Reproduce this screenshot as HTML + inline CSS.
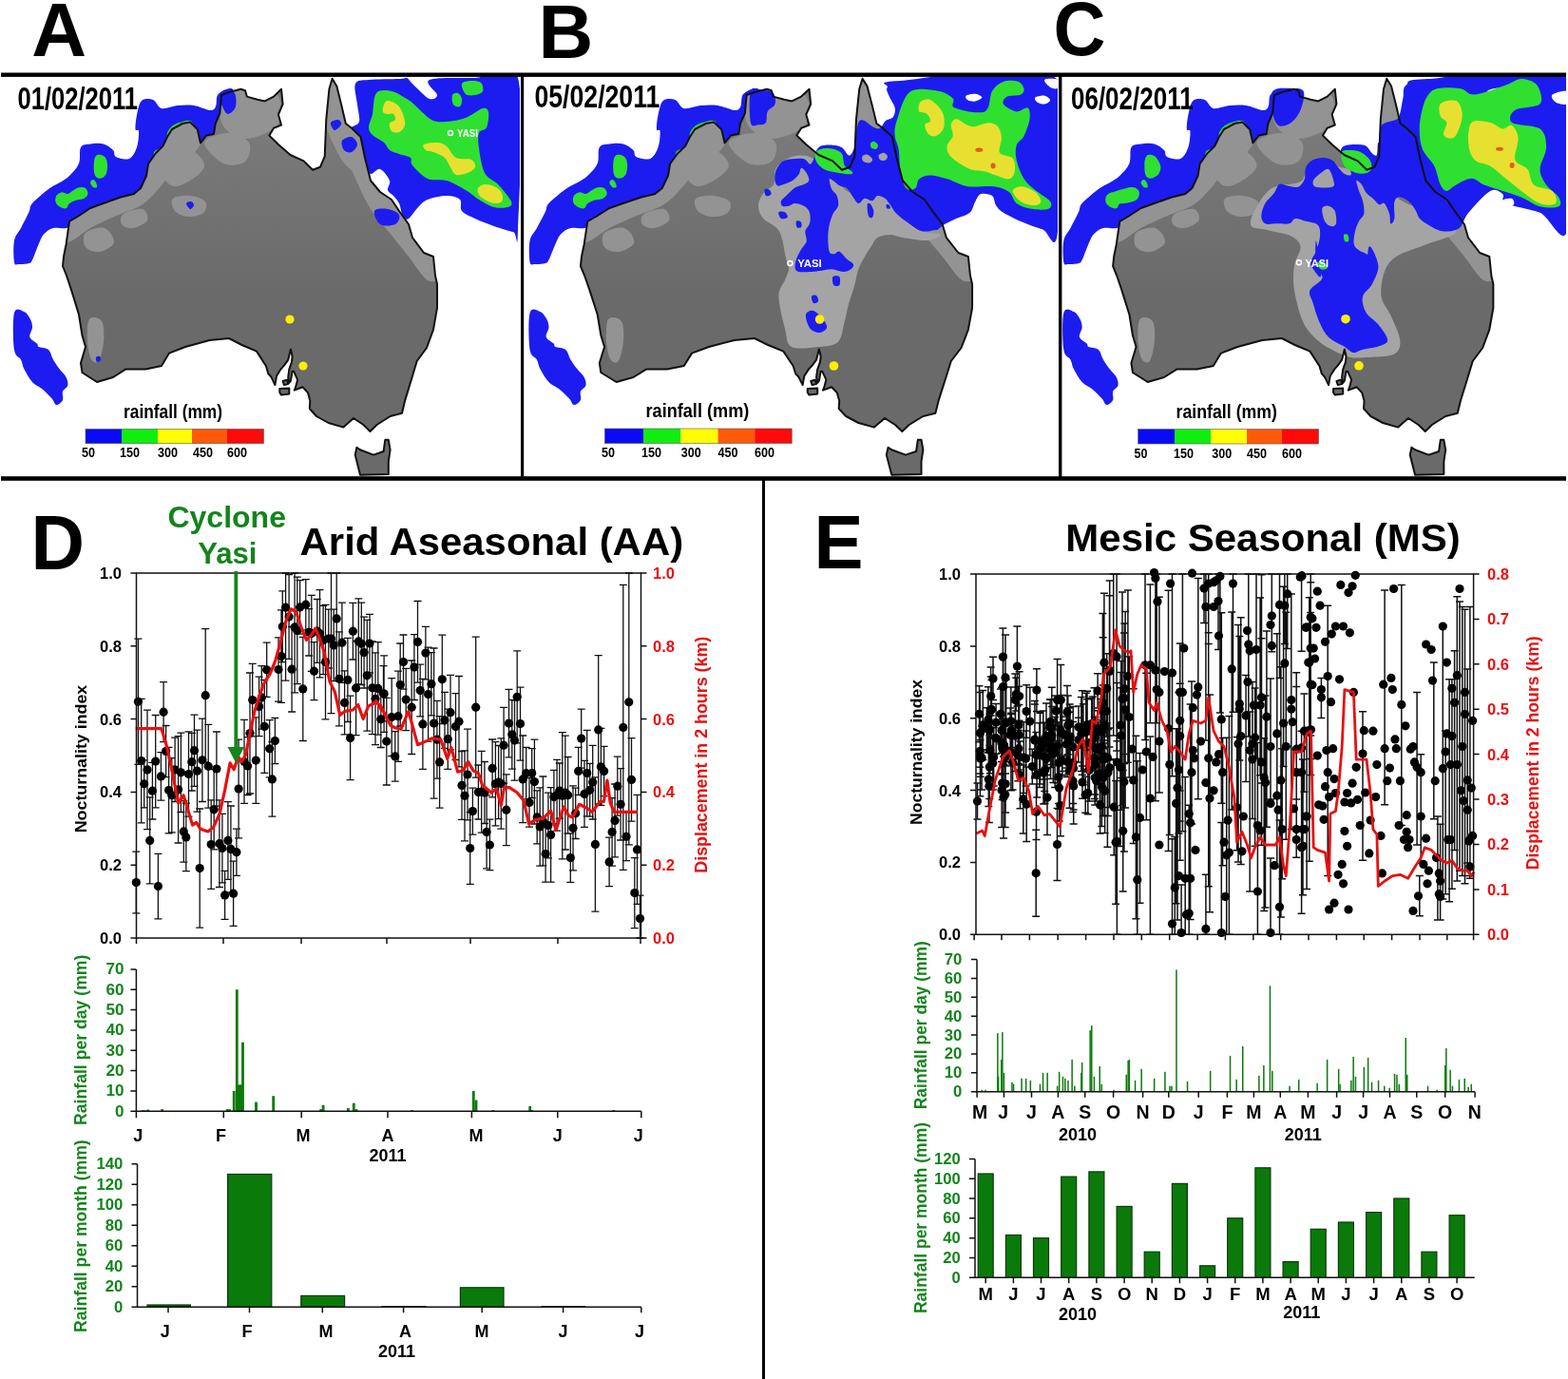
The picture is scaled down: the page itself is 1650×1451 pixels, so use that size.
<!DOCTYPE html><html><head><meta charset="utf-8"><title>figure</title><style>html,body{margin:0;padding:0;background:#fff;overflow:hidden}svg{display:block}text{font-family:"Liberation Sans",Arial,sans-serif;font-weight:bold}</style></head><body>
<svg width="1650" height="1451" viewBox="0 0 1650 1451">
<defs>
<clipPath id="cA"><rect x="0" y="80" width="547" height="421"/></clipPath>
<clipPath id="cB"><rect x="551" y="80" width="562" height="421"/></clipPath>
<clipPath id="cC"><rect x="1117" y="80" width="531" height="421"/></clipPath>
<clipPath id="landclip"><polygon points="86.5,392.0 85.0,382.0 90.0,365.0 86.5,353.0 83.0,331.0 75.0,305.0 70.0,290.0 66.0,280.0 67.0,270.0 69.6,257.0 73.0,233.0 81.5,228.0 95.0,219.0 108.6,214.0 127.0,207.5 141.0,204.0 148.0,198.0 154.0,185.0 156.0,172.5 163.6,161.5 171.5,153.6 176.0,144.0 181.0,136.0 192.0,130.0 200.0,128.4 207.8,136.3 211.0,150.5 217.0,142.6 225.0,141.0 226.7,130.0 231.4,119.0 233.0,100.0 240.8,97.0 253.5,93.8 258.0,95.3 259.8,101.6 270.8,104.8 278.7,106.4 288.0,101.6 296.0,93.8 297.6,109.5 292.9,120.5 296.0,131.6 288.0,134.7 283.4,142.6 292.9,152.0 305.5,163.0 319.6,169.4 329.0,178.8 337.0,175.7 341.7,164.7 343.3,125.3 346.4,93.8 349.6,82.7 354.3,90.6 359.0,109.5 363.8,130.0 370.0,134.7 379.5,144.0 384.0,166.0 390.0,190.0 400.0,202.0 412.0,210.0 420.0,222.0 430.0,236.0 434.0,250.0 446.0,266.0 456.0,270.0 458.0,290.0 460.0,299.0 460.0,324.0 456.0,346.8 449.0,366.0 438.7,380.0 433.4,397.7 426.4,420.6 423.0,434.7 410.6,438.0 396.5,447.0 389.5,454.0 382.5,447.0 372.0,440.0 361.4,449.6 345.6,445.0 333.0,438.0 325.8,430.0 326.3,421.7 324.1,413.4 318.6,407.3 309.8,410.6 310.9,407.9 313.1,399.6 309.2,390.8 307.6,390.8 305.9,400.7 304.3,402.9 303.2,396.9 304.3,388.6 307.0,380.9 307.6,374.8 305.9,367.6 303.2,378.7 299.3,384.2 295.4,388.6 291.0,395.8 289.4,405.1 285.5,396.9 282.2,393.0 280.0,385.3 270.0,369.6 254.5,363.0 241.0,356.0 220.6,358.0 195.0,365.0 178.0,371.6 170.0,385.0 153.0,388.6 132.0,388.6 119.0,397.0 102.0,402.0"/></clipPath>
<linearGradient id="medg" gradientUnits="userSpaceOnUse" x1="0" y1="140" x2="0" y2="310"><stop offset="0" stop-color="#7a7a7a"/><stop offset="1" stop-color="#7a7a7a" stop-opacity="0"/></linearGradient>
</defs>
<g clip-path="url(#cA)">
<g transform="matrix(1.0 0 0 1 0.0 0)">
<path d="M15.0,276.0 C14.2,271.8 13.8,259.0 15.0,253.0 C16.2,247.0 19.4,245.0 22.0,240.0 C24.6,235.0 28.5,227.3 30.5,223.0 C32.5,218.7 30.6,218.0 34.0,214.0 C37.4,210.0 46.2,202.7 51.0,199.0 C55.8,195.3 59.3,194.3 63.0,192.0 C66.7,189.7 69.7,188.3 73.0,185.0 C76.3,181.7 81.0,177.0 83.0,172.0 C85.0,167.0 83.0,158.4 85.0,155.0 C87.0,151.6 91.0,152.1 95.0,151.5 C99.0,150.9 105.0,150.4 109.0,151.5 C113.0,152.6 116.8,155.8 119.0,158.0 C121.2,160.2 119.2,163.5 122.0,165.0 C124.8,166.5 132.3,168.7 136.0,167.0 C139.7,165.3 142.3,159.8 144.0,155.0 C145.7,150.2 146.2,141.2 146.0,138.0 C145.8,134.8 142.8,138.8 142.5,136.0 C142.2,133.2 142.9,126.0 144.0,121.0 C145.1,116.0 146.2,108.7 149.0,106.0 C151.8,103.3 157.5,103.7 161.0,105.0 C164.5,106.3 165.7,113.0 170.0,114.0 C174.3,115.0 181.3,111.5 187.0,111.0 C192.7,110.5 198.3,110.2 204.0,111.0 C209.7,111.8 217.2,115.8 221.0,116.0 C224.8,116.2 225.7,114.7 227.0,112.0 C228.3,109.3 227.2,103.0 229.0,100.0 C230.8,97.0 235.2,94.8 238.0,94.0 C240.8,93.2 244.2,91.7 246.0,95.5 C247.8,99.3 249.3,111.6 249.0,117.0 C248.7,122.4 247.2,122.5 244.0,128.0 C240.8,133.5 237.3,143.0 230.0,150.0 C222.7,157.0 213.3,159.2 200.0,170.0 C186.7,180.8 168.3,204.2 150.0,215.0 C131.7,225.8 103.3,230.8 90.0,235.0 C76.7,239.2 75.7,239.2 70.0,240.0 C64.3,240.8 60.0,238.9 56.0,240.0 C52.0,241.1 48.5,243.7 46.0,246.5 C43.5,249.3 42.7,252.2 40.7,256.7 C38.7,261.2 35.7,270.2 34.0,273.6 C32.3,277.0 32.8,276.3 30.5,277.0 C28.2,277.7 22.6,278.2 20.0,278.0 C17.4,277.8 15.8,280.2 15.0,276.0Z" fill="#1c1cf0" />
<path d="M99.0,170.0 C99.3,167.2 99.8,165.2 101.0,164.0 C102.2,162.8 104.3,162.7 106.0,163.0 C107.7,163.3 109.8,164.3 111.0,166.0 C112.2,167.7 112.8,170.3 113.0,173.0 C113.2,175.7 112.8,179.7 112.0,182.0 C111.2,184.3 109.7,186.2 108.0,187.0 C106.3,187.8 103.5,188.0 102.0,187.0 C100.5,186.0 99.5,183.8 99.0,181.0 C98.5,178.2 98.7,172.8 99.0,170.0Z" fill="#30e030" />
<path d="M59.4,205.8 C60.4,204.1 62.5,202.7 64.5,202.4 C66.5,202.1 69.3,204.3 71.3,204.0 C73.3,203.7 74.4,201.8 76.4,200.7 C78.4,199.6 80.8,197.7 83.1,197.3 C85.3,196.9 88.3,197.0 89.9,198.1 C91.5,199.2 92.8,202.2 92.5,204.0 C92.2,205.8 90.3,208.0 88.2,209.1 C86.1,210.2 82.3,210.0 79.8,210.8 C77.3,211.7 74.7,212.8 73.0,214.2 C71.3,215.6 71.3,218.7 69.6,219.3 C67.9,219.9 64.6,218.7 62.8,217.6 C60.9,216.5 59.1,214.5 58.5,212.5 C57.9,210.5 58.4,207.5 59.4,205.8Z" fill="#30e030" />
<path d="M95.0,192.0 C95.0,190.7 97.0,189.0 98.0,189.0 C99.0,189.0 100.3,190.7 101.0,192.0 C101.7,193.3 102.5,196.2 102.0,197.0 C101.5,197.8 99.2,197.8 98.0,197.0 C96.8,196.2 95.0,193.3 95.0,192.0Z" fill="#30e030" />
<path d="M176.0,140.0 C176.7,137.3 179.3,134.0 182.0,132.0 C184.7,130.0 189.0,128.8 192.0,128.0 C195.0,127.2 198.2,126.5 200.0,127.0 C201.8,127.5 202.7,129.2 203.0,131.0 C203.3,132.8 203.2,136.2 202.0,138.0 C200.8,139.8 198.7,140.7 196.0,142.0 C193.3,143.3 189.0,145.0 186.0,146.0 C183.0,147.0 179.7,149.0 178.0,148.0 C176.3,147.0 175.3,142.7 176.0,140.0Z" fill="#30e030" />
<path d="M162.0,160.0 C162.7,158.5 165.7,157.0 167.0,157.0 C168.3,157.0 169.8,158.5 170.0,160.0 C170.2,161.5 169.2,165.0 168.0,166.0 C166.8,167.0 164.0,167.0 163.0,166.0 C162.0,165.0 161.3,161.5 162.0,160.0Z" fill="#30e030" />
<path d="M15.0,329.0 C16.8,322.3 22.7,326.8 25.5,328.0 C28.3,329.2 30.6,333.2 32.0,336.0 C33.4,338.8 34.1,341.4 34.0,344.5 C33.9,347.6 30.6,351.9 31.4,354.7 C32.2,357.5 37.5,359.8 39.0,361.5 C40.5,363.2 38.7,363.9 40.7,365.0 C42.7,366.1 48.5,365.8 51.0,368.0 C53.5,370.2 54.0,375.0 56.0,378.4 C58.0,381.8 60.5,385.5 62.8,388.6 C65.1,391.7 68.2,394.2 69.6,397.0 C71.0,399.8 71.9,403.1 71.3,405.6 C70.7,408.1 66.9,409.4 66.0,412.0 C65.1,414.6 67.1,418.7 66.0,421.0 C64.9,423.3 61.4,426.3 59.4,426.0 C57.4,425.7 56.9,421.8 54.3,419.0 C51.7,416.2 47.4,411.8 44.0,409.0 C40.6,406.2 37.1,405.4 34.0,402.0 C30.9,398.6 27.5,392.5 25.5,388.6 C23.5,384.7 23.8,381.8 22.0,378.4 C20.2,375.0 16.2,376.2 15.0,368.0 C13.8,359.8 13.2,335.7 15.0,329.0Z" fill="#1c1cf0" />
</g>
<path d="M376.0,110.0 C375.3,103.3 372.0,92.3 374.0,88.0 C376.0,83.7 380.3,84.8 388.0,84.0 C395.7,83.2 413.3,83.3 420.0,83.0 C426.7,82.7 426.0,81.5 428.0,82.0 C430.0,82.5 430.0,84.0 432.0,86.0 C434.0,88.0 436.7,91.0 440.0,94.0 C443.3,97.0 448.7,103.0 452.0,104.0 C455.3,105.0 460.0,103.3 460.0,100.0 C460.0,96.7 445.3,87.0 452.0,84.0 C458.7,81.0 484.5,82.3 500.0,82.0 C515.5,81.7 537.5,55.3 545.0,82.0 C552.5,108.7 545.8,215.0 545.0,242.0 C544.2,269.0 544.2,244.7 540.0,244.0 C535.8,243.3 526.7,240.3 520.0,238.0 C513.3,235.7 505.7,232.7 500.0,230.0 C494.3,227.3 488.7,225.3 486.0,222.0 C483.3,218.7 486.7,212.7 484.0,210.0 C481.3,207.3 475.7,206.0 470.0,206.0 C464.3,206.0 455.0,208.0 450.0,210.0 C445.0,212.0 443.3,214.7 440.0,218.0 C436.7,221.3 432.7,228.3 430.0,230.0 C427.3,231.7 425.7,230.7 424.0,228.0 C422.3,225.3 421.7,217.7 420.0,214.0 C418.3,210.3 416.0,208.3 414.0,206.0 C412.0,203.7 408.7,202.7 408.0,200.0 C407.3,197.3 411.3,193.7 410.0,190.0 C408.7,186.3 403.3,179.2 400.0,178.0 C396.7,176.8 392.5,184.0 390.0,183.0 C387.5,182.0 386.5,177.5 385.0,172.0 C383.5,166.5 382.8,155.7 381.0,150.0 C379.2,144.3 375.8,140.7 374.0,138.0 C372.2,135.3 369.3,135.7 370.0,134.0 C370.7,132.3 377.0,132.0 378.0,128.0 C379.0,124.0 376.7,116.7 376.0,110.0Z" fill="#1c1cf0" />
<path d="M396.0,98.0 C399.3,94.0 406.7,95.0 412.0,96.0 C417.3,97.0 424.0,101.7 428.0,104.0 C432.0,106.3 431.7,106.3 436.0,110.0 C440.3,113.7 448.3,123.0 454.0,126.0 C459.7,129.0 464.0,128.3 470.0,128.0 C476.0,127.7 483.7,126.3 490.0,124.0 C496.3,121.7 504.0,115.0 508.0,114.0 C512.0,113.0 513.3,114.7 514.0,118.0 C514.7,121.3 513.7,130.3 512.0,134.0 C510.3,137.7 505.3,136.3 504.0,140.0 C502.7,143.7 503.0,149.0 504.0,156.0 C505.0,163.0 506.7,175.7 510.0,182.0 C513.3,188.3 519.3,189.0 524.0,194.0 C528.7,199.0 536.3,208.0 538.0,212.0 C539.7,216.0 537.0,217.0 534.0,218.0 C531.0,219.0 525.0,219.3 520.0,218.0 C515.0,216.7 509.0,213.0 504.0,210.0 C499.0,207.0 495.7,203.3 490.0,200.0 C484.3,196.7 476.7,192.0 470.0,190.0 C463.3,188.0 456.0,190.7 450.0,188.0 C444.0,185.3 437.0,177.7 434.0,174.0 C431.0,170.3 434.3,168.0 432.0,166.0 C429.7,164.0 423.7,163.3 420.0,162.0 C416.3,160.7 412.7,160.0 410.0,158.0 C407.3,156.0 407.0,152.7 404.0,150.0 C401.0,147.3 394.7,144.7 392.0,142.0 C389.3,139.3 388.0,137.7 388.0,134.0 C388.0,130.3 390.7,126.0 392.0,120.0 C393.3,114.0 392.7,102.0 396.0,98.0Z" fill="#30e030" />
<path d="M486.0,88.0 C487.0,85.7 492.7,85.2 496.0,85.0 C499.3,84.8 504.0,85.2 506.0,87.0 C508.0,88.8 509.0,93.8 508.0,96.0 C507.0,98.2 503.0,99.5 500.0,100.0 C497.0,100.5 492.3,101.0 490.0,99.0 C487.7,97.0 485.0,90.3 486.0,88.0Z" fill="#30e030" />
<path d="M476.0,100.0 C476.8,98.0 480.3,97.3 482.0,98.0 C483.7,98.7 485.7,101.7 486.0,104.0 C486.3,106.3 485.5,111.0 484.0,112.0 C482.5,113.0 478.3,112.0 477.0,110.0 C475.7,108.0 475.2,102.0 476.0,100.0Z" fill="#30e030" />
<path d="M408.0,106.0 C410.3,106.0 415.3,107.7 418.0,110.0 C420.7,112.3 422.7,116.3 424.0,120.0 C425.3,123.7 426.7,128.8 426.0,132.0 C425.3,135.2 422.3,138.0 420.0,139.0 C417.7,140.0 413.7,139.5 412.0,138.0 C410.3,136.5 409.3,132.0 410.0,130.0 C410.7,128.0 415.3,127.7 416.0,126.0 C416.7,124.3 415.3,121.0 414.0,120.0 C412.7,119.0 409.8,120.3 408.0,120.0 C406.2,119.7 403.7,119.7 403.0,118.0 C402.3,116.3 403.2,112.0 404.0,110.0 C404.8,108.0 405.7,106.0 408.0,106.0Z" fill="#e8e030" />
<path d="M446.0,152.0 C448.0,150.7 456.0,149.7 460.0,150.0 C464.0,150.3 466.7,151.3 470.0,154.0 C473.3,156.7 475.7,163.7 480.0,166.0 C484.3,168.3 492.7,166.3 496.0,168.0 C499.3,169.7 500.7,173.7 500.0,176.0 C499.3,178.3 495.3,180.7 492.0,182.0 C488.7,183.3 483.0,185.0 480.0,184.0 C477.0,183.0 476.0,179.0 474.0,176.0 C472.0,173.0 471.0,168.7 468.0,166.0 C465.0,163.3 459.3,161.3 456.0,160.0 C452.7,158.7 449.7,159.3 448.0,158.0 C446.3,156.7 444.0,153.3 446.0,152.0Z" fill="#e8e030" />
<path d="M503.0,198.0 C504.0,196.2 507.2,194.3 510.0,194.0 C512.8,193.7 517.0,194.5 520.0,196.0 C523.0,197.5 526.7,200.3 528.0,203.0 C529.3,205.7 529.3,210.2 528.0,212.0 C526.7,213.8 523.0,214.3 520.0,214.0 C517.0,213.7 512.7,211.5 510.0,210.0 C507.3,208.5 505.2,207.0 504.0,205.0 C502.8,203.0 502.0,199.8 503.0,198.0Z" fill="#e8e030" />
<g transform="matrix(1.0 0 0 1 0.0 0)">
<polygon points="86.5,392.0 85.0,382.0 90.0,365.0 86.5,353.0 83.0,331.0 75.0,305.0 70.0,290.0 66.0,280.0 67.0,270.0 69.6,257.0 73.0,233.0 81.5,228.0 95.0,219.0 108.6,214.0 127.0,207.5 141.0,204.0 148.0,198.0 154.0,185.0 156.0,172.5 163.6,161.5 171.5,153.6 176.0,144.0 181.0,136.0 192.0,130.0 200.0,128.4 207.8,136.3 211.0,150.5 217.0,142.6 225.0,141.0 226.7,130.0 231.4,119.0 233.0,100.0 240.8,97.0 253.5,93.8 258.0,95.3 259.8,101.6 270.8,104.8 278.7,106.4 288.0,101.6 296.0,93.8 297.6,109.5 292.9,120.5 296.0,131.6 288.0,134.7 283.4,142.6 292.9,152.0 305.5,163.0 319.6,169.4 329.0,178.8 337.0,175.7 341.7,164.7 343.3,125.3 346.4,93.8 349.6,82.7 354.3,90.6 359.0,109.5 363.8,130.0 370.0,134.7 379.5,144.0 384.0,166.0 390.0,190.0 400.0,202.0 412.0,210.0 420.0,222.0 430.0,236.0 434.0,250.0 446.0,266.0 456.0,270.0 458.0,290.0 460.0,299.0 460.0,324.0 456.0,346.8 449.0,366.0 438.7,380.0 433.4,397.7 426.4,420.6 423.0,434.7 410.6,438.0 396.5,447.0 389.5,454.0 382.5,447.0 372.0,440.0 361.4,449.6 345.6,445.0 333.0,438.0 325.8,430.0 326.3,421.7 324.1,413.4 318.6,407.3 309.8,410.6 310.9,407.9 313.1,399.6 309.2,390.8 307.6,390.8 305.9,400.7 304.3,402.9 303.2,396.9 304.3,388.6 307.0,380.9 307.6,374.8 305.9,367.6 303.2,378.7 299.3,384.2 295.4,388.6 291.0,395.8 289.4,405.1 285.5,396.9 282.2,393.0 280.0,385.3 270.0,369.6 254.5,363.0 241.0,356.0 220.6,358.0 195.0,365.0 178.0,371.6 170.0,385.0 153.0,388.6 132.0,388.6 119.0,397.0 102.0,402.0" fill="#6a6a6a" />
<polygon points="375.4,470.7 379.0,473.3 393.0,478.6 403.6,475.0 405.3,462.8 408.8,462.8 410.6,473.3 408.8,485.6 408.8,499.0 379.0,499.8 373.7,478.6" fill="#6a6a6a" />
<polygon points="294.3,409.0 304.3,408.4 304.3,414.5 296.0,415.6 294.3,413.0" fill="#6a6a6a" />
<polygon points="297.6,401.0 302.0,399.6 303.2,404.0 299.0,405.1" fill="#6a6a6a" />
<g clip-path="url(#landclip)">
<rect x="0" y="60" width="520" height="280" fill="url(#medg)"/>
<path d="M60.0,235.0 C63.3,228.3 78.3,220.8 90.0,215.0 C101.7,209.2 120.0,205.0 130.0,200.0 C140.0,195.0 145.0,191.7 150.0,185.0 C155.0,178.3 155.8,167.5 160.0,160.0 C164.2,152.5 168.3,146.7 175.0,140.0 C181.7,133.3 193.3,120.0 200.0,120.0 C206.7,120.0 214.2,133.3 215.0,140.0 C215.8,146.7 210.0,154.2 205.0,160.0 C200.0,165.8 190.8,169.2 185.0,175.0 C179.2,180.8 175.8,188.3 170.0,195.0 C164.2,201.7 158.3,209.5 150.0,215.0 C141.7,220.5 129.2,223.8 120.0,228.0 C110.8,232.2 103.3,235.5 95.0,240.0 C86.7,244.5 75.8,255.8 70.0,255.0 C64.2,254.2 56.7,241.7 60.0,235.0Z" fill="#939393" />
<path d="M165.0,170.0 C165.8,163.3 178.3,156.7 185.0,155.0 C191.7,153.3 200.0,156.7 205.0,160.0 C210.0,163.3 215.8,170.0 215.0,175.0 C214.2,180.0 205.8,186.7 200.0,190.0 C194.2,193.3 185.8,198.3 180.0,195.0 C174.2,191.7 164.2,176.7 165.0,170.0Z" fill="#939393" />
<path d="M215.0,150.0 C215.8,144.7 232.2,140.0 240.0,140.0 C247.8,140.0 259.0,145.0 262.0,150.0 C265.0,155.0 262.5,166.3 258.0,170.0 C253.5,173.7 242.2,175.3 235.0,172.0 C227.8,168.7 214.2,155.3 215.0,150.0Z" fill="#939393" />
<path d="M235.0,100.0 C240.0,95.0 252.5,95.0 262.0,95.0 C271.5,95.0 286.7,94.5 292.0,100.0 C297.3,105.5 296.0,121.3 294.0,128.0 C292.0,134.7 286.0,137.0 280.0,140.0 C274.0,143.0 264.3,146.0 258.0,146.0 C251.7,146.0 246.3,143.5 242.0,140.0 C237.7,136.5 233.2,131.7 232.0,125.0 C230.8,118.3 230.0,105.0 235.0,100.0Z" fill="#939393" />
<path d="M340.0,85.0 C343.3,79.2 354.7,76.7 360.0,85.0 C365.3,93.3 367.8,124.2 372.0,135.0 C376.2,145.8 383.7,142.5 385.0,150.0 C386.3,157.5 383.3,175.8 380.0,180.0 C376.7,184.2 370.0,180.0 365.0,175.0 C360.0,170.0 354.2,159.2 350.0,150.0 C345.8,140.8 341.7,130.8 340.0,120.0 C338.3,109.2 336.7,90.8 340.0,85.0Z" fill="#939393" />
<path d="M375.0,140.0 C380.0,140.0 390.8,151.7 395.0,160.0 C399.2,168.3 395.8,181.7 400.0,190.0 C404.2,198.3 413.3,201.7 420.0,210.0 C426.7,218.3 434.2,230.8 440.0,240.0 C445.8,249.2 450.8,256.7 455.0,265.0 C459.2,273.3 465.8,285.0 465.0,290.0 C464.2,295.0 455.8,298.3 450.0,295.0 C444.2,291.7 436.7,278.3 430.0,270.0 C423.3,261.7 416.7,253.3 410.0,245.0 C403.3,236.7 395.8,229.2 390.0,220.0 C384.2,210.8 379.2,200.0 375.0,190.0 C370.8,180.0 365.0,168.3 365.0,160.0 C365.0,151.7 370.0,140.0 375.0,140.0Z" fill="#939393" />
<path d="M182.0,209.0 C184.7,206.3 194.3,205.5 200.0,206.0 C205.7,206.5 213.7,209.0 216.0,212.0 C218.3,215.0 217.0,221.3 214.0,224.0 C211.0,226.7 203.0,228.3 198.0,228.0 C193.0,227.7 186.7,225.2 184.0,222.0 C181.3,218.8 179.3,211.7 182.0,209.0Z" fill="#939393" />
<path d="M93.0,338.0 C94.3,333.7 97.5,333.7 100.0,334.0 C102.5,334.3 106.5,335.7 108.0,340.0 C109.5,344.3 109.7,353.3 109.0,360.0 C108.3,366.7 106.2,377.0 104.0,380.0 C101.8,383.0 98.0,381.3 96.0,378.0 C94.0,374.7 92.5,366.7 92.0,360.0 C91.5,353.3 91.7,342.3 93.0,338.0Z" fill="#939393" />
<path d="M90.0,245.0 C93.3,241.7 105.0,238.3 110.0,240.0 C115.0,241.7 120.8,250.8 120.0,255.0 C119.2,259.2 110.0,264.2 105.0,265.0 C100.0,265.8 92.5,263.3 90.0,260.0 C87.5,256.7 86.7,248.3 90.0,245.0Z" fill="#939393" />
<path d="M130.0,225.0 C133.7,222.3 145.8,218.8 150.0,220.0 C154.2,221.2 156.7,228.7 155.0,232.0 C153.3,235.3 144.5,239.3 140.0,240.0 C135.5,240.7 129.7,238.5 128.0,236.0 C126.3,233.5 126.3,227.7 130.0,225.0Z" fill="#939393" />
</g>
<path d="M196.0,214.0 C196.2,212.7 199.7,211.7 201.0,212.0 C202.3,212.3 204.2,214.7 204.0,216.0 C203.8,217.3 201.3,220.3 200.0,220.0 C198.7,219.7 195.8,215.3 196.0,214.0Z" fill="#1c1cf0" />
<path d="M101.0,376.0 C101.5,375.0 104.2,374.5 105.0,375.0 C105.8,375.5 106.5,378.0 106.0,379.0 C105.5,380.0 102.8,381.5 102.0,381.0 C101.2,380.5 100.5,377.0 101.0,376.0Z" fill="#1c1cf0" />
<path d="M348.0,129.0 C348.7,127.2 354.2,125.7 356.0,126.0 C357.8,126.3 359.7,129.2 359.0,131.0 C358.3,132.8 353.8,137.3 352.0,137.0 C350.2,136.7 347.3,130.8 348.0,129.0Z" fill="#1c1cf0" />
<path d="M360.0,148.0 C361.3,145.7 367.3,143.3 370.0,144.0 C372.7,144.7 376.0,149.3 376.0,152.0 C376.0,154.7 372.3,159.0 370.0,160.0 C367.7,161.0 363.7,160.0 362.0,158.0 C360.3,156.0 358.7,150.3 360.0,148.0Z" fill="#1c1cf0" />
<path d="M394.0,222.0 C395.3,219.3 403.7,219.3 408.0,220.0 C412.3,220.7 418.7,223.3 420.0,226.0 C421.3,228.7 419.3,234.3 416.0,236.0 C412.7,237.7 403.7,238.3 400.0,236.0 C396.3,233.7 392.7,224.7 394.0,222.0Z" fill="#1c1cf0" />
<path d="M232.0,102.0 C234.0,99.5 243.3,95.3 246.0,97.0 C248.7,98.7 249.0,108.2 248.0,112.0 C247.0,115.8 242.3,120.0 240.0,120.0 C237.7,120.0 235.3,115.0 234.0,112.0 C232.7,109.0 230.0,104.5 232.0,102.0Z" fill="#1c1cf0" />
</g>
<g transform="matrix(1.0 0 0 1 0.0 0)">
<polygon points="86.5,392.0 85.0,382.0 90.0,365.0 86.5,353.0 83.0,331.0 75.0,305.0 70.0,290.0 66.0,280.0 67.0,270.0 69.6,257.0 73.0,233.0 81.5,228.0 95.0,219.0 108.6,214.0 127.0,207.5 141.0,204.0 148.0,198.0 154.0,185.0 156.0,172.5 163.6,161.5 171.5,153.6 176.0,144.0 181.0,136.0 192.0,130.0 200.0,128.4 207.8,136.3 211.0,150.5 217.0,142.6 225.0,141.0 226.7,130.0 231.4,119.0 233.0,100.0 240.8,97.0 253.5,93.8 258.0,95.3 259.8,101.6 270.8,104.8 278.7,106.4 288.0,101.6 296.0,93.8 297.6,109.5 292.9,120.5 296.0,131.6 288.0,134.7 283.4,142.6 292.9,152.0 305.5,163.0 319.6,169.4 329.0,178.8 337.0,175.7 341.7,164.7 343.3,125.3 346.4,93.8 349.6,82.7 354.3,90.6 359.0,109.5 363.8,130.0 370.0,134.7 379.5,144.0 384.0,166.0 390.0,190.0 400.0,202.0 412.0,210.0 420.0,222.0 430.0,236.0 434.0,250.0 446.0,266.0 456.0,270.0 458.0,290.0 460.0,299.0 460.0,324.0 456.0,346.8 449.0,366.0 438.7,380.0 433.4,397.7 426.4,420.6 423.0,434.7 410.6,438.0 396.5,447.0 389.5,454.0 382.5,447.0 372.0,440.0 361.4,449.6 345.6,445.0 333.0,438.0 325.8,430.0 326.3,421.7 324.1,413.4 318.6,407.3 309.8,410.6 310.9,407.9 313.1,399.6 309.2,390.8 307.6,390.8 305.9,400.7 304.3,402.9 303.2,396.9 304.3,388.6 307.0,380.9 307.6,374.8 305.9,367.6 303.2,378.7 299.3,384.2 295.4,388.6 291.0,395.8 289.4,405.1 285.5,396.9 282.2,393.0 280.0,385.3 270.0,369.6 254.5,363.0 241.0,356.0 220.6,358.0 195.0,365.0 178.0,371.6 170.0,385.0 153.0,388.6 132.0,388.6 119.0,397.0 102.0,402.0" fill="none" stroke="#111" stroke-width="2" stroke-linejoin="round" vector-effect="non-scaling-stroke"/>
<polygon points="375.4,470.7 379.0,473.3 393.0,478.6 403.6,475.0 405.3,462.8 408.8,462.8 410.6,473.3 408.8,485.6 408.8,499.0 379.0,499.8 373.7,478.6" fill="none" stroke="#111" stroke-width="2" stroke-linejoin="round" vector-effect="non-scaling-stroke"/>
<polygon points="294.3,409.0 304.3,408.4 304.3,414.5 296.0,415.6 294.3,413.0" fill="none" stroke="#111" stroke-width="2" stroke-linejoin="round" vector-effect="non-scaling-stroke"/>
<polygon points="297.6,401.0 302.0,399.6 303.2,404.0 299.0,405.1" fill="none" stroke="#111" stroke-width="2" stroke-linejoin="round" vector-effect="non-scaling-stroke"/>
</g>
<circle cx="305" cy="336" r="4.6" fill="#ffee00"/><circle cx="319" cy="385" r="4.6" fill="#ffee00"/>
<text x="481" y="144" font-size="11" fill="#fff" text-anchor="start" textLength="22" lengthAdjust="spacingAndGlyphs" >YASI</text>
<circle cx="474" cy="140" r="2.5" fill="none" stroke="#fff" stroke-width="1.5"/>
</g>
<text x="18.5" y="114.5" font-size="34" fill="#000" text-anchor="start" textLength="126.5" lengthAdjust="spacingAndGlyphs" >01/02/2011</text>
<rect x="90" y="451.4" width="38" height="15.300000000000011" fill="#0a0af5"/>
<rect x="128" y="451.4" width="38" height="15.300000000000011" fill="#10ee10"/>
<rect x="166" y="451.4" width="36" height="15.300000000000011" fill="#ffff00"/>
<rect x="202" y="451.4" width="37" height="15.300000000000011" fill="#ff5a08"/>
<rect x="239" y="451.4" width="38.5" height="15.300000000000011" fill="#ff0a0a"/>
<rect x="90" y="451.4" width="187.5" height="15.300000000000011" fill="none" stroke="#555" stroke-width="0.6"/>
<text x="86" y="481" font-size="15" fill="#000" text-anchor="start" textLength="14" lengthAdjust="spacingAndGlyphs" >50</text>
<text x="126" y="481" font-size="15" fill="#000" text-anchor="start" textLength="21" lengthAdjust="spacingAndGlyphs" >150</text>
<text x="166" y="481" font-size="15" fill="#000" text-anchor="start" textLength="21" lengthAdjust="spacingAndGlyphs" >300</text>
<text x="203" y="481" font-size="15" fill="#000" text-anchor="start" textLength="21" lengthAdjust="spacingAndGlyphs" >450</text>
<text x="239" y="481" font-size="15" fill="#000" text-anchor="start" textLength="21" lengthAdjust="spacingAndGlyphs" >600</text>
<text x="130" y="440" font-size="19.5" fill="#000" text-anchor="start" textLength="104" lengthAdjust="spacingAndGlyphs" >rainfall (mm)</text>
<g clip-path="url(#cB)">
<g transform="matrix(1.046 0 0 1 541.9 0)">
<path d="M15.0,276.0 C14.2,271.8 13.8,259.0 15.0,253.0 C16.2,247.0 19.4,245.0 22.0,240.0 C24.6,235.0 28.5,227.3 30.5,223.0 C32.5,218.7 30.6,218.0 34.0,214.0 C37.4,210.0 46.2,202.7 51.0,199.0 C55.8,195.3 59.3,194.3 63.0,192.0 C66.7,189.7 69.7,188.3 73.0,185.0 C76.3,181.7 81.0,177.0 83.0,172.0 C85.0,167.0 83.0,158.4 85.0,155.0 C87.0,151.6 91.0,152.1 95.0,151.5 C99.0,150.9 105.0,150.4 109.0,151.5 C113.0,152.6 116.8,155.8 119.0,158.0 C121.2,160.2 119.2,163.5 122.0,165.0 C124.8,166.5 132.3,168.7 136.0,167.0 C139.7,165.3 142.3,159.8 144.0,155.0 C145.7,150.2 146.2,141.2 146.0,138.0 C145.8,134.8 142.8,138.8 142.5,136.0 C142.2,133.2 142.9,126.0 144.0,121.0 C145.1,116.0 146.2,108.7 149.0,106.0 C151.8,103.3 157.5,103.7 161.0,105.0 C164.5,106.3 165.7,113.0 170.0,114.0 C174.3,115.0 181.3,111.5 187.0,111.0 C192.7,110.5 198.3,110.2 204.0,111.0 C209.7,111.8 217.2,115.8 221.0,116.0 C224.8,116.2 225.7,114.7 227.0,112.0 C228.3,109.3 227.2,103.0 229.0,100.0 C230.8,97.0 235.2,94.8 238.0,94.0 C240.8,93.2 244.2,91.7 246.0,95.5 C247.8,99.3 249.3,111.6 249.0,117.0 C248.7,122.4 247.2,122.5 244.0,128.0 C240.8,133.5 237.3,143.0 230.0,150.0 C222.7,157.0 213.3,159.2 200.0,170.0 C186.7,180.8 168.3,204.2 150.0,215.0 C131.7,225.8 103.3,230.8 90.0,235.0 C76.7,239.2 75.7,239.2 70.0,240.0 C64.3,240.8 60.0,238.9 56.0,240.0 C52.0,241.1 48.5,243.7 46.0,246.5 C43.5,249.3 42.7,252.2 40.7,256.7 C38.7,261.2 35.7,270.2 34.0,273.6 C32.3,277.0 32.8,276.3 30.5,277.0 C28.2,277.7 22.6,278.2 20.0,278.0 C17.4,277.8 15.8,280.2 15.0,276.0Z" fill="#1c1cf0" />
<path d="M99.0,170.0 C99.3,167.2 99.8,165.2 101.0,164.0 C102.2,162.8 104.3,162.7 106.0,163.0 C107.7,163.3 109.8,164.3 111.0,166.0 C112.2,167.7 112.8,170.3 113.0,173.0 C113.2,175.7 112.8,179.7 112.0,182.0 C111.2,184.3 109.7,186.2 108.0,187.0 C106.3,187.8 103.5,188.0 102.0,187.0 C100.5,186.0 99.5,183.8 99.0,181.0 C98.5,178.2 98.7,172.8 99.0,170.0Z" fill="#30e030" />
<path d="M59.4,205.8 C60.4,204.1 62.5,202.7 64.5,202.4 C66.5,202.1 69.3,204.3 71.3,204.0 C73.3,203.7 74.4,201.8 76.4,200.7 C78.4,199.6 80.8,197.7 83.1,197.3 C85.3,196.9 88.3,197.0 89.9,198.1 C91.5,199.2 92.8,202.2 92.5,204.0 C92.2,205.8 90.3,208.0 88.2,209.1 C86.1,210.2 82.3,210.0 79.8,210.8 C77.3,211.7 74.7,212.8 73.0,214.2 C71.3,215.6 71.3,218.7 69.6,219.3 C67.9,219.9 64.6,218.7 62.8,217.6 C60.9,216.5 59.1,214.5 58.5,212.5 C57.9,210.5 58.4,207.5 59.4,205.8Z" fill="#30e030" />
<path d="M95.0,192.0 C95.0,190.7 97.0,189.0 98.0,189.0 C99.0,189.0 100.3,190.7 101.0,192.0 C101.7,193.3 102.5,196.2 102.0,197.0 C101.5,197.8 99.2,197.8 98.0,197.0 C96.8,196.2 95.0,193.3 95.0,192.0Z" fill="#30e030" />
<path d="M176.0,140.0 C176.7,137.3 179.3,134.0 182.0,132.0 C184.7,130.0 189.0,128.8 192.0,128.0 C195.0,127.2 198.2,126.5 200.0,127.0 C201.8,127.5 202.7,129.2 203.0,131.0 C203.3,132.8 203.2,136.2 202.0,138.0 C200.8,139.8 198.7,140.7 196.0,142.0 C193.3,143.3 189.0,145.0 186.0,146.0 C183.0,147.0 179.7,149.0 178.0,148.0 C176.3,147.0 175.3,142.7 176.0,140.0Z" fill="#30e030" />
<path d="M162.0,160.0 C162.7,158.5 165.7,157.0 167.0,157.0 C168.3,157.0 169.8,158.5 170.0,160.0 C170.2,161.5 169.2,165.0 168.0,166.0 C166.8,167.0 164.0,167.0 163.0,166.0 C162.0,165.0 161.3,161.5 162.0,160.0Z" fill="#30e030" />
<path d="M15.0,329.0 C16.8,322.3 22.7,326.8 25.5,328.0 C28.3,329.2 30.6,333.2 32.0,336.0 C33.4,338.8 34.1,341.4 34.0,344.5 C33.9,347.6 30.6,351.9 31.4,354.7 C32.2,357.5 37.5,359.8 39.0,361.5 C40.5,363.2 38.7,363.9 40.7,365.0 C42.7,366.1 48.5,365.8 51.0,368.0 C53.5,370.2 54.0,375.0 56.0,378.4 C58.0,381.8 60.5,385.5 62.8,388.6 C65.1,391.7 68.2,394.2 69.6,397.0 C71.0,399.8 71.9,403.1 71.3,405.6 C70.7,408.1 66.9,409.4 66.0,412.0 C65.1,414.6 67.1,418.7 66.0,421.0 C64.9,423.3 61.4,426.3 59.4,426.0 C57.4,425.7 56.9,421.8 54.3,419.0 C51.7,416.2 47.4,411.8 44.0,409.0 C40.6,406.2 37.1,405.4 34.0,402.0 C30.9,398.6 27.5,392.5 25.5,388.6 C23.5,384.7 23.8,381.8 22.0,378.4 C20.2,375.0 16.2,376.2 15.0,368.0 C13.8,359.8 13.2,335.7 15.0,329.0Z" fill="#1c1cf0" />
</g>
<g transform="matrix(1.046 0 0 1 541.9 0)">
<polygon points="86.5,392.0 85.0,382.0 90.0,365.0 86.5,353.0 83.0,331.0 75.0,305.0 70.0,290.0 66.0,280.0 67.0,270.0 69.6,257.0 73.0,233.0 81.5,228.0 95.0,219.0 108.6,214.0 127.0,207.5 141.0,204.0 148.0,198.0 154.0,185.0 156.0,172.5 163.6,161.5 171.5,153.6 176.0,144.0 181.0,136.0 192.0,130.0 200.0,128.4 207.8,136.3 211.0,150.5 217.0,142.6 225.0,141.0 226.7,130.0 231.4,119.0 233.0,100.0 240.8,97.0 253.5,93.8 258.0,95.3 259.8,101.6 270.8,104.8 278.7,106.4 288.0,101.6 296.0,93.8 297.6,109.5 292.9,120.5 296.0,131.6 288.0,134.7 283.4,142.6 292.9,152.0 305.5,163.0 319.6,169.4 329.0,178.8 337.0,175.7 341.7,164.7 343.3,125.3 346.4,93.8 349.6,82.7 354.3,90.6 359.0,109.5 363.8,130.0 370.0,134.7 379.5,144.0 384.0,166.0 390.0,190.0 400.0,202.0 412.0,210.0 420.0,222.0 430.0,236.0 434.0,250.0 446.0,266.0 456.0,270.0 458.0,290.0 460.0,299.0 460.0,324.0 456.0,346.8 449.0,366.0 438.7,380.0 433.4,397.7 426.4,420.6 423.0,434.7 410.6,438.0 396.5,447.0 389.5,454.0 382.5,447.0 372.0,440.0 361.4,449.6 345.6,445.0 333.0,438.0 325.8,430.0 326.3,421.7 324.1,413.4 318.6,407.3 309.8,410.6 310.9,407.9 313.1,399.6 309.2,390.8 307.6,390.8 305.9,400.7 304.3,402.9 303.2,396.9 304.3,388.6 307.0,380.9 307.6,374.8 305.9,367.6 303.2,378.7 299.3,384.2 295.4,388.6 291.0,395.8 289.4,405.1 285.5,396.9 282.2,393.0 280.0,385.3 270.0,369.6 254.5,363.0 241.0,356.0 220.6,358.0 195.0,365.0 178.0,371.6 170.0,385.0 153.0,388.6 132.0,388.6 119.0,397.0 102.0,402.0" fill="#6a6a6a" />
<polygon points="375.4,470.7 379.0,473.3 393.0,478.6 403.6,475.0 405.3,462.8 408.8,462.8 410.6,473.3 408.8,485.6 408.8,499.0 379.0,499.8 373.7,478.6" fill="#6a6a6a" />
<polygon points="294.3,409.0 304.3,408.4 304.3,414.5 296.0,415.6 294.3,413.0" fill="#6a6a6a" />
<polygon points="297.6,401.0 302.0,399.6 303.2,404.0 299.0,405.1" fill="#6a6a6a" />
<g clip-path="url(#landclip)">
<rect x="0" y="60" width="520" height="280" fill="url(#medg)"/>
<path d="M60.0,235.0 C63.3,228.3 78.3,220.8 90.0,215.0 C101.7,209.2 120.0,205.0 130.0,200.0 C140.0,195.0 145.0,191.7 150.0,185.0 C155.0,178.3 155.8,167.5 160.0,160.0 C164.2,152.5 168.3,146.7 175.0,140.0 C181.7,133.3 193.3,120.0 200.0,120.0 C206.7,120.0 214.2,133.3 215.0,140.0 C215.8,146.7 210.0,154.2 205.0,160.0 C200.0,165.8 190.8,169.2 185.0,175.0 C179.2,180.8 175.8,188.3 170.0,195.0 C164.2,201.7 158.3,209.5 150.0,215.0 C141.7,220.5 129.2,223.8 120.0,228.0 C110.8,232.2 103.3,235.5 95.0,240.0 C86.7,244.5 75.8,255.8 70.0,255.0 C64.2,254.2 56.7,241.7 60.0,235.0Z" fill="#939393" />
<path d="M165.0,170.0 C165.8,163.3 178.3,156.7 185.0,155.0 C191.7,153.3 200.0,156.7 205.0,160.0 C210.0,163.3 215.8,170.0 215.0,175.0 C214.2,180.0 205.8,186.7 200.0,190.0 C194.2,193.3 185.8,198.3 180.0,195.0 C174.2,191.7 164.2,176.7 165.0,170.0Z" fill="#939393" />
<path d="M215.0,150.0 C215.8,144.7 232.2,140.0 240.0,140.0 C247.8,140.0 259.0,145.0 262.0,150.0 C265.0,155.0 262.5,166.3 258.0,170.0 C253.5,173.7 242.2,175.3 235.0,172.0 C227.8,168.7 214.2,155.3 215.0,150.0Z" fill="#939393" />
<path d="M235.0,100.0 C240.0,95.0 252.5,95.0 262.0,95.0 C271.5,95.0 286.7,94.5 292.0,100.0 C297.3,105.5 296.0,121.3 294.0,128.0 C292.0,134.7 286.0,137.0 280.0,140.0 C274.0,143.0 264.3,146.0 258.0,146.0 C251.7,146.0 246.3,143.5 242.0,140.0 C237.7,136.5 233.2,131.7 232.0,125.0 C230.8,118.3 230.0,105.0 235.0,100.0Z" fill="#939393" />
<path d="M340.0,85.0 C343.3,79.2 354.7,76.7 360.0,85.0 C365.3,93.3 367.8,124.2 372.0,135.0 C376.2,145.8 383.7,142.5 385.0,150.0 C386.3,157.5 383.3,175.8 380.0,180.0 C376.7,184.2 370.0,180.0 365.0,175.0 C360.0,170.0 354.2,159.2 350.0,150.0 C345.8,140.8 341.7,130.8 340.0,120.0 C338.3,109.2 336.7,90.8 340.0,85.0Z" fill="#939393" />
<path d="M375.0,140.0 C380.0,140.0 390.8,151.7 395.0,160.0 C399.2,168.3 395.8,181.7 400.0,190.0 C404.2,198.3 413.3,201.7 420.0,210.0 C426.7,218.3 434.2,230.8 440.0,240.0 C445.8,249.2 450.8,256.7 455.0,265.0 C459.2,273.3 465.8,285.0 465.0,290.0 C464.2,295.0 455.8,298.3 450.0,295.0 C444.2,291.7 436.7,278.3 430.0,270.0 C423.3,261.7 416.7,253.3 410.0,245.0 C403.3,236.7 395.8,229.2 390.0,220.0 C384.2,210.8 379.2,200.0 375.0,190.0 C370.8,180.0 365.0,168.3 365.0,160.0 C365.0,151.7 370.0,140.0 375.0,140.0Z" fill="#939393" />
<path d="M182.0,209.0 C184.7,206.3 194.3,205.5 200.0,206.0 C205.7,206.5 213.7,209.0 216.0,212.0 C218.3,215.0 217.0,221.3 214.0,224.0 C211.0,226.7 203.0,228.3 198.0,228.0 C193.0,227.7 186.7,225.2 184.0,222.0 C181.3,218.8 179.3,211.7 182.0,209.0Z" fill="#939393" />
<path d="M93.0,338.0 C94.3,333.7 97.5,333.7 100.0,334.0 C102.5,334.3 106.5,335.7 108.0,340.0 C109.5,344.3 109.7,353.3 109.0,360.0 C108.3,366.7 106.2,377.0 104.0,380.0 C101.8,383.0 98.0,381.3 96.0,378.0 C94.0,374.7 92.5,366.7 92.0,360.0 C91.5,353.3 91.7,342.3 93.0,338.0Z" fill="#939393" />
<path d="M90.0,245.0 C93.3,241.7 105.0,238.3 110.0,240.0 C115.0,241.7 120.8,250.8 120.0,255.0 C119.2,259.2 110.0,264.2 105.0,265.0 C100.0,265.8 92.5,263.3 90.0,260.0 C87.5,256.7 86.7,248.3 90.0,245.0Z" fill="#939393" />
<path d="M130.0,225.0 C133.7,222.3 145.8,218.8 150.0,220.0 C154.2,221.2 156.7,228.7 155.0,232.0 C153.3,235.3 144.5,239.3 140.0,240.0 C135.5,240.7 129.7,238.5 128.0,236.0 C126.3,233.5 126.3,227.7 130.0,225.0Z" fill="#939393" />
</g>
</g>
<path d="M798.0,216.7 C798.0,212.2 800.6,207.1 803.3,203.3 C806.0,199.5 811.8,198.4 814.0,194.0 C816.2,189.6 813.4,181.6 816.7,176.7 C820.0,171.8 827.8,166.5 834.0,164.7 C840.2,162.9 848.0,162.7 854.0,166.0 C860.0,169.3 865.1,180.0 870.0,184.7 C874.9,189.4 878.8,190.9 883.3,194.0 C887.8,197.1 890.0,201.8 896.7,203.3 C903.4,204.9 916.6,201.7 923.3,203.3 C930.0,204.9 931.1,207.6 936.7,212.7 C942.3,217.8 951.2,228.9 956.7,234.0 C962.2,239.1 964.5,241.1 970.0,243.3 C975.5,245.5 989.0,245.4 990.0,247.0 C991.0,248.6 982.7,252.5 976.0,253.0 C969.3,253.5 956.5,251.0 950.0,250.0 C943.5,249.0 941.2,247.0 936.7,247.0 C932.2,247.0 926.6,247.9 923.3,250.0 C920.0,252.1 918.9,256.0 916.7,259.3 C914.5,262.6 912.2,266.0 910.0,270.0 C907.8,274.0 905.1,278.3 903.3,283.3 C901.5,288.3 901.0,293.9 899.3,300.0 C897.6,306.1 894.8,313.4 893.0,320.0 C891.2,326.6 890.4,332.7 888.5,339.4 C886.6,346.1 886.2,355.7 881.6,360.0 C877.0,364.3 869.0,364.2 860.9,365.0 C852.8,365.8 838.8,368.2 833.0,365.0 C827.2,361.8 828.3,354.9 826.0,346.0 C823.7,337.1 819.4,320.4 819.4,311.8 C819.4,303.2 824.2,299.3 826.0,294.5 C827.8,289.7 829.9,287.1 830.0,283.0 C830.1,278.9 828.4,276.6 826.7,270.0 C825.0,263.4 823.9,250.0 820.0,243.3 C816.1,236.6 807.0,234.4 803.3,230.0 C799.6,225.6 798.0,221.1 798.0,216.7Z" fill="#a4a4a4" />
<path d="M816.7,179.3 C818.0,176.2 820.4,172.0 823.3,170.0 C826.2,168.0 830.2,167.8 834.0,167.3 C837.8,166.9 842.9,166.4 846.0,167.3 C849.1,168.2 850.9,172.9 852.7,172.7 C854.4,172.4 855.6,168.4 856.7,166.0 C857.8,163.6 858.0,160.1 859.3,158.0 C860.7,155.9 861.8,154.2 864.7,153.3 C867.6,152.4 873.1,152.3 876.7,152.7 C880.2,153.0 883.3,153.6 886.0,155.3 C888.7,157.1 890.9,162.4 892.7,163.3 C894.4,164.2 895.3,162.9 896.7,160.7 C898.0,158.4 899.9,153.9 900.7,150.0 C901.4,146.1 900.7,140.9 901.3,137.1 C901.9,133.3 902.8,128.9 904.2,127.2 C905.7,125.6 907.9,126.3 910.1,127.2 C912.4,128.2 915.4,131.8 918.0,133.2 C920.7,134.5 923.6,136.1 925.9,135.1 C928.2,134.1 929.5,129.2 931.8,127.2 C934.1,125.3 938.1,125.6 939.7,123.3 C941.3,121.0 942.3,117.1 941.7,113.5 C941.0,109.8 937.1,105.2 935.8,101.6 C934.4,98.0 931.8,94.6 933.8,91.8 C935.8,89.0 917.7,86.2 947.6,84.9 C977.4,83.6 1085.5,57.5 1113.0,83.9 C1140.6,110.3 1115.7,217.2 1113.0,243.5 C1110.4,269.7 1103.5,243.1 1097.3,241.5 C1091.0,239.8 1082.5,236.6 1075.6,233.6 C1068.7,230.6 1060.5,226.7 1055.9,223.8 C1051.3,220.8 1050.0,218.8 1048.0,215.9 C1046.1,212.9 1046.7,208.0 1044.1,206.0 C1041.5,204.1 1035.2,203.1 1032.3,204.1 C1029.3,205.0 1028.3,208.7 1026.4,211.9 C1024.4,215.2 1023.7,220.8 1020.5,223.8 C1017.2,226.7 1010.9,227.7 1006.7,229.7 C1002.4,231.6 998.1,233.6 994.8,235.6 C991.6,237.5 988.7,240.4 987.0,241.5 C985.3,242.6 987.5,241.7 984.7,242.0 C981.8,242.3 974.7,244.4 970.0,243.3 C965.3,242.2 961.1,238.4 956.7,235.3 C952.2,232.2 946.7,228.0 943.3,224.7 C940.0,221.3 938.7,218.0 936.7,215.3 C934.7,212.7 933.6,210.2 931.3,208.7 C929.1,207.1 925.6,205.6 923.3,206.0 C921.1,206.4 920.2,210.9 918.0,211.3 C915.8,211.8 912.4,208.2 910.0,208.7 C907.6,209.1 905.6,214.4 903.3,214.0 C901.1,213.6 898.7,208.7 896.7,206.0 C894.7,203.3 893.6,199.8 891.3,198.0 C889.1,196.2 885.8,196.7 883.3,195.3 C880.9,194.0 878.4,191.1 876.7,190.0 C874.9,188.9 872.9,187.1 872.7,188.7 C872.4,190.2 874.0,196.4 875.3,199.3 C876.7,202.2 879.6,203.1 880.7,206.0 C881.8,208.9 882.7,213.6 882.0,216.7 C881.3,219.8 878.2,221.3 876.7,224.7 C875.1,228.0 873.6,232.4 872.7,236.7 C871.8,240.9 871.3,245.3 871.3,250.0 C871.3,254.7 871.6,261.8 872.7,264.7 C873.8,267.6 876.2,267.3 878.0,267.3 C879.8,267.3 881.1,263.8 883.3,264.7 C885.6,265.6 888.9,270.4 891.3,272.7 C893.8,274.9 897.3,276.2 898.0,278.0 C898.7,279.8 897.1,282.0 895.3,283.3 C893.6,284.7 890.7,286.0 887.3,286.0 C884.0,286.0 879.1,283.6 875.3,283.3 C871.6,283.1 868.2,284.2 864.7,284.7 C861.1,285.1 858.0,285.8 854.0,286.0 C850.0,286.2 843.6,286.7 840.7,286.0 C837.8,285.3 837.1,284.2 836.7,282.0 C836.2,279.8 836.9,276.0 838.0,272.7 C839.1,269.3 841.6,265.1 843.3,262.0 C845.1,258.9 848.0,257.1 848.7,254.0 C849.3,250.9 846.9,246.2 847.3,243.3 C847.8,240.4 850.4,238.9 851.3,236.7 C852.2,234.4 852.7,232.4 852.7,230.0 C852.7,227.6 852.4,224.2 851.3,222.0 C850.2,219.8 848.4,218.0 846.0,216.7 C843.6,215.3 839.3,214.0 836.7,214.0 C834.0,214.0 832.2,216.2 830.0,216.7 C827.8,217.1 824.7,217.6 823.3,216.7 C822.0,215.8 821.3,213.1 822.0,211.3 C822.7,209.6 825.6,207.8 827.3,206.0 C829.1,204.2 830.9,202.2 832.7,200.7 C834.4,199.1 835.8,197.8 838.0,196.7 C840.2,195.6 843.8,195.1 846.0,194.0 C848.2,192.9 850.9,192.0 851.3,190.0 C851.8,188.0 850.0,184.2 848.7,182.0 C847.3,179.8 844.7,176.4 843.3,176.7 C842.0,176.9 842.2,181.1 840.7,183.3 C839.1,185.6 836.7,188.2 834.0,190.0 C831.3,191.8 827.3,193.1 824.7,194.0 C822.0,194.9 819.6,196.2 818.0,195.3 C816.4,194.4 815.6,191.3 815.3,188.7 C815.1,186.0 815.3,182.4 816.7,179.3Z" fill="#1c1cf0" />
<path d="M790.0,95.7 C792.0,90.0 797.9,94.4 801.8,94.7 C805.8,95.1 811.3,95.2 813.6,97.7 C815.9,100.2 816.6,106.2 815.6,109.5 C814.6,112.8 809.4,114.1 807.7,117.4 C806.1,120.7 807.4,126.9 805.8,129.2 C804.1,131.5 800.5,131.2 797.9,131.2 C795.3,131.2 791.3,135.1 790.0,129.2 C788.7,123.3 788.0,101.5 790.0,95.7Z" fill="#1c1cf0" />
<path d="M907.3,164.7 C908.0,163.4 910.9,162.2 912.7,162.7 C914.4,163.1 917.6,165.9 918.0,167.3 C918.4,168.8 916.9,170.9 915.3,171.3 C913.8,171.8 910.0,171.1 908.7,170.0 C907.3,168.9 906.7,165.9 907.3,164.7Z" fill="#a4a4a4" />
<path d="M924.7,163.3 C925.3,162.1 928.4,160.4 930.0,160.7 C931.6,160.9 933.8,163.3 934.0,164.7 C934.2,166.0 932.7,168.1 931.3,168.7 C930.0,169.2 927.1,168.9 926.0,168.0 C924.9,167.1 924.0,164.6 924.7,163.3Z" fill="#a4a4a4" />
<path d="M1016.5,100.7 C1017.8,99.5 1023.6,98.4 1026.4,98.7 C1029.2,99.0 1033.3,101.3 1033.3,102.6 C1033.3,103.9 1028.8,106.1 1026.4,106.6 C1023.9,107.1 1020.1,106.6 1018.5,105.6 C1016.8,104.6 1015.2,101.8 1016.5,100.7Z" fill="#fff" />
<path d="M1089.4,102.6 C1090.7,101.5 1096.6,100.2 1099.2,100.7 C1101.9,101.1 1105.1,104.1 1105.1,105.6 C1105.1,107.1 1101.5,109.2 1099.2,109.5 C1096.9,109.8 1093.0,108.7 1091.4,107.5 C1089.7,106.4 1088.1,103.8 1089.4,102.6Z" fill="#fff" />
<path d="M1099.2,83.9 C1100.6,82.6 1110.7,82.4 1113.0,83.9 C1115.3,85.4 1114.3,91.5 1113.0,92.8 C1111.7,94.1 1107.4,93.3 1105.1,91.8 C1102.8,90.3 1097.9,85.2 1099.2,83.9Z" fill="#fff" />
<path d="M1033.3,213.9 C1033.7,213.1 1037.0,211.6 1038.2,211.9 C1039.3,212.3 1040.6,215.1 1040.1,215.9 C1039.7,216.7 1036.4,217.2 1035.2,216.9 C1034.1,216.5 1032.8,214.7 1033.3,213.9Z" fill="#fff" />
<path d="M848.0,331.0 C848.7,328.0 853.0,326.2 856.0,327.0 C859.0,327.8 863.7,333.0 866.0,336.0 C868.3,339.0 870.7,342.7 870.0,345.0 C869.3,347.3 865.0,350.0 862.0,350.0 C859.0,350.0 854.3,348.2 852.0,345.0 C849.7,341.8 847.3,334.0 848.0,331.0Z" fill="#1c1cf0" />
<path d="M854.0,312.0 C854.5,310.7 857.8,310.2 859.0,311.0 C860.2,311.8 861.5,315.7 861.0,317.0 C860.5,318.3 857.2,319.8 856.0,319.0 C854.8,318.2 853.5,313.3 854.0,312.0Z" fill="#1c1cf0" />
<path d="M876.0,292.0 C876.5,290.5 879.8,290.0 881.0,291.0 C882.2,292.0 883.5,296.5 883.0,298.0 C882.5,299.5 879.2,301.0 878.0,300.0 C876.8,299.0 875.5,293.5 876.0,292.0Z" fill="#1c1cf0" />
<path d="M912.7,215.3 C913.0,213.2 914.9,213.6 916.0,214.7 C917.1,215.8 919.0,219.7 919.3,222.0 C919.7,224.3 918.9,227.8 918.0,228.7 C917.1,229.6 914.9,229.6 914.0,227.3 C913.1,225.1 912.3,217.4 912.7,215.3Z" fill="#1c1cf0" />
<path d="M932.7,215.3 C933.1,214.8 935.3,215.3 936.0,216.0 C936.7,216.7 937.1,218.8 936.7,219.3 C936.2,219.9 934.0,220.0 933.3,219.3 C932.7,218.7 932.2,215.9 932.7,215.3Z" fill="#1c1cf0" />
<path d="M804.7,199.3 C805.3,198.3 808.9,199.1 810.0,200.0 C811.1,200.9 812.0,203.7 811.3,204.7 C810.7,205.7 807.1,206.9 806.0,206.0 C804.9,205.1 804.0,200.3 804.7,199.3Z" fill="#1c1cf0" />
<path d="M819.3,223.3 C820.0,222.2 824.4,222.4 826.0,223.3 C827.6,224.2 829.3,227.6 828.7,228.7 C828.0,229.8 823.6,230.9 822.0,230.0 C820.4,229.1 818.7,224.4 819.3,223.3Z" fill="#1c1cf0" />
<path d="M838.0,232.7 C838.7,231.7 841.8,232.3 842.7,233.3 C843.6,234.3 844.0,237.7 843.3,238.7 C842.7,239.7 839.6,240.3 838.7,239.3 C837.8,238.3 837.3,233.7 838.0,232.7Z" fill="#1c1cf0" />
<path d="M876.7,291.3 C877.7,289.9 882.2,289.9 883.3,291.3 C884.4,292.8 884.3,298.6 883.3,300.0 C882.3,301.4 878.4,301.4 877.3,300.0 C876.2,298.6 875.7,292.8 876.7,291.3Z" fill="#1c1cf0" />
<path d="M943.6,127.2 C946.3,119.5 950.2,102.0 957.4,96.7 C964.6,91.5 979.4,94.6 987.0,95.7 C994.5,96.9 999.8,100.7 1002.7,103.6 C1005.7,106.6 999.1,111.2 1004.7,113.5 C1010.3,115.8 1029.6,120.3 1036.2,117.4 C1042.8,114.4 1040.8,101.0 1044.1,95.7 C1047.4,90.5 1051.3,87.5 1055.9,85.9 C1060.5,84.2 1068.1,84.6 1071.7,85.9 C1075.3,87.2 1077.2,91.5 1077.6,93.8 C1077.9,96.1 1076.6,98.4 1073.6,99.7 C1070.7,101.0 1062.8,100.0 1059.8,101.6 C1056.9,103.3 1054.3,106.9 1055.9,109.5 C1057.5,112.1 1065.4,116.7 1069.7,117.4 C1074.0,118.0 1079.2,112.1 1081.5,113.5 C1083.8,114.8 1084.1,120.3 1083.5,125.3 C1082.8,130.2 1079.9,138.4 1077.6,143.0 C1075.3,147.6 1071.0,148.6 1069.7,152.8 C1068.4,157.1 1068.4,162.7 1069.7,168.6 C1071.0,174.5 1074.3,183.0 1077.6,188.3 C1080.9,193.6 1084.8,196.2 1089.4,200.1 C1094.0,204.1 1102.8,208.7 1105.1,211.9 C1107.4,215.2 1106.5,218.5 1103.2,219.8 C1099.9,221.1 1091.0,220.8 1085.5,219.8 C1079.9,218.8 1073.6,216.9 1069.7,213.9 C1065.8,211.0 1065.8,205.0 1061.8,202.1 C1057.9,199.1 1053.3,197.2 1046.1,196.2 C1038.8,195.2 1026.7,197.5 1018.5,196.2 C1010.3,194.9 1003.4,190.3 996.8,188.3 C990.2,186.3 984.0,184.4 979.1,184.4 C974.2,184.4 969.9,186.0 967.3,188.3 C964.6,190.6 965.6,196.5 963.3,198.1 C961.0,199.8 956.1,201.1 953.5,198.1 C950.9,195.2 948.9,187.3 947.6,180.4 C946.3,173.5 946.6,163.0 945.6,156.8 C944.6,150.5 942.0,147.9 941.7,143.0 C941.3,138.1 941.0,135.0 943.6,127.2Z" fill="#30e030" />
<path d="M858.0,160.7 C859.1,158.9 861.6,157.3 864.7,156.7 C867.8,156.0 873.1,155.8 876.7,156.7 C880.2,157.6 884.0,159.1 886.0,162.0 C888.0,164.9 886.9,170.9 888.7,174.0 C890.4,177.1 895.6,179.1 896.7,180.7 C897.8,182.2 897.6,183.1 895.3,183.3 C893.1,183.6 887.6,182.7 883.3,182.0 C879.1,181.3 873.6,180.7 870.0,179.3 C866.4,178.0 864.0,176.0 862.0,174.0 C860.0,172.0 858.7,169.6 858.0,167.3 C857.3,165.1 856.9,162.4 858.0,160.7Z" fill="#30e030" />
<path d="M916.1,150.9 C916.6,149.7 918.7,148.6 920.0,148.9 C921.3,149.2 923.6,151.5 923.9,152.8 C924.3,154.2 923.1,156.3 922.0,156.8 C920.8,157.3 918.0,156.8 917.0,155.8 C916.1,154.8 915.6,152.0 916.1,150.9Z" fill="#30e030" />
<path d="M968.3,107.5 C969.9,105.4 974.0,103.9 977.1,104.6 C980.2,105.2 984.3,108.7 987.0,111.5 C989.6,114.3 991.9,117.4 992.9,121.3 C993.9,125.3 994.2,131.5 992.9,135.1 C991.6,138.7 987.6,142.0 985.0,143.0 C982.4,144.0 979.1,143.0 977.1,141.0 C975.1,139.1 972.9,133.5 973.2,131.2 C973.5,128.9 978.8,129.2 979.1,127.2 C979.4,125.3 977.1,121.0 975.1,119.4 C973.2,117.7 968.4,119.4 967.3,117.4 C966.1,115.4 966.6,109.7 968.3,107.5Z" fill="#e8e030" />
<path d="M1000.8,131.2 C1001.4,128.2 1003.1,124.9 1006.7,125.3 C1010.3,125.6 1016.8,132.5 1022.4,133.2 C1028.0,133.8 1035.6,129.2 1040.1,129.2 C1044.7,129.2 1047.7,130.5 1050.0,133.2 C1052.3,135.8 1053.6,140.4 1053.9,145.0 C1054.3,149.6 1050.0,157.1 1052.0,160.7 C1053.9,164.3 1063.1,163.4 1065.8,166.6 C1068.4,169.9 1068.4,176.8 1067.7,180.4 C1067.1,184.0 1065.1,187.6 1061.8,188.3 C1058.5,189.0 1052.3,185.7 1048.0,184.4 C1043.8,183.0 1040.5,181.4 1036.2,180.4 C1031.9,179.4 1026.7,179.8 1022.4,178.5 C1018.2,177.1 1014.5,175.2 1010.6,172.5 C1006.7,169.9 1001.1,166.0 998.8,162.7 C996.5,159.4 996.2,156.1 996.8,152.8 C997.5,149.6 1002.1,146.6 1002.7,143.0 C1003.4,139.4 1000.1,134.1 1000.8,131.2Z" fill="#e8e030" />
<path d="M1065.8,200.1 C1066.7,198.1 1071.7,195.9 1075.6,196.2 C1079.5,196.5 1086.1,199.5 1089.4,202.1 C1092.7,204.7 1095.3,209.6 1095.3,211.9 C1095.3,214.2 1092.3,215.5 1089.4,215.9 C1086.4,216.2 1080.9,215.2 1077.6,213.9 C1074.3,212.6 1071.7,210.3 1069.7,208.0 C1067.7,205.7 1064.8,202.1 1065.8,200.1Z" fill="#e8e030" />
<ellipse cx="1030.3" cy="157.8" rx="4" ry="2.2" fill="#e06018"/>
<ellipse cx="1045.1" cy="174.5" rx="2.6" ry="3" fill="#e06018"/>
<g transform="matrix(1.046 0 0 1 541.9 0)">
<polygon points="86.5,392.0 85.0,382.0 90.0,365.0 86.5,353.0 83.0,331.0 75.0,305.0 70.0,290.0 66.0,280.0 67.0,270.0 69.6,257.0 73.0,233.0 81.5,228.0 95.0,219.0 108.6,214.0 127.0,207.5 141.0,204.0 148.0,198.0 154.0,185.0 156.0,172.5 163.6,161.5 171.5,153.6 176.0,144.0 181.0,136.0 192.0,130.0 200.0,128.4 207.8,136.3 211.0,150.5 217.0,142.6 225.0,141.0 226.7,130.0 231.4,119.0 233.0,100.0 240.8,97.0 253.5,93.8 258.0,95.3 259.8,101.6 270.8,104.8 278.7,106.4 288.0,101.6 296.0,93.8 297.6,109.5 292.9,120.5 296.0,131.6 288.0,134.7 283.4,142.6 292.9,152.0 305.5,163.0 319.6,169.4 329.0,178.8 337.0,175.7 341.7,164.7 343.3,125.3 346.4,93.8 349.6,82.7 354.3,90.6 359.0,109.5 363.8,130.0 370.0,134.7 379.5,144.0 384.0,166.0 390.0,190.0 400.0,202.0 412.0,210.0 420.0,222.0 430.0,236.0 434.0,250.0 446.0,266.0 456.0,270.0 458.0,290.0 460.0,299.0 460.0,324.0 456.0,346.8 449.0,366.0 438.7,380.0 433.4,397.7 426.4,420.6 423.0,434.7 410.6,438.0 396.5,447.0 389.5,454.0 382.5,447.0 372.0,440.0 361.4,449.6 345.6,445.0 333.0,438.0 325.8,430.0 326.3,421.7 324.1,413.4 318.6,407.3 309.8,410.6 310.9,407.9 313.1,399.6 309.2,390.8 307.6,390.8 305.9,400.7 304.3,402.9 303.2,396.9 304.3,388.6 307.0,380.9 307.6,374.8 305.9,367.6 303.2,378.7 299.3,384.2 295.4,388.6 291.0,395.8 289.4,405.1 285.5,396.9 282.2,393.0 280.0,385.3 270.0,369.6 254.5,363.0 241.0,356.0 220.6,358.0 195.0,365.0 178.0,371.6 170.0,385.0 153.0,388.6 132.0,388.6 119.0,397.0 102.0,402.0" fill="none" stroke="#111" stroke-width="2" stroke-linejoin="round" vector-effect="non-scaling-stroke"/>
<polygon points="375.4,470.7 379.0,473.3 393.0,478.6 403.6,475.0 405.3,462.8 408.8,462.8 410.6,473.3 408.8,485.6 408.8,499.0 379.0,499.8 373.7,478.6" fill="none" stroke="#111" stroke-width="2" stroke-linejoin="round" vector-effect="non-scaling-stroke"/>
<polygon points="294.3,409.0 304.3,408.4 304.3,414.5 296.0,415.6 294.3,413.0" fill="none" stroke="#111" stroke-width="2" stroke-linejoin="round" vector-effect="non-scaling-stroke"/>
<polygon points="297.6,401.0 302.0,399.6 303.2,404.0 299.0,405.1" fill="none" stroke="#111" stroke-width="2" stroke-linejoin="round" vector-effect="non-scaling-stroke"/>
</g>
<circle cx="862.6" cy="336" r="4.8" fill="#ffee00"/><circle cx="877.5" cy="385" r="4.8" fill="#ffee00"/>
<text x="839.2" y="281" font-size="11.5" fill="#fff" text-anchor="start" textLength="25.6" lengthAdjust="spacingAndGlyphs" >YASI</text>
<circle cx="831.4" cy="277" r="2.5" fill="none" stroke="#fff" stroke-width="1.5"/>
</g>
<text x="562.4" y="112.5" font-size="34" fill="#000" text-anchor="start" textLength="132" lengthAdjust="spacingAndGlyphs" >05/02/2011</text>
<rect x="636.4" y="451" width="40.60000000000002" height="15.5" fill="#0a0af5"/>
<rect x="677" y="451" width="39.5" height="15.5" fill="#10ee10"/>
<rect x="716.5" y="451" width="39.0" height="15.5" fill="#ffff00"/>
<rect x="755.5" y="451" width="38.700000000000045" height="15.5" fill="#ff5a08"/>
<rect x="794.2" y="451" width="39.0" height="15.5" fill="#ff0a0a"/>
<rect x="636.4" y="451" width="196.80000000000007" height="15.5" fill="none" stroke="#555" stroke-width="0.6"/>
<text x="633" y="481" font-size="15" fill="#000" text-anchor="start" textLength="14" lengthAdjust="spacingAndGlyphs" >50</text>
<text x="675" y="481" font-size="15" fill="#000" text-anchor="start" textLength="21" lengthAdjust="spacingAndGlyphs" >150</text>
<text x="716.8" y="481" font-size="15" fill="#000" text-anchor="start" textLength="21" lengthAdjust="spacingAndGlyphs" >300</text>
<text x="755.5" y="481" font-size="15" fill="#000" text-anchor="start" textLength="21" lengthAdjust="spacingAndGlyphs" >450</text>
<text x="793.9" y="481" font-size="15" fill="#000" text-anchor="start" textLength="21" lengthAdjust="spacingAndGlyphs" >600</text>
<text x="679.5" y="439" font-size="19.5" fill="#000" text-anchor="start" textLength="108.8" lengthAdjust="spacingAndGlyphs" >rainfall (mm)</text>
<g clip-path="url(#cC)">
<g transform="matrix(1.0158 0 0 1 1104.1 0)">
<path d="M15.0,276.0 C14.2,271.8 13.8,259.0 15.0,253.0 C16.2,247.0 19.4,245.0 22.0,240.0 C24.6,235.0 28.5,227.3 30.5,223.0 C32.5,218.7 30.6,218.0 34.0,214.0 C37.4,210.0 46.2,202.7 51.0,199.0 C55.8,195.3 59.3,194.3 63.0,192.0 C66.7,189.7 69.7,188.3 73.0,185.0 C76.3,181.7 81.0,177.0 83.0,172.0 C85.0,167.0 83.0,158.4 85.0,155.0 C87.0,151.6 91.0,152.1 95.0,151.5 C99.0,150.9 105.0,150.4 109.0,151.5 C113.0,152.6 116.8,155.8 119.0,158.0 C121.2,160.2 119.2,163.5 122.0,165.0 C124.8,166.5 132.3,168.7 136.0,167.0 C139.7,165.3 142.3,159.8 144.0,155.0 C145.7,150.2 146.2,141.2 146.0,138.0 C145.8,134.8 142.8,138.8 142.5,136.0 C142.2,133.2 142.9,126.0 144.0,121.0 C145.1,116.0 146.2,108.7 149.0,106.0 C151.8,103.3 157.5,103.7 161.0,105.0 C164.5,106.3 165.7,113.0 170.0,114.0 C174.3,115.0 181.3,111.5 187.0,111.0 C192.7,110.5 198.3,110.2 204.0,111.0 C209.7,111.8 217.2,115.8 221.0,116.0 C224.8,116.2 225.7,114.7 227.0,112.0 C228.3,109.3 227.2,103.0 229.0,100.0 C230.8,97.0 235.2,94.8 238.0,94.0 C240.8,93.2 244.2,91.7 246.0,95.5 C247.8,99.3 249.3,111.6 249.0,117.0 C248.7,122.4 247.2,122.5 244.0,128.0 C240.8,133.5 237.3,143.0 230.0,150.0 C222.7,157.0 213.3,159.2 200.0,170.0 C186.7,180.8 168.3,204.2 150.0,215.0 C131.7,225.8 103.3,230.8 90.0,235.0 C76.7,239.2 75.7,239.2 70.0,240.0 C64.3,240.8 60.0,238.9 56.0,240.0 C52.0,241.1 48.5,243.7 46.0,246.5 C43.5,249.3 42.7,252.2 40.7,256.7 C38.7,261.2 35.7,270.2 34.0,273.6 C32.3,277.0 32.8,276.3 30.5,277.0 C28.2,277.7 22.6,278.2 20.0,278.0 C17.4,277.8 15.8,280.2 15.0,276.0Z" fill="#1c1cf0" />
<path d="M99.0,170.0 C99.3,167.2 99.8,165.2 101.0,164.0 C102.2,162.8 104.3,162.7 106.0,163.0 C107.7,163.3 109.8,164.3 111.0,166.0 C112.2,167.7 112.8,170.3 113.0,173.0 C113.2,175.7 112.8,179.7 112.0,182.0 C111.2,184.3 109.7,186.2 108.0,187.0 C106.3,187.8 103.5,188.0 102.0,187.0 C100.5,186.0 99.5,183.8 99.0,181.0 C98.5,178.2 98.7,172.8 99.0,170.0Z" fill="#30e030" />
<path d="M59.4,205.8 C60.4,204.1 62.5,202.7 64.5,202.4 C66.5,202.1 69.3,204.3 71.3,204.0 C73.3,203.7 74.4,201.8 76.4,200.7 C78.4,199.6 80.8,197.7 83.1,197.3 C85.3,196.9 88.3,197.0 89.9,198.1 C91.5,199.2 92.8,202.2 92.5,204.0 C92.2,205.8 90.3,208.0 88.2,209.1 C86.1,210.2 82.3,210.0 79.8,210.8 C77.3,211.7 74.7,212.8 73.0,214.2 C71.3,215.6 71.3,218.7 69.6,219.3 C67.9,219.9 64.6,218.7 62.8,217.6 C60.9,216.5 59.1,214.5 58.5,212.5 C57.9,210.5 58.4,207.5 59.4,205.8Z" fill="#30e030" />
<path d="M95.0,192.0 C95.0,190.7 97.0,189.0 98.0,189.0 C99.0,189.0 100.3,190.7 101.0,192.0 C101.7,193.3 102.5,196.2 102.0,197.0 C101.5,197.8 99.2,197.8 98.0,197.0 C96.8,196.2 95.0,193.3 95.0,192.0Z" fill="#30e030" />
<path d="M176.0,140.0 C176.7,137.3 179.3,134.0 182.0,132.0 C184.7,130.0 189.0,128.8 192.0,128.0 C195.0,127.2 198.2,126.5 200.0,127.0 C201.8,127.5 202.7,129.2 203.0,131.0 C203.3,132.8 203.2,136.2 202.0,138.0 C200.8,139.8 198.7,140.7 196.0,142.0 C193.3,143.3 189.0,145.0 186.0,146.0 C183.0,147.0 179.7,149.0 178.0,148.0 C176.3,147.0 175.3,142.7 176.0,140.0Z" fill="#30e030" />
<path d="M162.0,160.0 C162.7,158.5 165.7,157.0 167.0,157.0 C168.3,157.0 169.8,158.5 170.0,160.0 C170.2,161.5 169.2,165.0 168.0,166.0 C166.8,167.0 164.0,167.0 163.0,166.0 C162.0,165.0 161.3,161.5 162.0,160.0Z" fill="#30e030" />
<path d="M15.0,329.0 C16.8,322.3 22.7,326.8 25.5,328.0 C28.3,329.2 30.6,333.2 32.0,336.0 C33.4,338.8 34.1,341.4 34.0,344.5 C33.9,347.6 30.6,351.9 31.4,354.7 C32.2,357.5 37.5,359.8 39.0,361.5 C40.5,363.2 38.7,363.9 40.7,365.0 C42.7,366.1 48.5,365.8 51.0,368.0 C53.5,370.2 54.0,375.0 56.0,378.4 C58.0,381.8 60.5,385.5 62.8,388.6 C65.1,391.7 68.2,394.2 69.6,397.0 C71.0,399.8 71.9,403.1 71.3,405.6 C70.7,408.1 66.9,409.4 66.0,412.0 C65.1,414.6 67.1,418.7 66.0,421.0 C64.9,423.3 61.4,426.3 59.4,426.0 C57.4,425.7 56.9,421.8 54.3,419.0 C51.7,416.2 47.4,411.8 44.0,409.0 C40.6,406.2 37.1,405.4 34.0,402.0 C30.9,398.6 27.5,392.5 25.5,388.6 C23.5,384.7 23.8,381.8 22.0,378.4 C20.2,375.0 16.2,376.2 15.0,368.0 C13.8,359.8 13.2,335.7 15.0,329.0Z" fill="#1c1cf0" />
</g>
<g transform="matrix(1.0158 0 0 1 1104.1 0)">
<polygon points="86.5,392.0 85.0,382.0 90.0,365.0 86.5,353.0 83.0,331.0 75.0,305.0 70.0,290.0 66.0,280.0 67.0,270.0 69.6,257.0 73.0,233.0 81.5,228.0 95.0,219.0 108.6,214.0 127.0,207.5 141.0,204.0 148.0,198.0 154.0,185.0 156.0,172.5 163.6,161.5 171.5,153.6 176.0,144.0 181.0,136.0 192.0,130.0 200.0,128.4 207.8,136.3 211.0,150.5 217.0,142.6 225.0,141.0 226.7,130.0 231.4,119.0 233.0,100.0 240.8,97.0 253.5,93.8 258.0,95.3 259.8,101.6 270.8,104.8 278.7,106.4 288.0,101.6 296.0,93.8 297.6,109.5 292.9,120.5 296.0,131.6 288.0,134.7 283.4,142.6 292.9,152.0 305.5,163.0 319.6,169.4 329.0,178.8 337.0,175.7 341.7,164.7 343.3,125.3 346.4,93.8 349.6,82.7 354.3,90.6 359.0,109.5 363.8,130.0 370.0,134.7 379.5,144.0 384.0,166.0 390.0,190.0 400.0,202.0 412.0,210.0 420.0,222.0 430.0,236.0 434.0,250.0 446.0,266.0 456.0,270.0 458.0,290.0 460.0,299.0 460.0,324.0 456.0,346.8 449.0,366.0 438.7,380.0 433.4,397.7 426.4,420.6 423.0,434.7 410.6,438.0 396.5,447.0 389.5,454.0 382.5,447.0 372.0,440.0 361.4,449.6 345.6,445.0 333.0,438.0 325.8,430.0 326.3,421.7 324.1,413.4 318.6,407.3 309.8,410.6 310.9,407.9 313.1,399.6 309.2,390.8 307.6,390.8 305.9,400.7 304.3,402.9 303.2,396.9 304.3,388.6 307.0,380.9 307.6,374.8 305.9,367.6 303.2,378.7 299.3,384.2 295.4,388.6 291.0,395.8 289.4,405.1 285.5,396.9 282.2,393.0 280.0,385.3 270.0,369.6 254.5,363.0 241.0,356.0 220.6,358.0 195.0,365.0 178.0,371.6 170.0,385.0 153.0,388.6 132.0,388.6 119.0,397.0 102.0,402.0" fill="#6a6a6a" />
<polygon points="375.4,470.7 379.0,473.3 393.0,478.6 403.6,475.0 405.3,462.8 408.8,462.8 410.6,473.3 408.8,485.6 408.8,499.0 379.0,499.8 373.7,478.6" fill="#6a6a6a" />
<polygon points="294.3,409.0 304.3,408.4 304.3,414.5 296.0,415.6 294.3,413.0" fill="#6a6a6a" />
<polygon points="297.6,401.0 302.0,399.6 303.2,404.0 299.0,405.1" fill="#6a6a6a" />
<g clip-path="url(#landclip)">
<rect x="0" y="60" width="520" height="280" fill="url(#medg)"/>
<path d="M60.0,235.0 C63.3,228.3 78.3,220.8 90.0,215.0 C101.7,209.2 120.0,205.0 130.0,200.0 C140.0,195.0 145.0,191.7 150.0,185.0 C155.0,178.3 155.8,167.5 160.0,160.0 C164.2,152.5 168.3,146.7 175.0,140.0 C181.7,133.3 193.3,120.0 200.0,120.0 C206.7,120.0 214.2,133.3 215.0,140.0 C215.8,146.7 210.0,154.2 205.0,160.0 C200.0,165.8 190.8,169.2 185.0,175.0 C179.2,180.8 175.8,188.3 170.0,195.0 C164.2,201.7 158.3,209.5 150.0,215.0 C141.7,220.5 129.2,223.8 120.0,228.0 C110.8,232.2 103.3,235.5 95.0,240.0 C86.7,244.5 75.8,255.8 70.0,255.0 C64.2,254.2 56.7,241.7 60.0,235.0Z" fill="#939393" />
<path d="M165.0,170.0 C165.8,163.3 178.3,156.7 185.0,155.0 C191.7,153.3 200.0,156.7 205.0,160.0 C210.0,163.3 215.8,170.0 215.0,175.0 C214.2,180.0 205.8,186.7 200.0,190.0 C194.2,193.3 185.8,198.3 180.0,195.0 C174.2,191.7 164.2,176.7 165.0,170.0Z" fill="#939393" />
<path d="M215.0,150.0 C215.8,144.7 232.2,140.0 240.0,140.0 C247.8,140.0 259.0,145.0 262.0,150.0 C265.0,155.0 262.5,166.3 258.0,170.0 C253.5,173.7 242.2,175.3 235.0,172.0 C227.8,168.7 214.2,155.3 215.0,150.0Z" fill="#939393" />
<path d="M235.0,100.0 C240.0,95.0 252.5,95.0 262.0,95.0 C271.5,95.0 286.7,94.5 292.0,100.0 C297.3,105.5 296.0,121.3 294.0,128.0 C292.0,134.7 286.0,137.0 280.0,140.0 C274.0,143.0 264.3,146.0 258.0,146.0 C251.7,146.0 246.3,143.5 242.0,140.0 C237.7,136.5 233.2,131.7 232.0,125.0 C230.8,118.3 230.0,105.0 235.0,100.0Z" fill="#939393" />
<path d="M340.0,85.0 C343.3,79.2 354.7,76.7 360.0,85.0 C365.3,93.3 367.8,124.2 372.0,135.0 C376.2,145.8 383.7,142.5 385.0,150.0 C386.3,157.5 383.3,175.8 380.0,180.0 C376.7,184.2 370.0,180.0 365.0,175.0 C360.0,170.0 354.2,159.2 350.0,150.0 C345.8,140.8 341.7,130.8 340.0,120.0 C338.3,109.2 336.7,90.8 340.0,85.0Z" fill="#939393" />
<path d="M375.0,140.0 C380.0,140.0 390.8,151.7 395.0,160.0 C399.2,168.3 395.8,181.7 400.0,190.0 C404.2,198.3 413.3,201.7 420.0,210.0 C426.7,218.3 434.2,230.8 440.0,240.0 C445.8,249.2 450.8,256.7 455.0,265.0 C459.2,273.3 465.8,285.0 465.0,290.0 C464.2,295.0 455.8,298.3 450.0,295.0 C444.2,291.7 436.7,278.3 430.0,270.0 C423.3,261.7 416.7,253.3 410.0,245.0 C403.3,236.7 395.8,229.2 390.0,220.0 C384.2,210.8 379.2,200.0 375.0,190.0 C370.8,180.0 365.0,168.3 365.0,160.0 C365.0,151.7 370.0,140.0 375.0,140.0Z" fill="#939393" />
<path d="M182.0,209.0 C184.7,206.3 194.3,205.5 200.0,206.0 C205.7,206.5 213.7,209.0 216.0,212.0 C218.3,215.0 217.0,221.3 214.0,224.0 C211.0,226.7 203.0,228.3 198.0,228.0 C193.0,227.7 186.7,225.2 184.0,222.0 C181.3,218.8 179.3,211.7 182.0,209.0Z" fill="#939393" />
<path d="M93.0,338.0 C94.3,333.7 97.5,333.7 100.0,334.0 C102.5,334.3 106.5,335.7 108.0,340.0 C109.5,344.3 109.7,353.3 109.0,360.0 C108.3,366.7 106.2,377.0 104.0,380.0 C101.8,383.0 98.0,381.3 96.0,378.0 C94.0,374.7 92.5,366.7 92.0,360.0 C91.5,353.3 91.7,342.3 93.0,338.0Z" fill="#939393" />
<path d="M90.0,245.0 C93.3,241.7 105.0,238.3 110.0,240.0 C115.0,241.7 120.8,250.8 120.0,255.0 C119.2,259.2 110.0,264.2 105.0,265.0 C100.0,265.8 92.5,263.3 90.0,260.0 C87.5,256.7 86.7,248.3 90.0,245.0Z" fill="#939393" />
<path d="M130.0,225.0 C133.7,222.3 145.8,218.8 150.0,220.0 C154.2,221.2 156.7,228.7 155.0,232.0 C153.3,235.3 144.5,239.3 140.0,240.0 C135.5,240.7 129.7,238.5 128.0,236.0 C126.3,233.5 126.3,227.7 130.0,225.0Z" fill="#939393" />
</g>
</g>
<path d="M1316.2,236.9 C1314.5,232.8 1318.9,223.8 1322.7,217.3 C1326.5,210.7 1331.5,202.0 1339.1,197.6 C1346.7,193.3 1361.5,195.5 1368.5,191.1 C1375.6,186.7 1372.9,173.6 1381.6,171.5 C1390.4,169.3 1409.5,176.9 1420.9,178.0 C1432.4,179.1 1442.2,173.1 1450.4,178.0 C1458.5,182.9 1461.3,199.8 1470.0,207.5 C1478.7,215.1 1492.4,217.8 1502.7,223.8 C1513.1,229.8 1532.2,238.0 1532.2,243.5 C1532.2,248.9 1513.1,252.2 1502.7,256.5 C1492.4,260.9 1477.6,264.7 1470.0,269.6 C1462.4,274.5 1459.6,278.9 1456.9,286.0 C1454.2,293.1 1452.5,304.5 1453.6,312.2 C1454.7,319.8 1460.2,324.2 1463.4,331.8 C1466.7,339.5 1472.7,351.2 1473.3,358.0 C1473.8,364.8 1472.7,369.7 1466.7,372.7 C1460.7,375.7 1444.9,375.5 1437.3,376.0 C1429.6,376.5 1426.4,377.1 1420.9,376.0 C1415.5,374.9 1410.0,372.2 1404.5,369.5 C1399.1,366.7 1393.6,364.5 1388.2,359.6 C1382.7,354.7 1376.2,349.0 1371.8,340.0 C1367.5,331.0 1363.6,315.7 1362.0,305.6 C1360.4,295.5 1360.9,287.1 1362.0,279.5 C1363.1,271.8 1369.1,265.0 1368.5,259.8 C1368.0,254.6 1364.7,251.4 1358.7,248.4 C1352.7,245.4 1339.6,243.7 1332.5,241.8 C1325.5,239.9 1317.8,241.0 1316.2,236.9Z" fill="#a4a4a4" />
<path d="M1327.3,227.3 C1327.3,223.8 1329.1,218.0 1331.3,214.0 C1333.6,210.0 1338.2,206.7 1340.7,203.3 C1343.1,200.0 1343.8,195.3 1346.0,194.0 C1348.2,192.7 1350.7,194.9 1354.0,195.3 C1357.3,195.8 1362.9,197.8 1366.0,196.7 C1369.1,195.6 1371.3,192.0 1372.7,188.7 C1374.0,185.3 1372.7,180.0 1374.0,176.7 C1375.3,173.3 1377.6,170.4 1380.7,168.7 C1383.8,166.9 1389.1,166.0 1392.7,166.0 C1396.2,166.0 1399.3,166.9 1402.0,168.7 C1404.7,170.4 1406.4,174.2 1408.7,176.7 C1410.9,179.1 1413.1,182.2 1415.3,183.3 C1417.6,184.4 1421.8,185.6 1422.0,183.3 C1422.2,181.1 1418.4,173.3 1416.7,170.0 C1414.9,166.7 1412.2,165.6 1411.3,163.3 C1410.4,161.1 1410.4,158.4 1411.3,156.7 C1412.2,154.9 1413.6,153.4 1416.7,152.7 C1419.8,151.9 1426.4,151.8 1430.0,152.0 C1433.6,152.2 1435.8,152.6 1438.0,154.0 C1440.2,155.4 1441.6,159.1 1443.3,160.7 C1445.1,162.2 1447.6,165.1 1448.7,163.3 C1449.8,161.6 1449.4,151.9 1450.0,150.0 C1450.6,148.1 1451.4,154.8 1452.0,151.8 C1452.6,148.8 1450.6,136.5 1453.6,132.2 C1456.6,127.8 1466.7,127.8 1470.0,125.6 C1473.3,123.5 1472.2,122.9 1473.3,119.1 C1474.4,115.3 1475.4,107.6 1476.5,102.7 C1477.6,97.8 1475.4,92.9 1479.8,89.6 C1484.2,86.4 1474.4,84.2 1502.7,83.1 C1531.1,82.0 1625.4,56.9 1650.0,83.1 C1674.5,109.3 1654.9,216.7 1650.0,240.2 C1645.1,263.6 1631.4,228.2 1620.5,223.8 C1609.6,219.5 1591.1,217.3 1584.5,214.0 C1578.0,210.7 1584.0,206.4 1581.3,204.2 C1578.5,202.0 1574.2,197.6 1568.2,200.9 C1562.2,204.2 1550.7,217.3 1545.3,223.8 C1539.8,230.4 1540.0,236.9 1535.4,240.2 C1530.9,243.4 1523.4,243.9 1518.0,243.3 C1512.6,242.7 1507.3,238.9 1503.3,236.7 C1499.3,234.4 1496.2,232.4 1494.0,230.0 C1491.8,227.6 1491.8,224.9 1490.0,222.0 C1488.2,219.1 1486.2,215.1 1483.3,212.7 C1480.4,210.2 1475.3,207.3 1472.7,207.3 C1470.0,207.3 1468.2,208.9 1467.3,212.7 C1466.4,216.4 1468.0,226.2 1467.3,230.0 C1466.7,233.8 1464.2,236.2 1463.3,235.3 C1462.4,234.4 1463.1,228.2 1462.0,224.7 C1460.9,221.1 1458.4,215.6 1456.7,214.0 C1454.9,212.4 1453.3,216.2 1451.3,215.3 C1449.3,214.4 1446.9,210.7 1444.7,208.7 C1442.4,206.7 1440.0,205.8 1438.0,203.3 C1436.0,200.9 1434.4,196.2 1432.7,194.0 C1430.9,191.8 1427.8,188.9 1427.3,190.0 C1426.9,191.1 1428.9,197.1 1430.0,200.7 C1431.1,204.2 1433.1,207.3 1434.0,211.3 C1434.9,215.3 1436.0,221.1 1435.3,224.7 C1434.7,228.2 1431.6,229.6 1430.0,232.7 C1428.4,235.8 1426.9,239.3 1426.0,243.3 C1425.1,247.3 1424.0,253.3 1424.7,256.7 C1425.3,260.0 1427.8,261.6 1430.0,263.3 C1432.2,265.1 1435.6,265.8 1438.0,267.3 C1440.4,268.9 1442.9,270.9 1444.7,272.7 C1446.4,274.4 1448.2,275.8 1448.7,278.0 C1449.1,280.2 1448.7,283.8 1447.3,286.0 C1446.0,288.2 1442.2,289.0 1440.7,291.3 C1439.1,293.7 1438.0,305.3 1438.0,300.0 C1438.0,294.7 1438.5,263.2 1440.5,259.8 C1442.6,256.4 1449.8,272.9 1450.4,279.5 C1450.9,286.0 1446.5,293.6 1443.8,299.1 C1441.1,304.5 1435.1,307.3 1434.0,312.2 C1432.9,317.1 1434.5,323.6 1437.3,328.5 C1440.0,333.5 1446.5,336.7 1450.4,341.6 C1454.2,346.5 1460.2,354.2 1460.2,358.0 C1460.2,361.8 1454.7,362.9 1450.4,364.5 C1446.0,366.2 1438.4,366.7 1434.0,367.8 C1429.6,368.9 1427.4,371.6 1424.2,371.1 C1420.9,370.5 1418.7,367.3 1414.4,364.5 C1410.0,361.8 1402.4,359.1 1398.0,354.7 C1393.6,350.4 1390.9,344.4 1388.2,338.4 C1385.5,332.4 1383.3,324.2 1381.6,318.7 C1380.0,313.3 1376.7,310.0 1378.4,305.6 C1380.0,301.3 1390.4,296.9 1391.5,292.5 C1392.5,288.2 1386.0,286.0 1384.9,279.5 C1383.8,272.9 1384.1,251.5 1384.9,253.3 C1385.8,255.0 1390.5,285.0 1390.0,290.0 C1389.5,295.0 1383.8,285.8 1382.0,283.3 C1380.2,280.9 1378.9,278.4 1379.3,275.3 C1379.8,272.2 1383.1,268.7 1384.7,264.7 C1386.2,260.7 1388.0,255.3 1388.7,251.3 C1389.3,247.3 1389.3,243.3 1388.7,240.7 C1388.0,238.0 1387.1,236.7 1384.7,235.3 C1382.2,234.0 1377.6,233.6 1374.0,232.7 C1370.4,231.8 1366.2,229.6 1363.3,230.0 C1360.4,230.4 1360.0,234.4 1356.7,235.3 C1353.3,236.2 1347.6,235.3 1343.3,235.3 C1339.1,235.3 1334.0,236.7 1331.3,235.3 C1328.7,234.0 1327.3,230.9 1327.3,227.3Z" fill="#1c1cf0" />
<path d="M1339.1,96.2 C1342.4,91.8 1353.3,92.9 1358.7,92.9 C1364.2,92.9 1370.2,92.4 1371.8,96.2 C1373.5,100.0 1370.7,110.4 1368.5,115.8 C1366.4,121.3 1362.5,126.2 1358.7,128.9 C1354.9,131.6 1348.9,133.8 1345.6,132.2 C1342.4,130.5 1340.2,125.1 1339.1,119.1 C1338.0,113.1 1335.8,100.5 1339.1,96.2Z" fill="#1c1cf0" />
<path d="M1391.3,219.3 C1392.0,216.7 1395.8,216.2 1398.0,216.7 C1400.2,217.1 1403.3,218.9 1404.7,222.0 C1406.0,225.1 1406.7,232.7 1406.0,235.3 C1405.3,238.0 1402.7,238.4 1400.7,238.0 C1398.7,237.6 1395.6,235.8 1394.0,232.7 C1392.4,229.6 1390.7,222.0 1391.3,219.3Z" fill="#a4a4a4" />
<path d="M1382.0,190.0 C1382.9,187.6 1387.3,184.0 1390.0,182.0 C1392.7,180.0 1395.8,176.7 1398.0,178.0 C1400.2,179.3 1402.7,186.9 1403.3,190.0 C1404.0,193.1 1405.1,195.6 1402.0,196.7 C1398.9,197.8 1388.0,197.8 1384.7,196.7 C1381.3,195.6 1381.1,192.4 1382.0,190.0Z" fill="#a4a4a4" />
<path d="M1564.9,96.2 C1566.0,94.0 1577.4,91.8 1581.3,92.9 C1585.1,94.0 1588.9,100.5 1587.8,102.7 C1586.7,104.9 1578.5,107.1 1574.7,106.0 C1570.9,104.9 1563.8,98.4 1564.9,96.2Z" fill="#fff" />
<path d="M1633.6,99.5 C1635.8,97.5 1647.3,94.5 1650.0,96.2 C1652.7,97.8 1652.2,107.4 1650.0,109.3 C1647.8,111.2 1639.6,109.3 1636.9,107.6 C1634.2,106.0 1631.4,101.4 1633.6,99.5Z" fill="#fff" />
<path d="M1581.3,210.7 C1582.6,209.4 1589.2,208.3 1591.1,209.1 C1593.0,209.9 1594.1,214.3 1592.7,215.6 C1591.4,217.0 1584.8,218.1 1582.9,217.3 C1581.0,216.5 1579.9,212.1 1581.3,210.7Z" fill="#fff" />
<path d="M1494.5,125.6 C1496.2,115.8 1499.2,101.6 1506.0,96.2 C1512.8,90.7 1527.8,92.4 1535.4,92.9 C1543.1,93.5 1543.6,100.0 1551.8,99.5 C1560.0,98.9 1576.4,92.4 1584.5,89.6 C1592.7,86.9 1595.4,83.1 1600.9,83.1 C1606.4,83.1 1614.0,85.3 1617.3,89.6 C1620.5,94.0 1624.4,104.9 1620.5,109.3 C1616.7,113.6 1599.3,112.5 1594.4,115.8 C1589.4,119.1 1586.7,125.6 1591.1,128.9 C1595.4,132.2 1614.5,131.1 1620.5,135.5 C1626.5,139.8 1627.1,148.0 1627.1,155.1 C1627.1,162.2 1620.5,171.5 1620.5,178.0 C1620.5,184.5 1623.8,189.5 1627.1,194.4 C1630.4,199.3 1638.0,203.6 1640.2,207.5 C1642.4,211.3 1643.4,215.6 1640.2,217.3 C1636.9,218.9 1627.1,218.9 1620.5,217.3 C1614.0,215.6 1607.4,210.2 1600.9,207.5 C1594.4,204.7 1587.8,203.1 1581.3,200.9 C1574.7,198.7 1567.1,196.5 1561.6,194.4 C1556.2,192.2 1553.4,187.8 1548.5,187.8 C1543.6,187.8 1536.5,192.2 1532.2,194.4 C1527.8,196.5 1525.1,200.9 1522.4,200.9 C1519.6,200.9 1518.0,198.7 1515.8,194.4 C1513.6,190.0 1512.5,181.3 1509.3,174.7 C1506.0,168.2 1498.6,163.3 1496.2,155.1 C1493.7,146.9 1492.9,135.5 1494.5,125.6Z" fill="#30e030" />
<path d="M1411.3,160.7 C1412.0,158.7 1413.6,158.2 1416.7,158.0 C1419.8,157.8 1426.0,157.8 1430.0,159.3 C1434.0,160.9 1438.4,164.4 1440.7,167.3 C1442.9,170.2 1443.8,174.2 1443.3,176.7 C1442.9,179.1 1440.7,181.1 1438.0,182.0 C1435.3,182.9 1430.9,182.9 1427.3,182.0 C1423.8,181.1 1419.1,178.7 1416.7,176.7 C1414.2,174.7 1413.6,172.7 1412.7,170.0 C1411.8,167.3 1410.7,162.7 1411.3,160.7Z" fill="#30e030" />
<path d="M1414.0,247.3 C1414.4,246.1 1417.1,245.7 1418.0,246.7 C1418.9,247.7 1419.8,252.1 1419.3,253.3 C1418.9,254.6 1416.2,255.0 1415.3,254.0 C1414.4,253.0 1413.6,248.6 1414.0,247.3Z" fill="#30e030" />
<path d="M1386.0,276.7 C1386.4,275.3 1390.9,274.4 1392.7,275.3 C1394.4,276.2 1397.1,280.7 1396.7,282.0 C1396.2,283.3 1391.8,284.2 1390.0,283.3 C1388.2,282.4 1385.6,278.0 1386.0,276.7Z" fill="#30e030" />
<path d="M1204.9,168.2 C1206.0,164.9 1212.0,163.8 1214.7,164.9 C1217.5,166.0 1220.7,171.5 1221.3,174.7 C1221.8,178.0 1220.2,182.9 1218.0,184.5 C1215.8,186.2 1210.4,187.3 1208.2,184.5 C1206.0,181.8 1203.8,171.5 1204.9,168.2Z" fill="#30e030" />
<path d="M1168.9,204.2 C1171.1,201.5 1183.6,198.2 1188.5,197.6 C1193.5,197.1 1197.3,198.7 1198.4,200.9 C1199.5,203.1 1198.9,208.5 1195.1,210.7 C1191.3,212.9 1179.8,215.1 1175.5,214.0 C1171.1,212.9 1166.7,206.9 1168.9,204.2Z" fill="#30e030" />
<path d="M1515.8,109.3 C1518.5,106.5 1528.4,104.4 1532.2,106.0 C1536.0,107.6 1538.2,114.2 1538.7,119.1 C1539.3,124.0 1537.1,131.1 1535.4,135.5 C1533.8,139.8 1531.6,144.2 1528.9,145.3 C1526.2,146.4 1520.2,144.7 1519.1,142.0 C1518.0,139.3 1522.9,132.2 1522.4,128.9 C1521.8,125.6 1516.9,125.6 1515.8,122.4 C1514.7,119.1 1513.1,112.0 1515.8,109.3Z" fill="#e8e030" />
<path d="M1548.5,128.9 C1552.4,125.1 1562.7,127.8 1568.2,128.9 C1573.6,130.0 1577.4,134.9 1581.3,135.5 C1585.1,136.0 1588.4,130.5 1591.1,132.2 C1593.8,133.8 1597.1,139.3 1597.6,145.3 C1598.2,151.3 1592.7,162.7 1594.4,168.2 C1596.0,173.6 1604.2,173.6 1607.4,178.0 C1610.7,182.4 1609.6,190.5 1614.0,194.4 C1618.4,198.2 1629.8,197.6 1633.6,200.9 C1637.4,204.2 1639.1,211.8 1636.9,214.0 C1634.7,216.2 1626.5,216.2 1620.5,214.0 C1614.5,211.8 1606.9,205.3 1600.9,200.9 C1594.9,196.5 1590.0,192.2 1584.5,187.8 C1579.1,183.5 1573.6,178.0 1568.2,174.7 C1562.7,171.5 1555.6,172.0 1551.8,168.2 C1548.0,164.4 1545.8,158.4 1545.3,151.8 C1544.7,145.3 1544.7,132.7 1548.5,128.9Z" fill="#e8e030" />
<ellipse cx="1578.0" cy="156.7" rx="4" ry="2" fill="#e06018"/>
<ellipse cx="1591.1" cy="174.1" rx="2.5" ry="3" fill="#e06018"/>
<g transform="matrix(1.0158 0 0 1 1104.1 0)">
<polygon points="86.5,392.0 85.0,382.0 90.0,365.0 86.5,353.0 83.0,331.0 75.0,305.0 70.0,290.0 66.0,280.0 67.0,270.0 69.6,257.0 73.0,233.0 81.5,228.0 95.0,219.0 108.6,214.0 127.0,207.5 141.0,204.0 148.0,198.0 154.0,185.0 156.0,172.5 163.6,161.5 171.5,153.6 176.0,144.0 181.0,136.0 192.0,130.0 200.0,128.4 207.8,136.3 211.0,150.5 217.0,142.6 225.0,141.0 226.7,130.0 231.4,119.0 233.0,100.0 240.8,97.0 253.5,93.8 258.0,95.3 259.8,101.6 270.8,104.8 278.7,106.4 288.0,101.6 296.0,93.8 297.6,109.5 292.9,120.5 296.0,131.6 288.0,134.7 283.4,142.6 292.9,152.0 305.5,163.0 319.6,169.4 329.0,178.8 337.0,175.7 341.7,164.7 343.3,125.3 346.4,93.8 349.6,82.7 354.3,90.6 359.0,109.5 363.8,130.0 370.0,134.7 379.5,144.0 384.0,166.0 390.0,190.0 400.0,202.0 412.0,210.0 420.0,222.0 430.0,236.0 434.0,250.0 446.0,266.0 456.0,270.0 458.0,290.0 460.0,299.0 460.0,324.0 456.0,346.8 449.0,366.0 438.7,380.0 433.4,397.7 426.4,420.6 423.0,434.7 410.6,438.0 396.5,447.0 389.5,454.0 382.5,447.0 372.0,440.0 361.4,449.6 345.6,445.0 333.0,438.0 325.8,430.0 326.3,421.7 324.1,413.4 318.6,407.3 309.8,410.6 310.9,407.9 313.1,399.6 309.2,390.8 307.6,390.8 305.9,400.7 304.3,402.9 303.2,396.9 304.3,388.6 307.0,380.9 307.6,374.8 305.9,367.6 303.2,378.7 299.3,384.2 295.4,388.6 291.0,395.8 289.4,405.1 285.5,396.9 282.2,393.0 280.0,385.3 270.0,369.6 254.5,363.0 241.0,356.0 220.6,358.0 195.0,365.0 178.0,371.6 170.0,385.0 153.0,388.6 132.0,388.6 119.0,397.0 102.0,402.0" fill="none" stroke="#111" stroke-width="2" stroke-linejoin="round" vector-effect="non-scaling-stroke"/>
<polygon points="375.4,470.7 379.0,473.3 393.0,478.6 403.6,475.0 405.3,462.8 408.8,462.8 410.6,473.3 408.8,485.6 408.8,499.0 379.0,499.8 373.7,478.6" fill="none" stroke="#111" stroke-width="2" stroke-linejoin="round" vector-effect="non-scaling-stroke"/>
<polygon points="294.3,409.0 304.3,408.4 304.3,414.5 296.0,415.6 294.3,413.0" fill="none" stroke="#111" stroke-width="2" stroke-linejoin="round" vector-effect="non-scaling-stroke"/>
<polygon points="297.6,401.0 302.0,399.6 303.2,404.0 299.0,405.1" fill="none" stroke="#111" stroke-width="2" stroke-linejoin="round" vector-effect="non-scaling-stroke"/>
</g>
<circle cx="1416" cy="335.7" r="4.8" fill="#ffee00"/><circle cx="1430" cy="384.8" r="4.8" fill="#ffee00"/>
<text x="1373.5" y="281" font-size="11.5" fill="#fff" text-anchor="start" textLength="24.5" lengthAdjust="spacingAndGlyphs" >YASI</text>
<circle cx="1366.9" cy="276.2" r="2.5" fill="none" stroke="#fff" stroke-width="1.5"/>
</g>
<text x="1127" y="114.8" font-size="34" fill="#000" text-anchor="start" textLength="128.6" lengthAdjust="spacingAndGlyphs" >06/02/2011</text>
<rect x="1197.7" y="451.6" width="38.299999999999955" height="15.399999999999977" fill="#0a0af5"/>
<rect x="1236" y="451.6" width="38.299999999999955" height="15.399999999999977" fill="#10ee10"/>
<rect x="1274.3" y="451.6" width="37.700000000000045" height="15.399999999999977" fill="#ffff00"/>
<rect x="1312" y="451.6" width="37" height="15.399999999999977" fill="#ff5a08"/>
<rect x="1349" y="451.6" width="38.5" height="15.399999999999977" fill="#ff0a0a"/>
<rect x="1197.7" y="451.6" width="189.79999999999995" height="15.399999999999977" fill="none" stroke="#555" stroke-width="0.6"/>
<text x="1193.5" y="481.5" font-size="15" fill="#000" text-anchor="start" textLength="14" lengthAdjust="spacingAndGlyphs" >50</text>
<text x="1235" y="481.5" font-size="15" fill="#000" text-anchor="start" textLength="21" lengthAdjust="spacingAndGlyphs" >150</text>
<text x="1275.3" y="481.5" font-size="15" fill="#000" text-anchor="start" textLength="21" lengthAdjust="spacingAndGlyphs" >300</text>
<text x="1312" y="481.5" font-size="15" fill="#000" text-anchor="start" textLength="21" lengthAdjust="spacingAndGlyphs" >450</text>
<text x="1349" y="481.5" font-size="15" fill="#000" text-anchor="start" textLength="21" lengthAdjust="spacingAndGlyphs" >600</text>
<text x="1237.6" y="439.5" font-size="19.5" fill="#000" text-anchor="start" textLength="106.4" lengthAdjust="spacingAndGlyphs" >rainfall (mm)</text>
<text x="33.2" y="58.9" font-size="80" fill="#000" text-anchor="start" >A</text>
<text x="566.6" y="60.8" font-size="80" fill="#000" text-anchor="start" >B</text>
<text x="1108.5" y="58.4" font-size="80" fill="#000" text-anchor="start" textLength="55" lengthAdjust="spacingAndGlyphs" >C</text>
<rect x="1" y="76.5" width="1647" height="4.4" fill="#000"/>
<rect x="548" y="78" width="3.2" height="425" fill="#000"/>
<rect x="1114" y="78" width="3.4" height="425" fill="#000"/>
<rect x="1" y="501.2" width="1647" height="4.6" fill="#000"/>
<rect x="802" y="505" width="3" height="946" fill="#000"/>
<path d="M143.3,896.1V960.9M139.3,896.1h8M139.3,960.9h8M145.4,672.2V804.3M141.4,672.2h8M141.4,804.3h8M148.7,735.4V865.8M144.7,735.4h8M144.7,865.8h8M151.7,799.8V849.8M147.7,799.8h8M147.7,849.8h8M155.0,747.1V872.6M151.0,747.1h8M151.0,872.6h8M157.7,838.9V929.9M153.7,838.9h8M153.7,929.9h8M160.4,802.4V862.0M156.4,802.4h8M156.4,862.0h8M163.7,752.5V849.8M159.7,752.5h8M159.7,849.8h8M166.4,898.3V966.9M162.4,898.3h8M162.4,966.9h8M169.4,791.7V842.1M165.4,791.7h8M165.4,842.1h8M172.1,717.6V780.7M168.1,717.6h8M168.1,780.7h8M174.6,763.5V817.6M170.6,763.5h8M170.6,817.6h8M177.6,786.4V876.8M173.6,786.4h8M173.6,876.8h8M180.8,797.7V875.9M176.8,797.7h8M176.8,875.9h8M184.1,776.2V843.5M180.1,776.2h8M180.1,843.5h8M187.6,774.6V887.0M183.6,774.6h8M183.6,887.0h8M190.4,771.2V854.5M186.4,771.2h8M186.4,854.5h8M193.3,842.7V907.1M189.3,842.7h8M189.3,907.1h8M195.8,845.1V916.7M191.8,845.1h8M191.8,916.7h8M198.5,769.8V859.1M194.5,769.8h8M194.5,859.1h8M201.8,771.3V832.0M197.8,771.3h8M197.8,832.0h8M204.5,752.1V827.4M200.5,752.1h8M200.5,827.4h8M207.5,768.2V854.2M203.5,768.2h8M203.5,854.2h8M210.2,851.0V976.1M206.2,851.0h8M206.2,976.1h8M212.9,756.1V843.5M208.9,756.1h8M208.9,843.5h8M216.2,661.7V801.8M212.2,661.7h8M212.2,801.8h8M219.2,762.4V850.2M215.2,762.4h8M215.2,850.2h8M222.2,841.8V935.3M218.2,841.8h8M218.2,935.3h8M225.2,809.7V893.8M221.2,809.7h8M221.2,893.8h8M227.9,770.0V848.1M223.9,770.0h8M223.9,848.1h8M230.9,841.9V933.5M226.9,841.9h8M226.9,933.5h8M233.9,856.3V928.9M229.9,856.3h8M229.9,928.9h8M236.6,916.3V967.4M232.6,916.3h8M232.6,967.4h8M239.9,843.6V925.3M235.9,843.6h8M235.9,925.3h8M242.9,848.0V938.8M238.9,848.0h8M238.9,938.8h8M245.6,906.2V974.3M241.6,906.2h8M241.6,974.3h8M248.9,872.1V921.3M244.9,872.1h8M244.9,921.3h8M251.1,778.2V881.8M247.1,778.2h8M247.1,881.8h8M257.0,757.4V845.4M253.0,757.4h8M253.0,845.4h8M260.6,775.6V836.5M256.6,775.6h8M256.6,836.5h8M263.0,708.0V835.0M259.0,708.0h8M259.0,835.0h8M265.7,698.4V774.9M261.7,698.4h8M261.7,774.9h8M269.3,754.8V845.4M265.3,754.8h8M265.3,845.4h8M272.6,712.2V774.7M268.6,712.2h8M268.6,774.7h8M275.3,700.6V767.2M271.3,700.6h8M271.3,767.2h8M278.3,715.5V813.3M274.3,715.5h8M274.3,813.3h8M280.7,676.2V733.4M276.7,676.2h8M276.7,733.4h8M283.7,757.7V817.9M279.7,757.7h8M279.7,817.9h8M286.4,780.6V859.2M282.4,780.6h8M282.4,859.2h8M289.4,755.5V803.7M285.4,755.5h8M285.4,803.7h8M293.0,670.9V738.1M289.0,670.9h8M289.0,738.1h8M296.0,641.9V739.4M292.0,641.9h8M292.0,739.4h8M297.3,621.9V696.7M293.3,621.9h8M293.3,696.7h8M300.6,603.0V716.2M296.6,603.0h8M296.6,716.2h8M304.1,604.7V693.3M300.1,604.7h8M300.1,693.3h8M307.1,659.5V749.0M303.1,659.5h8M303.1,749.0h8M310.1,603.0V728.9M306.1,603.0h8M306.1,728.9h8M312.8,607.2V719.7M308.8,607.2h8M308.8,719.7h8M315.6,610.7V667.1M311.6,610.7h8M311.6,667.1h8M318.8,670.4V779.5M314.8,670.4h8M314.8,779.5h8M321.8,609.6V662.8M317.8,609.6h8M317.8,662.8h8M325.1,640.7V690.0M321.1,640.7h8M321.1,690.0h8M327.8,626.4V706.4M323.8,626.4h8M323.8,706.4h8M330.5,675.6V736.7M326.5,675.6h8M326.5,736.7h8M333.8,630.5V697.4M329.8,630.5h8M329.8,697.4h8M336.5,620.6V712.8M332.5,620.6h8M332.5,712.8h8M340.1,637.4V709.6M336.1,637.4h8M336.1,709.6h8M342.5,636.3V756.9M338.5,636.3h8M338.5,756.9h8M345.8,641.2V703.0M341.8,641.2h8M341.8,703.0h8M348.5,603.0V750.7M344.5,603.0h8M344.5,750.7h8M351.2,641.2V716.7M347.2,641.2h8M347.2,716.7h8M354.2,603.0V716.7M350.2,603.0h8M350.2,716.7h8M356.9,664.9V763.8M352.9,664.9h8M352.9,763.8h8M359.9,634.1V718.3M355.9,634.1h8M355.9,718.3h8M362.6,705.8V772.9M358.6,705.8h8M358.6,772.9h8M365.9,671.3V759.5M361.9,671.3h8M361.9,759.5h8M368.6,732.1V820.6M364.6,732.1h8M364.6,820.6h8M371.4,634.4V694.0M367.4,634.4h8M367.4,694.0h8M374.6,674.5V773.7M370.6,674.5h8M370.6,773.7h8M377.3,629.9V719.8M373.3,629.9h8M373.3,719.8h8M380.3,634.1V720.5M376.3,634.1h8M376.3,720.5h8M383.1,649.1V724.0M379.1,649.1h8M379.1,724.0h8M386.3,652.4V769.2M382.3,652.4h8M382.3,769.2h8M389.0,646.3V707.8M385.0,646.3h8M385.0,707.8h8M391.8,675.0V772.7M387.8,675.0h8M387.8,772.7h8M395.0,686.9V783.6M391.0,686.9h8M391.0,783.6h8M397.8,675.6V773.2M393.8,675.6h8M393.8,773.2h8M400.8,727.0V786.5M396.8,727.0h8M396.8,786.5h8M403.5,700.7V758.9M399.5,700.7h8M399.5,758.9h8M404.1,689.8V770.3M400.1,689.8h8M400.1,770.3h8M406.8,734.3V826.0M402.8,734.3h8M402.8,826.0h8M412.2,713.6V795.5M408.2,713.6h8M408.2,795.5h8M415.8,769.7V822.1M411.8,769.7h8M411.8,822.1h8M419.0,706.1V801.4M415.0,706.1h8M415.0,801.4h8M421.2,677.0V764.0M417.2,677.0h8M417.2,764.0h8M424.5,668.0V725.2M420.5,668.0h8M420.5,725.2h8M427.2,703.4V768.7M423.2,703.4h8M423.2,768.7h8M433.2,695.0V793.5M429.2,695.0h8M429.2,793.5h8M435.9,667.6V736.5M431.9,667.6h8M431.9,736.5h8M439.5,632.5V718.2M435.5,632.5h8M435.5,718.2h8M442.2,699.2V753.8M438.2,699.2h8M438.2,753.8h8M444.9,714.4V809.4M440.9,714.4h8M440.9,809.4h8M447.9,659.3V714.9M443.9,659.3h8M443.9,714.9h8M450.6,681.1V780.1M446.6,681.1h8M446.6,780.1h8M453.9,686.6V752.8M449.9,686.6h8M449.9,752.8h8M456.6,682.0V840.2M452.6,682.0h8M452.6,840.2h8M459.9,737.3V819.1M455.9,737.3h8M455.9,819.1h8M462.6,753.6V850.2M458.6,753.6h8M458.6,850.2h8M465.3,668.2V761.5M461.3,668.2h8M461.3,761.5h8M468.0,728.3V787.3M464.0,728.3h8M464.0,787.3h8M471.3,746.1V809.3M467.3,746.1h8M467.3,809.3h8M474.0,710.4V788.9M470.0,710.4h8M470.0,788.9h8M479.5,729.7V799.5M475.5,729.7h8M475.5,799.5h8M483.0,711.5V806.8M479.0,711.5h8M479.0,806.8h8M486.0,790.5V862.3M482.0,790.5h8M482.0,862.3h8M489.0,789.8V884.8M485.0,789.8h8M485.0,884.8h8M492.0,767.1V862.8M488.0,767.1h8M488.0,862.8h8M494.7,854.7V930.3M490.7,854.7h8M490.7,930.3h8M497.4,829.1V878.1M493.4,829.1h8M493.4,878.1h8M500.7,670.2V818.2M496.7,670.2h8M496.7,818.2h8M503.4,805.0V862.0M499.4,805.0h8M499.4,862.0h8M506.7,790.3V876.1M502.7,790.3h8M502.7,876.1h8M509.9,801.5V866.5M505.9,801.5h8M505.9,866.5h8M512.1,836.9V913.8M508.1,836.9h8M508.1,913.8h8M515.4,862.2V915.7M511.4,862.2h8M511.4,915.7h8M518.1,778.0V838.9M514.1,778.0h8M514.1,838.9h8M521.4,780.7V868.8M517.4,780.7h8M517.4,868.8h8M524.6,784.5V861.7M520.6,784.5h8M520.6,861.7h8M527.3,776.8V872.2M523.3,776.8h8M523.3,872.2h8M530.1,744.3V824.1M526.1,744.3h8M526.1,824.1h8M532.8,814.9V889.6M528.8,814.9h8M528.8,889.6h8M535.5,725.3V796.8M531.5,725.3h8M531.5,796.8h8M538.8,736.4V809.2M534.8,736.4h8M534.8,809.2h8M541.5,736.9V821.2M537.5,736.9h8M537.5,821.2h8M544.2,684.8V781.8M540.2,684.8h8M540.2,781.8h8M547.5,723.1V800.2M543.5,723.1h8M543.5,800.2h8M550.2,774.0V865.7M546.2,774.0h8M546.2,865.7h8M553.7,786.4V840.8M549.7,786.4h8M549.7,840.8h8M557.0,818.5V870.2M553.0,818.5h8M553.0,870.2h8M559.7,787.7V839.5M555.7,787.7h8M555.7,839.5h8M562.4,778.2V867.0M558.4,778.2h8M558.4,867.0h8M565.2,831.8V887.9M561.2,831.8h8M561.2,887.9h8M568.2,828.8V911.1M564.2,828.8h8M564.2,911.1h8M571.4,817.0V910.9M567.4,817.0h8M567.4,910.9h8M574.1,868.8V928.2M570.1,868.8h8M570.1,928.2h8M576.9,834.2V902.9M572.9,834.2h8M572.9,902.9h8M579.6,828.6V928.1M575.6,828.6h8M575.6,928.1h8M582.9,810.4V866.8M578.9,810.4h8M578.9,866.8h8M586.1,799.3V874.1M582.1,799.3h8M582.1,874.1h8M588.8,803.0V861.2M584.8,803.0h8M584.8,861.2h8M591.8,770.7V903.9M587.8,770.7h8M587.8,903.9h8M594.8,774.1V894.0M590.8,774.1h8M590.8,894.0h8M597.6,796.5V877.0M593.6,796.5h8M593.6,877.0h8M600.3,876.9V928.3M596.3,876.9h8M596.3,928.3h8M603.0,826.8V915.8M599.0,826.8h8M599.0,915.8h8M605.7,829.1V882.5M601.7,829.1h8M601.7,882.5h8M608.7,786.4V836.5M604.7,786.4h8M604.7,836.5h8M611.7,746.1V808.2M607.7,746.1h8M607.7,808.2h8M615.0,800.4V870.4M611.0,800.4h8M611.0,870.4h8M617.7,768.3V858.9M613.7,768.3h8M613.7,858.9h8M620.7,803.4V859.2M616.7,803.4h8M616.7,859.2h8M623.7,784.3V862.0M619.7,784.3h8M619.7,862.0h8M626.4,817.8V959.1M622.4,817.8h8M622.4,959.1h8M629.7,689.7V846.0M625.7,689.7h8M625.7,846.0h8M632.4,766.3V847.3M628.4,766.3h8M628.4,847.3h8M635.6,785.3V837.6M631.6,785.3h8M631.6,837.6h8M641.1,881.2V932.7M637.1,881.2h8M637.1,932.7h8M644.1,839.6V911.2M640.1,839.6h8M640.1,911.2h8M647.1,825.0V901.8M643.1,825.0h8M643.1,901.8h8M649.8,796.2V858.2M645.8,796.2h8M645.8,858.2h8M653.1,808.6V884.0M649.1,808.6h8M649.1,884.0h8M655.8,615.4V915.4M651.8,615.4h8M651.8,915.4h8M659.0,855.0V905.6M655.0,855.0h8M655.0,905.6h8M661.8,603.0V888.8M657.8,603.0h8M657.8,888.8h8M664.5,776.7V864.2M660.5,776.7h8M660.5,864.2h8M667.8,902.6V976.6M663.8,902.6h8M663.8,976.6h8M670.5,836.4V951.4M666.5,836.4h8M666.5,951.4h8M673.5,942.1V987.0M669.5,942.1h8M669.5,987.0h8" stroke="#111" stroke-width="1.3" fill="none"/>
<g fill="#000"><circle cx="143.3" cy="928.5" r="4.6"/><circle cx="145.4" cy="738.3" r="4.6"/><circle cx="148.7" cy="800.6" r="4.6"/><circle cx="151.7" cy="824.8" r="4.6"/><circle cx="155.0" cy="809.9" r="4.6"/><circle cx="157.7" cy="884.4" r="4.6"/><circle cx="160.4" cy="832.2" r="4.6"/><circle cx="163.7" cy="801.1" r="4.6"/><circle cx="166.4" cy="932.6" r="4.6"/><circle cx="169.4" cy="816.9" r="4.6"/><circle cx="172.1" cy="749.2" r="4.6"/><circle cx="174.6" cy="790.5" r="4.6"/><circle cx="177.6" cy="831.6" r="4.6"/><circle cx="180.8" cy="836.8" r="4.6"/><circle cx="184.1" cy="809.9" r="4.6"/><circle cx="187.6" cy="830.8" r="4.6"/><circle cx="190.4" cy="812.8" r="4.6"/><circle cx="193.3" cy="874.9" r="4.6"/><circle cx="195.8" cy="880.9" r="4.6"/><circle cx="198.5" cy="814.5" r="4.6"/><circle cx="201.8" cy="801.7" r="4.6"/><circle cx="204.5" cy="789.7" r="4.6"/><circle cx="207.5" cy="811.2" r="4.6"/><circle cx="210.2" cy="913.6" r="4.6"/><circle cx="212.9" cy="799.8" r="4.6"/><circle cx="216.2" cy="731.7" r="4.6"/><circle cx="219.2" cy="806.3" r="4.6"/><circle cx="222.2" cy="888.5" r="4.6"/><circle cx="225.2" cy="851.8" r="4.6"/><circle cx="227.9" cy="809.0" r="4.6"/><circle cx="230.9" cy="887.7" r="4.6"/><circle cx="233.9" cy="892.6" r="4.6"/><circle cx="236.6" cy="941.9" r="4.6"/><circle cx="239.9" cy="884.4" r="4.6"/><circle cx="242.9" cy="893.4" r="4.6"/><circle cx="245.6" cy="940.2" r="4.6"/><circle cx="248.9" cy="896.7" r="4.6"/><circle cx="251.1" cy="830.0" r="4.6"/><circle cx="257.0" cy="801.4" r="4.6"/><circle cx="260.6" cy="806.0" r="4.6"/><circle cx="263.0" cy="771.5" r="4.6"/><circle cx="265.7" cy="736.6" r="4.6"/><circle cx="269.3" cy="800.1" r="4.6"/><circle cx="272.6" cy="743.4" r="4.6"/><circle cx="275.3" cy="733.9" r="4.6"/><circle cx="278.3" cy="764.4" r="4.6"/><circle cx="280.7" cy="704.8" r="4.6"/><circle cx="283.7" cy="787.8" r="4.6"/><circle cx="286.4" cy="819.9" r="4.6"/><circle cx="289.4" cy="779.6" r="4.6"/><circle cx="293.0" cy="704.5" r="4.6"/><circle cx="296.0" cy="690.6" r="4.6"/><circle cx="297.3" cy="659.3" r="4.6"/><circle cx="300.6" cy="639.2" r="4.6"/><circle cx="304.1" cy="649.0" r="4.6"/><circle cx="307.1" cy="704.2" r="4.6"/><circle cx="310.1" cy="659.9" r="4.6"/><circle cx="312.8" cy="663.4" r="4.6"/><circle cx="315.6" cy="638.9" r="4.6"/><circle cx="318.8" cy="724.9" r="4.6"/><circle cx="321.8" cy="636.2" r="4.6"/><circle cx="325.1" cy="665.3" r="4.6"/><circle cx="327.8" cy="666.4" r="4.6"/><circle cx="330.5" cy="706.2" r="4.6"/><circle cx="333.8" cy="664.0" r="4.6"/><circle cx="336.5" cy="666.7" r="4.6"/><circle cx="340.1" cy="673.5" r="4.6"/><circle cx="342.5" cy="696.6" r="4.6"/><circle cx="345.8" cy="672.1" r="4.6"/><circle cx="348.5" cy="672.1" r="4.6"/><circle cx="351.2" cy="678.9" r="4.6"/><circle cx="354.2" cy="650.9" r="4.6"/><circle cx="356.9" cy="714.3" r="4.6"/><circle cx="359.9" cy="676.2" r="4.6"/><circle cx="362.6" cy="739.4" r="4.6"/><circle cx="365.9" cy="715.4" r="4.6"/><circle cx="368.6" cy="776.4" r="4.6"/><circle cx="371.4" cy="664.2" r="4.6"/><circle cx="374.6" cy="724.1" r="4.6"/><circle cx="377.3" cy="674.9" r="4.6"/><circle cx="380.3" cy="677.3" r="4.6"/><circle cx="383.1" cy="686.6" r="4.6"/><circle cx="386.3" cy="710.8" r="4.6"/><circle cx="389.0" cy="677.0" r="4.6"/><circle cx="391.8" cy="723.8" r="4.6"/><circle cx="395.0" cy="735.3" r="4.6"/><circle cx="397.8" cy="724.4" r="4.6"/><circle cx="400.8" cy="756.8" r="4.6"/><circle cx="403.5" cy="729.8" r="4.6"/><circle cx="404.1" cy="730.1" r="4.6"/><circle cx="406.8" cy="780.1" r="4.6"/><circle cx="412.2" cy="754.6" r="4.6"/><circle cx="415.8" cy="795.9" r="4.6"/><circle cx="419.0" cy="753.7" r="4.6"/><circle cx="421.2" cy="720.5" r="4.6"/><circle cx="424.5" cy="696.6" r="4.6"/><circle cx="427.2" cy="736.1" r="4.6"/><circle cx="433.2" cy="744.2" r="4.6"/><circle cx="435.9" cy="702.0" r="4.6"/><circle cx="439.5" cy="675.4" r="4.6"/><circle cx="442.2" cy="726.5" r="4.6"/><circle cx="444.9" cy="761.9" r="4.6"/><circle cx="447.9" cy="687.1" r="4.6"/><circle cx="450.6" cy="730.6" r="4.6"/><circle cx="453.9" cy="719.7" r="4.6"/><circle cx="456.6" cy="761.1" r="4.6"/><circle cx="459.9" cy="778.2" r="4.6"/><circle cx="462.6" cy="801.9" r="4.6"/><circle cx="465.3" cy="714.8" r="4.6"/><circle cx="468.0" cy="757.8" r="4.6"/><circle cx="471.3" cy="777.7" r="4.6"/><circle cx="474.0" cy="749.7" r="4.6"/><circle cx="479.5" cy="764.6" r="4.6"/><circle cx="483.0" cy="759.2" r="4.6"/><circle cx="486.0" cy="826.4" r="4.6"/><circle cx="489.0" cy="837.3" r="4.6"/><circle cx="492.0" cy="815.0" r="4.6"/><circle cx="494.7" cy="892.5" r="4.6"/><circle cx="497.4" cy="853.6" r="4.6"/><circle cx="500.7" cy="744.2" r="4.6"/><circle cx="503.4" cy="833.5" r="4.6"/><circle cx="506.7" cy="833.2" r="4.6"/><circle cx="509.9" cy="834.0" r="4.6"/><circle cx="512.1" cy="875.4" r="4.6"/><circle cx="515.4" cy="889.0" r="4.6"/><circle cx="518.1" cy="808.4" r="4.6"/><circle cx="521.4" cy="824.8" r="4.6"/><circle cx="524.6" cy="823.1" r="4.6"/><circle cx="527.3" cy="824.5" r="4.6"/><circle cx="530.1" cy="784.2" r="4.6"/><circle cx="532.8" cy="852.2" r="4.6"/><circle cx="535.5" cy="761.1" r="4.6"/><circle cx="538.8" cy="772.8" r="4.6"/><circle cx="541.5" cy="779.0" r="4.6"/><circle cx="544.2" cy="733.3" r="4.6"/><circle cx="547.5" cy="761.6" r="4.6"/><circle cx="550.2" cy="819.9" r="4.6"/><circle cx="553.7" cy="813.6" r="4.6"/><circle cx="557.0" cy="844.4" r="4.6"/><circle cx="559.7" cy="813.6" r="4.6"/><circle cx="562.4" cy="822.6" r="4.6"/><circle cx="565.2" cy="859.9" r="4.6"/><circle cx="568.2" cy="869.9" r="4.6"/><circle cx="571.4" cy="863.9" r="4.6"/><circle cx="574.1" cy="898.5" r="4.6"/><circle cx="576.9" cy="868.6" r="4.6"/><circle cx="579.6" cy="878.4" r="4.6"/><circle cx="582.9" cy="838.6" r="4.6"/><circle cx="586.1" cy="836.7" r="4.6"/><circle cx="588.8" cy="832.1" r="4.6"/><circle cx="591.8" cy="837.3" r="4.6"/><circle cx="594.8" cy="834.0" r="4.6"/><circle cx="597.6" cy="836.7" r="4.6"/><circle cx="600.3" cy="902.6" r="4.6"/><circle cx="603.0" cy="871.3" r="4.6"/><circle cx="605.7" cy="855.8" r="4.6"/><circle cx="608.7" cy="811.4" r="4.6"/><circle cx="611.7" cy="777.1" r="4.6"/><circle cx="615.0" cy="835.4" r="4.6"/><circle cx="617.7" cy="813.6" r="4.6"/><circle cx="620.7" cy="831.3" r="4.6"/><circle cx="623.7" cy="823.1" r="4.6"/><circle cx="626.4" cy="888.4" r="4.6"/><circle cx="629.7" cy="767.9" r="4.6"/><circle cx="632.4" cy="806.8" r="4.6"/><circle cx="635.6" cy="811.4" r="4.6"/><circle cx="641.1" cy="906.9" r="4.6"/><circle cx="644.1" cy="875.4" r="4.6"/><circle cx="647.1" cy="863.4" r="4.6"/><circle cx="649.8" cy="827.2" r="4.6"/><circle cx="653.1" cy="846.3" r="4.6"/><circle cx="655.8" cy="765.4" r="4.6"/><circle cx="659.0" cy="880.3" r="4.6"/><circle cx="661.8" cy="738.8" r="4.6"/><circle cx="664.5" cy="820.4" r="4.6"/><circle cx="667.8" cy="939.6" r="4.6"/><circle cx="670.5" cy="893.9" r="4.6"/><circle cx="673.5" cy="966.5" r="4.6"/></g>
<polyline points="142.7,766.6 169.9,766.6 175.4,785.1 180.8,809.6 187.6,845.0 193.1,836.8 197.2,850.4 202.6,868.1 206.7,865.4 210.8,872.2 218.9,874.9 224.4,870.8 231.2,855.9 236.6,831.4 242.1,802.8 246.2,809.6 248.9,801.4 251.6,797.3 254.3,801.4 258.4,794.6 262.5,774.2 267.9,748.3 273.4,730.6 278.8,717.0 284.3,708.9 289.7,695.3 295.1,676.2 300.6,654.4 306.0,640.8 311.5,643.5 316.9,659.9 322.4,673.5 327.8,668.0 331.9,661.2 336.0,670.8 341.4,687.1 346.9,717.0 352.3,727.9 357.7,752.4 363.2,748.3 371.4,747.0 376.8,741.5 382.2,756.5 387.7,742.9 393.1,740.2 395.9,737.5 401.3,747.0 400.0,741.5 410.9,763.3 416.3,766.0 421.8,767.3 429.9,748.3 434.0,763.3 439.5,783.7 449.0,779.6 454.4,776.9 463.9,778.2 470.7,798.6 474.8,786.4 481.6,812.2 487.1,810.9 492.5,801.4 498.0,810.9 503.4,813.6 507.5,825.9 517.0,834.0 522.4,829.9 527.3,847.6 530.6,828.6 536.1,828.6 544.2,834.0 551.0,842.2 556.5,866.7 563.3,862.6 571.4,861.2 579.6,853.1 585.0,873.5 593.2,849.0 598.6,858.5 602.7,859.9 609.5,846.3 617.7,850.3 623.1,854.4 631.3,843.5 635.4,843.5 638.9,821.0 642.2,844.9 646.3,854.4 670.7,854.4" fill="none" stroke="#e81010" stroke-width="3.2" stroke-linejoin="round"/>
<rect x="143.5" y="603" width="531.0" height="384" fill="none" stroke="#111" stroke-width="1.5"/>
<text x="128" y="993.0" font-size="16.5" fill="#000" text-anchor="end" >0.0</text>
<text x="687" y="993.0" font-size="16.5" fill="#e81010" text-anchor="start" >0.0</text>
<text x="128" y="916.2" font-size="16.5" fill="#000" text-anchor="end" >0.2</text>
<text x="687" y="916.2" font-size="16.5" fill="#e81010" text-anchor="start" >0.2</text>
<text x="128" y="839.4" font-size="16.5" fill="#000" text-anchor="end" >0.4</text>
<text x="687" y="839.4" font-size="16.5" fill="#e81010" text-anchor="start" >0.4</text>
<text x="128" y="762.6" font-size="16.5" fill="#000" text-anchor="end" >0.6</text>
<text x="687" y="762.6" font-size="16.5" fill="#e81010" text-anchor="start" >0.6</text>
<text x="128" y="685.8" font-size="16.5" fill="#000" text-anchor="end" >0.8</text>
<text x="687" y="685.8" font-size="16.5" fill="#e81010" text-anchor="start" >0.8</text>
<text x="128" y="609.0" font-size="16.5" fill="#000" text-anchor="end" >1.0</text>
<text x="687" y="609.0" font-size="16.5" fill="#e81010" text-anchor="start" >1.0</text>
<path d="M137.5,987.0h6M674.5,987.0h6M137.5,910.2h6M674.5,910.2h6M137.5,833.4h6M674.5,833.4h6M137.5,756.6h6M674.5,756.6h6M137.5,679.8h6M674.5,679.8h6M137.5,603.0h6M674.5,603.0h6M143.5,987v6M235,987v6M317,987v6M407,987v6M495,987v6M587,987v6M674,987v6" stroke="#111" stroke-width="1.5"/>
<text x="0" y="0" font-size="17" fill="#000" text-anchor="middle" textLength="155.6" lengthAdjust="spacingAndGlyphs" transform="translate(90.5,798.5) rotate(-90)">Nocturnality index</text>
<text x="0" y="0" font-size="17.5" fill="#e81010" text-anchor="middle" textLength="249" lengthAdjust="spacingAndGlyphs" transform="translate(743.5,794.2) rotate(-90)">Displacement in 2 hours (km)</text>
<text x="32.5" y="598.5" font-size="81" fill="#000" text-anchor="start" textLength="56.5" lengthAdjust="spacingAndGlyphs" >D</text>
<text x="315.6" y="583.5" font-size="40" fill="#000" text-anchor="start" textLength="403.5" lengthAdjust="spacingAndGlyphs" >Arid Aseasonal (AA)</text>
<text x="176.4" y="554.5" font-size="32" fill="#14841c" text-anchor="start" textLength="124.6" lengthAdjust="spacingAndGlyphs" >Cyclone</text>
<text x="208.2" y="592.7" font-size="32" fill="#14841c" text-anchor="start" textLength="62.3" lengthAdjust="spacingAndGlyphs" >Yasi</text>
<rect x="246.4" y="601" width="3.8" height="190" fill="#14841c"/>
<polygon points="239.5,786 257,786 248.3,803" fill="#14841c"/>
<g fill="#0a7a0a"><rect x="148.6" y="1168.1" width="2.8" height="1.1"/><rect x="150.9" y="1168.3" width="2.8" height="0.9"/><rect x="154.4" y="1167.5" width="2.8" height="1.7"/><rect x="169.2" y="1167.1" width="2.8" height="2.1"/><rect x="237.8" y="1167.1" width="2.8" height="2.1"/><rect x="240.1" y="1167.1" width="2.8" height="2.1"/><rect x="244.8" y="1147.9" width="2.8" height="21.3"/><rect x="247.9" y="1041.2" width="2.8" height="128.0"/><rect x="249.8" y="1141.5" width="2.8" height="27.7"/><rect x="251.4" y="1141.5" width="2.8" height="27.7"/><rect x="252.5" y="1141.5" width="2.8" height="27.7"/><rect x="254.1" y="1096.7" width="2.8" height="72.5"/><rect x="268.1" y="1159.6" width="2.8" height="9.6"/><rect x="286.3" y="1153.2" width="2.8" height="16.0"/><rect x="336.3" y="1167.1" width="2.8" height="2.1"/><rect x="338.7" y="1162.8" width="2.8" height="6.4"/><rect x="365.0" y="1166.0" width="2.8" height="3.2"/><rect x="370.9" y="1160.7" width="2.8" height="8.5"/><rect x="373.6" y="1167.1" width="2.8" height="2.1"/><rect x="432.1" y="1168.1" width="2.8" height="1.1"/><rect x="496.9" y="1147.9" width="2.8" height="21.3"/><rect x="499.6" y="1157.5" width="2.8" height="11.7"/><rect x="517.5" y="1168.1" width="2.8" height="1.1"/><rect x="556.3" y="1163.9" width="2.8" height="5.3"/><rect x="558.2" y="1168.1" width="2.8" height="1.1"/><rect x="644.3" y="1168.1" width="2.8" height="1.1"/></g>
<path d="M143.4,1019.9V1169.2H674.8" stroke="#111" stroke-width="1.5" fill="none"/>
<text x="130.6" y="1174.7" font-size="16.5" fill="#14841c" text-anchor="end" textLength="9.5" lengthAdjust="spacingAndGlyphs" >0</text>
<text x="130.6" y="1153.3714285714286" font-size="16.5" fill="#14841c" text-anchor="end" textLength="19.0" lengthAdjust="spacingAndGlyphs" >10</text>
<text x="130.6" y="1132.0428571428572" font-size="16.5" fill="#14841c" text-anchor="end" textLength="19.0" lengthAdjust="spacingAndGlyphs" >20</text>
<text x="130.6" y="1110.7142857142858" font-size="16.5" fill="#14841c" text-anchor="end" textLength="19.0" lengthAdjust="spacingAndGlyphs" >30</text>
<text x="130.6" y="1089.3857142857144" font-size="16.5" fill="#14841c" text-anchor="end" textLength="19.0" lengthAdjust="spacingAndGlyphs" >40</text>
<text x="130.6" y="1068.057142857143" font-size="16.5" fill="#14841c" text-anchor="end" textLength="19.0" lengthAdjust="spacingAndGlyphs" >50</text>
<text x="130.6" y="1046.7285714285715" font-size="16.5" fill="#14841c" text-anchor="end" textLength="19.0" lengthAdjust="spacingAndGlyphs" >60</text>
<text x="130.6" y="1025.4" font-size="16.5" fill="#14841c" text-anchor="end" textLength="19.0" lengthAdjust="spacingAndGlyphs" >70</text>
<path d="M137.4,1169.2h6M137.4,1147.9h6M137.4,1126.5h6M137.4,1105.2h6M137.4,1083.9h6M137.4,1062.6h6M137.4,1041.2h6M137.4,1019.9h6M143.4,1169.2v7M235.3,1169.2v7M317.2,1169.2v7M408,1169.2v7M496.4,1169.2v7M586.8,1169.2v7M674.8,1169.2v7" stroke="#111" stroke-width="1.5"/>
<text x="145.3" y="1200.8" font-size="18" fill="#000" text-anchor="middle" >J</text>
<text x="232.6" y="1200.8" font-size="18" fill="#000" text-anchor="middle" >F</text>
<text x="319" y="1200.8" font-size="18" fill="#000" text-anchor="middle" >M</text>
<text x="408" y="1200.8" font-size="18" fill="#000" text-anchor="middle" >A</text>
<text x="501" y="1200.8" font-size="18" fill="#000" text-anchor="middle" >M</text>
<text x="586.8" y="1200.8" font-size="18" fill="#000" text-anchor="middle" >J</text>
<text x="671.7" y="1200.8" font-size="18" fill="#000" text-anchor="middle" >J</text>
<text x="408" y="1221.6" font-size="18" fill="#000" text-anchor="middle" >2011</text>
<text x="0" y="0" font-size="18" fill="#14841c" text-anchor="middle" textLength="179.3" lengthAdjust="spacingAndGlyphs" transform="translate(90.5,1094.3) rotate(-90)">Rainfall per day (mm)</text>
<rect x="155" y="1373.0" width="45.400000000000006" height="2.1" fill="#0a7a0a" stroke="#0a3a0a" stroke-width="1.2"/>
<rect x="239.6" y="1235.5" width="46.20000000000002" height="139.8" fill="#0a7a0a" stroke="#0a3a0a" stroke-width="1.2"/>
<rect x="316.8" y="1363.4" width="45.80000000000001" height="11.8" fill="#0a7a0a" stroke="#0a3a0a" stroke-width="1.2"/>
<rect x="402" y="1374.7" width="46" height="0.5" fill="#0a7a0a" stroke="#0a3a0a" stroke-width="1.2"/>
<rect x="484.4" y="1354.8" width="45.60000000000002" height="20.4" fill="#0a7a0a" stroke="#0a3a0a" stroke-width="1.2"/>
<rect x="570" y="1374.7" width="45.5" height="0.5" fill="#0a7a0a" stroke="#0a3a0a" stroke-width="1.2"/>
<path d="M144.5,1224.7V1375.2H674.8" stroke="#111" stroke-width="1.5" fill="none"/>
<text x="129.4" y="1380.7" font-size="16.5" fill="#14841c" text-anchor="end" textLength="9.3" lengthAdjust="spacingAndGlyphs" >0</text>
<text x="129.4" y="1359.2" font-size="16.5" fill="#14841c" text-anchor="end" textLength="18.6" lengthAdjust="spacingAndGlyphs" >20</text>
<text x="129.4" y="1337.7" font-size="16.5" fill="#14841c" text-anchor="end" textLength="18.6" lengthAdjust="spacingAndGlyphs" >40</text>
<text x="129.4" y="1316.2" font-size="16.5" fill="#14841c" text-anchor="end" textLength="18.6" lengthAdjust="spacingAndGlyphs" >60</text>
<text x="129.4" y="1294.7" font-size="16.5" fill="#14841c" text-anchor="end" textLength="18.6" lengthAdjust="spacingAndGlyphs" >80</text>
<text x="129.4" y="1273.2" font-size="16.5" fill="#14841c" text-anchor="end" textLength="27.900000000000002" lengthAdjust="spacingAndGlyphs" >100</text>
<text x="129.4" y="1251.7" font-size="16.5" fill="#14841c" text-anchor="end" textLength="27.900000000000002" lengthAdjust="spacingAndGlyphs" >120</text>
<text x="129.4" y="1230.2" font-size="16.5" fill="#14841c" text-anchor="end" textLength="27.900000000000002" lengthAdjust="spacingAndGlyphs" >140</text>
<path d="M138.5,1375.2h6M138.5,1353.7h6M138.5,1332.2h6M138.5,1310.7h6M138.5,1289.2h6M138.5,1267.7h6M138.5,1246.2h6M138.5,1224.7h6M177,1375.2v6M262.5,1375.2v6M339.3,1375.2v6M424.6,1375.2v6M507.2,1375.2v6M592.6,1375.2v6M674.8,1375.2v6" stroke="#111" stroke-width="1.5"/>
<text x="173.7" y="1407" font-size="18" fill="#000" text-anchor="middle" >J</text>
<text x="260" y="1407" font-size="18" fill="#000" text-anchor="middle" >F</text>
<text x="343" y="1407" font-size="18" fill="#000" text-anchor="middle" >M</text>
<text x="426.6" y="1407" font-size="18" fill="#000" text-anchor="middle" >A</text>
<text x="507" y="1407" font-size="18" fill="#000" text-anchor="middle" >M</text>
<text x="592.6" y="1407" font-size="18" fill="#000" text-anchor="middle" >J</text>
<text x="673" y="1407" font-size="18" fill="#000" text-anchor="middle" >J</text>
<text x="417.6" y="1428.4" font-size="18" fill="#000" text-anchor="middle" >2011</text>
<text x="0" y="0" font-size="18" fill="#14841c" text-anchor="middle" textLength="202.6" lengthAdjust="spacingAndGlyphs" transform="translate(90.5,1300.6) rotate(-90)">Rainfall per month (mm)</text>
<path d="M1090.5,824.9V883.5M1086.5,824.9h8M1086.5,883.5h8M1098.1,779.9V845.9M1094.1,779.9h8M1094.1,845.9h8M1054.1,792.2V870.6M1050.1,792.2h8M1050.1,870.6h8M1041.8,765.1V813.8M1037.8,765.1h8M1037.8,813.8h8M1041.3,751.5V784.4M1037.3,751.5h8M1037.3,784.4h8M1162.6,787.8V876.6M1158.6,787.8h8M1158.6,876.6h8M1117.9,784.6V815.8M1113.9,784.6h8M1113.9,815.8h8M1100.9,781.6V815.6M1096.9,781.6h8M1096.9,815.6h8M1054.9,756.4V814.9M1050.9,756.4h8M1050.9,814.9h8M1088.9,737.4V818.8M1084.9,737.4h8M1084.9,818.8h8M1099.6,774.9V845.5M1095.6,774.9h8M1095.6,845.5h8M1091.2,791.7V839.0M1087.2,791.7h8M1087.2,839.0h8M1164.7,687.7V761.0M1160.7,687.7h8M1160.7,761.0h8M1071.9,765.6V809.9M1067.9,765.6h8M1067.9,809.9h8M1068.3,709.0V763.7M1064.3,709.0h8M1064.3,763.7h8M1144.1,735.7V789.5M1140.1,735.7h8M1140.1,789.5h8M1159.3,763.9V807.0M1155.3,763.9h8M1155.3,807.0h8M1152.8,757.5V816.4M1148.8,757.5h8M1148.8,816.4h8M1162.3,761.8V830.4M1158.3,761.8h8M1158.3,830.4h8M1134.9,755.2V801.9M1130.9,755.2h8M1130.9,801.9h8M1040.9,789.1V865.5M1036.9,789.1h8M1036.9,865.5h8M1045.0,691.2V736.5M1041.0,691.2h8M1041.0,736.5h8M1042.7,712.0V753.1M1038.7,712.0h8M1038.7,753.1h8M1105.1,736.2V793.7M1101.1,736.2h8M1101.1,793.7h8M1054.9,753.3V822.7M1050.9,753.3h8M1050.9,822.7h8M1044.8,775.1V831.0M1040.8,775.1h8M1040.8,831.0h8M1057.9,757.2V836.3M1053.9,757.2h8M1053.9,836.3h8M1070.4,658.9V743.0M1066.4,658.9h8M1066.4,743.0h8M1057.7,801.2V870.5M1053.7,801.2h8M1053.7,870.5h8M1042.6,701.9V792.2M1038.6,701.9h8M1038.6,792.2h8M1058.0,763.8V814.1M1054.0,763.8h8M1054.0,814.1h8M1069.3,713.2V748.0M1065.3,713.2h8M1065.3,748.0h8M1041.3,773.5V840.4M1037.3,773.5h8M1037.3,840.4h8M1079.6,769.1V826.9M1075.6,769.1h8M1075.6,826.9h8M1159.4,786.5V869.5M1155.4,786.5h8M1155.4,869.5h8M1053.9,761.9V801.6M1049.9,761.9h8M1049.9,801.6h8M1152.5,755.0V796.9M1148.5,755.0h8M1148.5,796.9h8M1129.6,764.6V852.0M1125.6,764.6h8M1125.6,852.0h8M1055.7,689.1V756.1M1051.7,689.1h8M1051.7,756.1h8M1086.3,788.3V824.9M1082.3,788.3h8M1082.3,824.9h8M1034.3,726.4V799.5M1030.3,726.4h8M1030.3,799.5h8M1063.9,751.4V831.8M1059.9,751.4h8M1059.9,831.8h8M1110.1,754.4V828.5M1106.1,754.4h8M1106.1,828.5h8M1038.4,744.7V788.9M1034.4,744.7h8M1034.4,788.9h8M1105.1,735.7V783.0M1101.1,735.7h8M1101.1,783.0h8M1153.8,800.3V843.0M1149.8,800.3h8M1149.8,843.0h8M1031.3,773.3V807.3M1027.3,773.3h8M1027.3,807.3h8M1053.0,724.9V777.7M1049.0,724.9h8M1049.0,777.7h8M1106.8,723.2V807.6M1102.8,723.2h8M1102.8,807.6h8M1162.3,728.5V798.7M1158.3,728.5h8M1158.3,798.7h8M1123.0,785.1V817.6M1119.0,785.1h8M1119.0,817.6h8M1031.4,752.2V837.8M1027.4,752.2h8M1027.4,837.8h8M1124.3,745.1V814.0M1120.3,745.1h8M1120.3,814.0h8M1094.6,750.3V825.0M1090.6,750.3h8M1090.6,825.0h8M1072.4,741.6V805.1M1068.4,741.6h8M1068.4,805.1h8M1129.2,743.6V828.6M1125.2,743.6h8M1125.2,828.6h8M1129.2,759.5V845.4M1125.2,759.5h8M1125.2,845.4h8M1076.8,804.9V876.9M1072.8,804.9h8M1072.8,876.9h8M1151.5,723.8V802.1M1147.5,723.8h8M1147.5,802.1h8M1146.4,777.8V842.9M1142.4,777.8h8M1142.4,842.9h8M1114.0,783.9V851.2M1110.0,783.9h8M1110.0,851.2h8M1039.9,722.8V791.9M1035.9,722.8h8M1035.9,791.9h8M1164.1,721.2V775.1M1160.1,721.2h8M1160.1,775.1h8M1129.0,788.9V854.5M1125.0,788.9h8M1125.0,854.5h8M1088.9,741.0V816.9M1084.9,741.0h8M1084.9,816.9h8M1033.1,764.1V830.9M1029.1,764.1h8M1029.1,830.9h8M1094.4,749.6V810.1M1090.4,749.6h8M1090.4,810.1h8M1112.6,693.4V779.6M1108.6,693.4h8M1108.6,779.6h8M1063.8,723.1V794.6M1059.8,723.1h8M1059.8,794.6h8M1056.6,763.8V804.4M1052.6,763.8h8M1052.6,804.4h8M1152.2,762.5V847.0M1148.2,762.5h8M1148.2,847.0h8M1073.5,780.1V850.8M1069.5,780.1h8M1069.5,850.8h8M1056.0,796.1V881.9M1052.0,796.1h8M1052.0,881.9h8M1148.7,734.7V788.3M1144.7,734.7h8M1144.7,788.3h8M1108.3,762.9V823.4M1104.3,762.9h8M1104.3,823.4h8M1142.8,729.2V811.0M1138.8,729.2h8M1138.8,811.0h8M1125.7,741.1V781.7M1121.7,741.1h8M1121.7,781.7h8M1090.3,770.6V817.6M1086.3,770.6h8M1086.3,817.6h8M1058.1,794.7V855.0M1054.1,794.7h8M1054.1,855.0h8M1071.9,722.2V803.4M1067.9,722.2h8M1067.9,803.4h8M1162.6,782.1V814.3M1158.6,782.1h8M1158.6,814.3h8M1147.7,765.9V798.8M1143.7,765.9h8M1143.7,798.8h8M1125.4,771.9V850.3M1121.4,771.9h8M1121.4,850.3h8M1031.6,778.7V817.3M1027.6,778.7h8M1027.6,817.3h8M1090.9,703.8V748.5M1086.9,703.8h8M1086.9,748.5h8M1048.2,760.1V793.3M1044.2,760.1h8M1044.2,793.3h8M1114.6,793.9V864.0M1110.6,793.9h8M1110.6,864.0h8M1138.8,726.8V815.3M1134.8,726.8h8M1134.8,815.3h8M1122.1,754.0V795.2M1118.1,754.0h8M1118.1,795.2h8M1030.5,721.8V780.8M1026.5,721.8h8M1026.5,780.8h8M1126.1,749.3V800.6M1122.1,749.3h8M1122.1,800.6h8M1123.8,731.9V793.8M1119.8,731.9h8M1119.8,793.8h8M1112.6,745.6V824.0M1108.6,745.6h8M1108.6,824.0h8M1152.2,800.5V836.1M1148.2,800.5h8M1148.2,836.1h8M1155.8,760.1V817.9M1151.8,760.1h8M1151.8,817.9h8M1114.1,760.0V845.6M1110.1,760.0h8M1110.1,845.6h8M1080.2,806.9V885.6M1076.2,806.9h8M1076.2,885.6h8M1157.4,784.6V843.1M1153.4,784.6h8M1153.4,843.1h8M1117.6,731.6V811.6M1113.6,731.6h8M1113.6,811.6h8M1116.3,699.6V773.5M1112.3,699.6h8M1112.3,773.5h8M1058.0,668.0V757.7M1054.0,668.0h8M1054.0,757.7h8M1102.0,800.1V878.4M1098.0,800.1h8M1098.0,878.4h8M1072.6,706.7V758.2M1068.6,706.7h8M1068.6,758.2h8M1040.3,791.5V848.6M1036.3,791.5h8M1036.3,848.6h8M1103.8,765.8V797.8M1099.8,765.8h8M1099.8,797.8h8M1139.0,806.0V840.2M1135.0,806.0h8M1135.0,840.2h8M1137.8,733.4V811.6M1133.8,733.4h8M1133.8,811.6h8M1048.1,740.6V780.0M1044.1,740.6h8M1044.1,780.0h8M1099.2,760.2V832.4M1095.2,760.2h8M1095.2,832.4h8M1157.6,816.8V877.1M1153.6,816.8h8M1153.6,877.1h8M1158.1,735.4V797.7M1154.1,735.4h8M1154.1,797.7h8M1068.5,737.0V811.6M1064.5,737.0h8M1064.5,811.6h8M1115.9,815.4V879.7M1111.9,815.4h8M1111.9,879.7h8M1071.4,768.2V821.7M1067.4,768.2h8M1067.4,821.7h8M1144.0,727.2V809.2M1140.0,727.2h8M1140.0,809.2h8M1160.7,767.9V830.0M1156.7,767.9h8M1156.7,830.0h8M1106.9,743.5V804.4M1102.9,743.5h8M1102.9,804.4h8M1111.3,732.0V764.0M1107.3,732.0h8M1107.3,764.0h8M1160.8,779.0V858.0M1156.8,779.0h8M1156.8,858.0h8M1105.5,759.3V819.4M1101.5,759.3h8M1101.5,819.4h8M1123.0,721.6V777.1M1119.0,721.6h8M1119.0,777.1h8M1159.1,726.7V813.1M1155.1,726.7h8M1155.1,813.1h8M1065.6,774.3V831.0M1061.6,774.3h8M1061.6,831.0h8M1139.9,740.7V825.7M1135.9,740.7h8M1135.9,825.7h8M1093.8,760.8V828.6M1089.8,760.8h8M1089.8,828.6h8M1154.8,747.8V786.0M1150.8,747.8h8M1150.8,786.0h8M1135.0,743.0V787.2M1131.0,743.0h8M1131.0,787.2h8M1122.4,758.1V808.0M1118.4,758.1h8M1118.4,808.0h8M1077.3,759.8V834.5M1073.3,759.8h8M1073.3,834.5h8M1045.7,765.8V827.1M1041.7,765.8h8M1041.7,827.1h8M1063.1,744.9V801.7M1059.1,744.9h8M1059.1,801.7h8M1080.1,720.8V776.3M1076.1,720.8h8M1076.1,776.3h8M1101.0,740.0V808.7M1097.0,740.0h8M1097.0,808.7h8M1115.8,736.4V798.9M1111.8,736.4h8M1111.8,798.9h8M1144.8,812.4V856.8M1140.8,812.4h8M1140.8,856.8h8M1129.7,787.3V866.9M1125.7,787.3h8M1125.7,866.9h8M1151.8,754.2V840.5M1147.8,754.2h8M1147.8,840.5h8M1058.7,714.9V805.9M1054.7,714.9h8M1054.7,805.9h8M1149.7,733.0V807.4M1145.7,733.0h8M1145.7,807.4h8M1064.3,750.2V786.4M1060.3,750.2h8M1060.3,786.4h8M1142.2,817.3V855.2M1138.2,817.3h8M1138.2,855.2h8M1083.8,723.2V795.1M1079.8,723.2h8M1079.8,795.1h8M1031.4,728.4V814.1M1027.4,728.4h8M1027.4,814.1h8M1160.7,720.9V758.2M1156.7,720.9h8M1156.7,758.2h8M1097.8,748.1V820.1M1093.8,748.1h8M1093.8,820.1h8M1054.7,806.8V841.4M1050.7,806.8h8M1050.7,841.4h8M1043.4,715.6V777.1M1039.4,715.6h8M1039.4,777.1h8M1106.3,756.9V796.2M1102.3,756.9h8M1102.3,796.2h8M1054.1,723.2V813.7M1050.1,723.2h8M1050.1,813.7h8M1155.1,708.8V745.0M1151.1,708.8h8M1151.1,745.0h8M1161.9,624.2V770.2M1157.9,624.2h8M1157.9,770.2h8M1182.9,749.4V896.1M1178.9,749.4h8M1178.9,896.1h8M1175.5,718.5V885.5M1171.5,718.5h8M1171.5,885.5h8M1160.4,645.6V849.5M1156.4,645.6h8M1156.4,849.5h8M1165.4,703.2V891.2M1161.4,703.2h8M1161.4,891.2h8M1172.2,798.8V899.7M1168.2,798.8h8M1168.2,899.7h8M1175.4,779.7V983.3M1171.4,779.7h8M1171.4,983.3h8M1184.1,643.6V850.0M1180.1,643.6h8M1180.1,850.0h8M1178.9,723.7V890.6M1174.9,723.7h8M1174.9,890.6h8M1175.1,604.0V789.9M1171.1,604.0h8M1171.1,789.9h8M1167.7,610.9V799.7M1163.7,610.9h8M1163.7,799.7h8M1183.3,656.0V793.4M1179.3,656.0h8M1179.3,793.4h8M1186.9,621.0V802.2M1182.9,621.0h8M1182.9,802.2h8M1183.0,665.9V803.4M1179.0,665.9h8M1179.0,803.4h8M1181.7,810.4V938.1M1177.7,810.4h8M1177.7,938.1h8M1174.1,821.4V951.3M1170.1,821.4h8M1170.1,951.3h8M1179.2,707.5V818.6M1175.2,707.5h8M1175.2,818.6h8M1188.3,691.0V818.1M1184.3,691.0h8M1184.3,818.1h8M1179.8,695.6V852.3M1175.8,695.6h8M1175.8,852.3h8M1171.7,604.0V774.1M1167.7,604.0h8M1167.7,774.1h8M1181.0,623.1V847.6M1177.0,623.1h8M1177.0,847.6h8M1160.7,670.8V858.7M1156.7,670.8h8M1156.7,858.7h8M1167.7,766.0V849.5M1163.7,766.0h8M1163.7,849.5h8M1165.9,767.6V858.4M1161.9,767.6h8M1161.9,858.4h8M1167.5,626.8V786.1M1163.5,626.8h8M1163.5,786.1h8M1055.4,660.9V721.6M1051.4,660.9h8M1051.4,721.6h8M1090.2,873.3V964.3M1086.2,873.3h8M1086.2,964.3h8M1112.5,850.5V926.4M1108.5,850.5h8M1108.5,926.4h8M1028.5,824.0V861.9M1024.5,824.0h8M1024.5,861.9h8M1283.9,604.0V749.9M1279.9,604.0h8M1279.9,749.9h8M1271.7,604.0V677.4M1267.7,604.0h8M1267.7,677.4h8M1267.0,604.0V655.5M1263.0,604.0h8M1263.0,655.5h8M1268.9,604.0V778.9M1264.9,604.0h8M1264.9,778.9h8M1282.0,604.0V683.5M1278.0,604.0h8M1278.0,683.5h8M1297.5,604.0V749.3M1293.5,604.0h8M1293.5,749.3h8M1296.2,644.1V851.9M1292.2,644.1h8M1292.2,851.9h8M1313.8,604.0V775.0M1309.8,604.0h8M1309.8,775.0h8M1322.0,604.0V797.9M1318.0,604.0h8M1318.0,797.9h8M1304.3,669.5V800.1M1300.3,669.5h8M1300.3,800.1h8M1311.1,710.4V822.5M1307.1,710.4h8M1307.1,822.5h8M1326.1,629.0V815.8M1322.1,629.0h8M1322.1,815.8h8M1327.5,604.7V824.1M1323.5,604.7h8M1323.5,824.1h8M1332.9,663.9V870.3M1328.9,663.9h8M1328.9,870.3h8M1338.3,604.0V685.7M1334.3,604.0h8M1334.3,685.7h8M1346.5,604.0V713.5M1342.5,604.0h8M1342.5,713.5h8M1351.9,604.0V677.6M1347.9,604.0h8M1347.9,677.6h8M1354.7,604.0V682.5M1350.7,604.0h8M1350.7,682.5h8M1379.2,644.4V815.5M1375.2,644.4h8M1375.2,815.5h8M1358.8,625.0V872.7M1354.8,625.0h8M1354.8,872.7h8M1350.6,617.3V806.5M1346.6,617.3h8M1346.6,806.5h8M1343.8,666.7V912.5M1339.8,666.7h8M1339.8,912.5h8M1353.3,644.2V883.2M1349.3,644.2h8M1349.3,883.2h8M1337.0,714.1V840.9M1333.0,714.1h8M1333.0,840.9h8M1320.6,723.9V890.3M1316.6,723.9h8M1316.6,890.3h8M1315.2,749.0V938.1M1311.2,749.0h8M1311.2,938.1h8M1317.9,717.5V861.4M1313.9,717.5h8M1313.9,861.4h8M1327.5,671.8V889.3M1323.5,671.8h8M1323.5,889.3h8M1330.2,776.8V958.5M1326.2,776.8h8M1326.2,958.5h8M1331.5,731.9V955.1M1327.5,731.9h8M1327.5,955.1h8M1347.9,701.8V965.1M1343.9,701.8h8M1343.9,965.1h8M1349.2,787.7V924.8M1345.2,787.7h8M1345.2,924.8h8M1323.4,781.4V983.3M1319.4,781.4h8M1319.4,983.3h8M1346.5,863.1V983.3M1342.5,863.1h8M1342.5,983.3h8M1323.4,869.5V983.3M1319.4,869.5h8M1319.4,983.3h8M1337.0,903.1V983.3M1333.0,903.1h8M1333.0,983.3h8M1301.6,775.6V894.7M1297.6,775.6h8M1297.6,894.7h8M1305.7,649.7V909.4M1301.7,649.7h8M1301.7,909.4h8M1303.0,657.4V906.9M1299.0,657.4h8M1299.0,906.9h8M1285.3,865.5V983.3M1281.3,865.5h8M1281.3,983.3h8M1290.7,776.3V983.3M1286.7,776.3h8M1286.7,983.3h8M1293.4,753.4V983.3M1289.4,753.4h8M1289.4,983.3h8M1286.6,776.4V910.7M1282.6,776.4h8M1282.6,910.7h8M1285.3,644.7V845.2M1281.3,644.7h8M1281.3,845.2h8M1273.0,730.9V959.8M1269.0,730.9h8M1269.0,959.8h8M1271.7,665.8V932.8M1267.7,665.8h8M1267.7,932.8h8M1254.0,716.9V866.9M1250.0,716.9h8M1250.0,866.9h8M1260.8,608.4V840.7M1256.8,608.4h8M1256.8,840.7h8M1252.6,741.1V967.6M1248.6,741.1h8M1248.6,967.6h8M1247.2,817.6V983.3M1243.2,817.6h8M1243.2,983.3h8M1236.3,880.5V983.3M1232.3,880.5h8M1232.3,983.3h8M1251.2,847.2V983.3M1247.2,847.2h8M1247.2,983.3h8M1233.5,882.7V983.3M1229.5,882.7h8M1229.5,983.3h8M1243.1,931.1V983.3M1239.1,931.1h8M1239.1,983.3h8M1268.9,920.2V983.3M1264.9,920.2h8M1264.9,983.3h8M1237.6,766.7V950.8M1233.6,766.7h8M1233.6,950.8h8M1239.0,766.7V967.9M1235.0,766.7h8M1235.0,967.9h8M1240.4,728.4V877.1M1236.4,728.4h8M1236.4,877.1h8M1241.7,726.4V905.2M1237.7,726.4h8M1237.7,905.2h8M1241.7,719.2V863.9M1237.7,719.2h8M1237.7,863.9h8M1230.8,706.9V878.6M1226.8,706.9h8M1226.8,878.6h8M1229.5,621.3V895.6M1225.5,621.3h8M1225.5,895.6h8M1233.5,604.0V816.8M1229.5,604.0h8M1229.5,816.8h8M1241.7,677.0V831.9M1237.7,677.0h8M1237.7,831.9h8M1244.4,604.0V874.7M1240.4,604.0h8M1240.4,874.7h8M1217.2,604.0V760.8M1213.2,604.0h8M1213.2,760.8h8M1219.9,628.3V834.1M1215.9,628.3h8M1215.9,834.1h8M1215.9,604.0V842.7M1211.9,604.0h8M1211.9,842.7h8M1210.4,615.1V760.8M1206.4,615.1h8M1206.4,760.8h8M1205.0,604.0V778.5M1201.0,604.0h8M1201.0,778.5h8M1210.4,775.1V983.3M1206.4,775.1h8M1206.4,983.3h8M1206.3,708.2V862.7M1202.3,708.2h8M1202.3,862.7h8M1199.5,792.4V950.2M1195.5,792.4h8M1195.5,950.2h8M1195.4,774.3V966.8M1191.4,774.3h8M1191.4,966.8h8M1196.8,800.8V983.3M1192.8,800.8h8M1192.8,983.3h8M1192.7,724.7V887.4M1188.7,724.7h8M1188.7,887.4h8M1364.2,722.5V841.0M1360.2,722.5h8M1360.2,841.0h8M1364.2,707.8V902.3M1360.2,707.8h8M1360.2,902.3h8M1369.6,769.2V961.3M1365.6,769.2h8M1365.6,961.3h8M1371.0,799.0V941.8M1367.0,799.0h8M1367.0,941.8h8M1375.1,770.6V935.5M1371.1,770.6h8M1371.1,935.5h8M1372.4,730.0V833.2M1368.4,730.0h8M1368.4,833.2h8M1377.8,628.8V906.3M1373.8,628.8h8M1373.8,906.3h8M1379.2,612.8V774.0M1375.2,612.8h8M1375.2,774.0h8M1379.2,604.0V798.5M1375.2,604.0h8M1375.2,798.5h8M1369.6,604.0V685.2M1365.6,604.0h8M1365.6,685.2h8M1397.2,637.2V921.6M1393.2,637.2h8M1393.2,921.6h8M1390.4,713.4V755.6M1386.4,713.4h8M1386.4,755.6h8M1457.1,620.9V846.8M1453.1,620.9h8M1453.1,846.8h8M1474.8,615.4V868.5M1470.8,615.4h8M1470.8,868.5h8M1491.1,728.4V889.0M1487.1,728.4h8M1487.1,889.0h8M1495.2,793.7V908.0M1491.2,793.7h8M1491.2,908.0h8M1508.8,697.1V861.7M1504.8,697.1h8M1504.8,861.7h8M1518.3,657.6V946.1M1514.3,657.6h8M1514.3,946.1h8M1525.1,714.8V948.8M1521.1,714.8h8M1521.1,948.8h8M1533.3,627.7V927.1M1529.3,627.7h8M1529.3,927.1h8M1536.0,633.1V916.2M1532.0,633.1h8M1532.0,916.2h8M1538.8,638.5V921.6M1534.8,638.5h8M1534.8,921.6h8M1541.5,641.3V929.8M1537.5,641.3h8M1537.5,929.8h8M1544.2,703.9V908.0M1540.2,703.9h8M1540.2,908.0h8M1530.6,684.8V894.4M1526.6,684.8h8M1526.6,894.4h8M1527.9,714.8V935.2M1523.9,714.8h8M1523.9,935.2h8M1434.0,748.8V905.3M1430.0,748.8h8M1430.0,905.3h8M1521.1,769.2V940.7M1517.1,769.2h8M1517.1,940.7h8M1512.9,859.0V967.9M1508.9,859.0h8M1508.9,967.9h8M1515.6,867.2V967.9M1511.6,867.2h8M1511.6,967.9h8M1493.8,921.6V963.8M1489.8,921.6h8M1489.8,963.8h8M1546.9,880.8V921.6M1542.9,880.8h8M1542.9,921.6h8M1546.9,638.5V924.3M1542.9,638.5h8M1542.9,924.3h8" stroke="#111" stroke-width="1.5" fill="none"/>
<g fill="#000"><circle cx="1090.5" cy="854.2" r="4.6"/><circle cx="1098.1" cy="812.9" r="4.6"/><circle cx="1054.1" cy="831.4" r="4.6"/><circle cx="1041.8" cy="789.5" r="4.6"/><circle cx="1041.3" cy="767.9" r="4.6"/><circle cx="1162.6" cy="832.2" r="4.6"/><circle cx="1117.9" cy="800.2" r="4.6"/><circle cx="1100.9" cy="798.6" r="4.6"/><circle cx="1054.9" cy="785.7" r="4.6"/><circle cx="1088.9" cy="778.1" r="4.6"/><circle cx="1099.6" cy="810.2" r="4.6"/><circle cx="1091.2" cy="815.3" r="4.6"/><circle cx="1164.7" cy="724.3" r="4.6"/><circle cx="1071.9" cy="787.7" r="4.6"/><circle cx="1068.3" cy="736.4" r="4.6"/><circle cx="1144.1" cy="762.6" r="4.6"/><circle cx="1159.3" cy="785.5" r="4.6"/><circle cx="1152.8" cy="786.9" r="4.6"/><circle cx="1162.3" cy="796.1" r="4.6"/><circle cx="1134.9" cy="778.5" r="4.6"/><circle cx="1040.9" cy="827.3" r="4.6"/><circle cx="1045.0" cy="713.9" r="4.6"/><circle cx="1042.7" cy="732.5" r="4.6"/><circle cx="1105.1" cy="764.9" r="4.6"/><circle cx="1054.9" cy="788.0" r="4.6"/><circle cx="1044.8" cy="803.0" r="4.6"/><circle cx="1057.9" cy="796.7" r="4.6"/><circle cx="1070.4" cy="701.0" r="4.6"/><circle cx="1057.7" cy="835.9" r="4.6"/><circle cx="1042.6" cy="747.0" r="4.6"/><circle cx="1058.0" cy="788.9" r="4.6"/><circle cx="1069.3" cy="730.6" r="4.6"/><circle cx="1041.3" cy="806.9" r="4.6"/><circle cx="1079.6" cy="798.0" r="4.6"/><circle cx="1159.4" cy="828.0" r="4.6"/><circle cx="1053.9" cy="781.8" r="4.6"/><circle cx="1152.5" cy="776.0" r="4.6"/><circle cx="1129.6" cy="808.3" r="4.6"/><circle cx="1055.7" cy="722.6" r="4.6"/><circle cx="1086.3" cy="806.6" r="4.6"/><circle cx="1034.3" cy="762.9" r="4.6"/><circle cx="1063.9" cy="791.6" r="4.6"/><circle cx="1110.1" cy="791.5" r="4.6"/><circle cx="1038.4" cy="766.8" r="4.6"/><circle cx="1105.1" cy="759.4" r="4.6"/><circle cx="1153.8" cy="821.7" r="4.6"/><circle cx="1031.3" cy="790.3" r="4.6"/><circle cx="1053.0" cy="751.3" r="4.6"/><circle cx="1106.8" cy="765.4" r="4.6"/><circle cx="1162.3" cy="763.6" r="4.6"/><circle cx="1123.0" cy="801.4" r="4.6"/><circle cx="1031.4" cy="795.0" r="4.6"/><circle cx="1124.3" cy="779.6" r="4.6"/><circle cx="1094.6" cy="787.6" r="4.6"/><circle cx="1072.4" cy="773.3" r="4.6"/><circle cx="1129.2" cy="786.1" r="4.6"/><circle cx="1129.2" cy="802.5" r="4.6"/><circle cx="1076.8" cy="840.9" r="4.6"/><circle cx="1151.5" cy="763.0" r="4.6"/><circle cx="1146.4" cy="810.3" r="4.6"/><circle cx="1114.0" cy="817.6" r="4.6"/><circle cx="1039.9" cy="757.3" r="4.6"/><circle cx="1164.1" cy="748.2" r="4.6"/><circle cx="1129.0" cy="821.7" r="4.6"/><circle cx="1088.9" cy="779.0" r="4.6"/><circle cx="1033.1" cy="797.5" r="4.6"/><circle cx="1094.4" cy="779.9" r="4.6"/><circle cx="1112.6" cy="736.5" r="4.6"/><circle cx="1063.8" cy="758.8" r="4.6"/><circle cx="1056.6" cy="784.1" r="4.6"/><circle cx="1152.2" cy="804.7" r="4.6"/><circle cx="1073.5" cy="815.5" r="4.6"/><circle cx="1056.0" cy="839.0" r="4.6"/><circle cx="1148.7" cy="761.5" r="4.6"/><circle cx="1108.3" cy="793.1" r="4.6"/><circle cx="1142.8" cy="770.1" r="4.6"/><circle cx="1125.7" cy="761.4" r="4.6"/><circle cx="1090.3" cy="794.1" r="4.6"/><circle cx="1058.1" cy="824.8" r="4.6"/><circle cx="1071.9" cy="762.8" r="4.6"/><circle cx="1162.6" cy="798.2" r="4.6"/><circle cx="1147.7" cy="782.3" r="4.6"/><circle cx="1125.4" cy="811.1" r="4.6"/><circle cx="1031.6" cy="798.0" r="4.6"/><circle cx="1090.9" cy="726.1" r="4.6"/><circle cx="1048.2" cy="776.7" r="4.6"/><circle cx="1114.6" cy="829.0" r="4.6"/><circle cx="1138.8" cy="771.1" r="4.6"/><circle cx="1122.1" cy="774.6" r="4.6"/><circle cx="1030.5" cy="751.3" r="4.6"/><circle cx="1126.1" cy="775.0" r="4.6"/><circle cx="1123.8" cy="762.9" r="4.6"/><circle cx="1112.6" cy="784.8" r="4.6"/><circle cx="1152.2" cy="818.3" r="4.6"/><circle cx="1155.8" cy="789.0" r="4.6"/><circle cx="1114.1" cy="802.8" r="4.6"/><circle cx="1080.2" cy="846.3" r="4.6"/><circle cx="1157.4" cy="813.8" r="4.6"/><circle cx="1117.6" cy="771.6" r="4.6"/><circle cx="1116.3" cy="736.5" r="4.6"/><circle cx="1058.0" cy="712.9" r="4.6"/><circle cx="1102.0" cy="839.2" r="4.6"/><circle cx="1072.6" cy="732.5" r="4.6"/><circle cx="1040.3" cy="820.1" r="4.6"/><circle cx="1103.8" cy="781.8" r="4.6"/><circle cx="1139.0" cy="823.1" r="4.6"/><circle cx="1137.8" cy="772.5" r="4.6"/><circle cx="1048.1" cy="760.3" r="4.6"/><circle cx="1099.2" cy="796.3" r="4.6"/><circle cx="1157.6" cy="846.9" r="4.6"/><circle cx="1158.1" cy="766.5" r="4.6"/><circle cx="1068.5" cy="774.3" r="4.6"/><circle cx="1115.9" cy="847.5" r="4.6"/><circle cx="1071.4" cy="794.9" r="4.6"/><circle cx="1144.0" cy="768.2" r="4.6"/><circle cx="1160.7" cy="799.0" r="4.6"/><circle cx="1106.9" cy="774.0" r="4.6"/><circle cx="1111.3" cy="748.0" r="4.6"/><circle cx="1160.8" cy="818.5" r="4.6"/><circle cx="1105.5" cy="789.3" r="4.6"/><circle cx="1123.0" cy="749.3" r="4.6"/><circle cx="1159.1" cy="769.9" r="4.6"/><circle cx="1065.6" cy="802.6" r="4.6"/><circle cx="1139.9" cy="783.2" r="4.6"/><circle cx="1093.8" cy="794.7" r="4.6"/><circle cx="1154.8" cy="766.9" r="4.6"/><circle cx="1135.0" cy="765.1" r="4.6"/><circle cx="1122.4" cy="783.0" r="4.6"/><circle cx="1077.3" cy="797.1" r="4.6"/><circle cx="1045.7" cy="796.4" r="4.6"/><circle cx="1063.1" cy="773.3" r="4.6"/><circle cx="1080.1" cy="748.5" r="4.6"/><circle cx="1101.0" cy="774.4" r="4.6"/><circle cx="1115.8" cy="767.7" r="4.6"/><circle cx="1144.8" cy="834.6" r="4.6"/><circle cx="1129.7" cy="827.1" r="4.6"/><circle cx="1151.8" cy="797.3" r="4.6"/><circle cx="1058.7" cy="760.4" r="4.6"/><circle cx="1149.7" cy="770.2" r="4.6"/><circle cx="1064.3" cy="768.3" r="4.6"/><circle cx="1142.2" cy="836.3" r="4.6"/><circle cx="1083.8" cy="759.1" r="4.6"/><circle cx="1031.4" cy="771.2" r="4.6"/><circle cx="1160.7" cy="739.5" r="4.6"/><circle cx="1097.8" cy="784.1" r="4.6"/><circle cx="1054.7" cy="824.1" r="4.6"/><circle cx="1043.4" cy="746.4" r="4.6"/><circle cx="1106.3" cy="776.5" r="4.6"/><circle cx="1054.1" cy="768.4" r="4.6"/><circle cx="1155.1" cy="726.9" r="4.6"/><circle cx="1161.9" cy="697.2" r="4.6"/><circle cx="1182.9" cy="822.8" r="4.6"/><circle cx="1175.5" cy="802.0" r="4.6"/><circle cx="1160.4" cy="747.5" r="4.6"/><circle cx="1165.4" cy="797.2" r="4.6"/><circle cx="1172.2" cy="849.2" r="4.6"/><circle cx="1175.4" cy="885.4" r="4.6"/><circle cx="1184.1" cy="746.8" r="4.6"/><circle cx="1178.9" cy="807.2" r="4.6"/><circle cx="1175.1" cy="690.9" r="4.6"/><circle cx="1167.7" cy="705.3" r="4.6"/><circle cx="1183.3" cy="724.7" r="4.6"/><circle cx="1186.9" cy="711.6" r="4.6"/><circle cx="1183.0" cy="734.6" r="4.6"/><circle cx="1181.7" cy="874.3" r="4.6"/><circle cx="1174.1" cy="886.3" r="4.6"/><circle cx="1179.2" cy="763.0" r="4.6"/><circle cx="1188.3" cy="754.6" r="4.6"/><circle cx="1179.8" cy="774.0" r="4.6"/><circle cx="1171.7" cy="687.5" r="4.6"/><circle cx="1181.0" cy="735.3" r="4.6"/><circle cx="1160.7" cy="764.8" r="4.6"/><circle cx="1167.7" cy="807.8" r="4.6"/><circle cx="1165.9" cy="813.0" r="4.6"/><circle cx="1167.5" cy="706.4" r="4.6"/><circle cx="1055.4" cy="691.2" r="4.6"/><circle cx="1090.2" cy="918.8" r="4.6"/><circle cx="1112.5" cy="888.5" r="4.6"/><circle cx="1028.5" cy="843.0" r="4.6"/><circle cx="1214.5" cy="602.6" r="4.6"/><circle cx="1215.9" cy="608.6" r="4.6"/><circle cx="1218.0" cy="633.1" r="4.6"/><circle cx="1231.6" cy="614.1" r="4.6"/><circle cx="1254.5" cy="603.2" r="4.6"/><circle cx="1245.8" cy="682.1" r="4.6"/><circle cx="1283.9" cy="606.4" r="4.6"/><circle cx="1279.8" cy="610.8" r="4.6"/><circle cx="1277.1" cy="612.7" r="4.6"/><circle cx="1271.7" cy="614.1" r="4.6"/><circle cx="1267.0" cy="619.0" r="4.6"/><circle cx="1268.9" cy="638.5" r="4.6"/><circle cx="1277.1" cy="638.5" r="4.6"/><circle cx="1282.0" cy="632.6" r="4.6"/><circle cx="1282.5" cy="669.0" r="4.6"/><circle cx="1297.5" cy="614.1" r="4.6"/><circle cx="1296.2" cy="703.9" r="4.6"/><circle cx="1312.5" cy="663.6" r="4.6"/><circle cx="1313.8" cy="678.0" r="4.6"/><circle cx="1315.2" cy="684.8" r="4.6"/><circle cx="1322.0" cy="683.5" r="4.6"/><circle cx="1313.0" cy="717.5" r="4.6"/><circle cx="1304.3" cy="740.6" r="4.6"/><circle cx="1304.3" cy="746.1" r="4.6"/><circle cx="1311.1" cy="752.9" r="4.6"/><circle cx="1319.3" cy="742.0" r="4.6"/><circle cx="1326.1" cy="742.0" r="4.6"/><circle cx="1327.5" cy="733.8" r="4.6"/><circle cx="1332.9" cy="754.2" r="4.6"/><circle cx="1338.3" cy="648.1" r="4.6"/><circle cx="1337.0" cy="657.6" r="4.6"/><circle cx="1338.3" cy="679.4" r="4.6"/><circle cx="1346.5" cy="636.4" r="4.6"/><circle cx="1351.9" cy="637.2" r="4.6"/><circle cx="1354.7" cy="624.9" r="4.6"/><circle cx="1351.9" cy="697.9" r="4.6"/><circle cx="1375.1" cy="659.8" r="4.6"/><circle cx="1377.8" cy="697.1" r="4.6"/><circle cx="1379.2" cy="720.2" r="4.6"/><circle cx="1358.8" cy="736.5" r="4.6"/><circle cx="1358.8" cy="746.1" r="4.6"/><circle cx="1360.1" cy="759.7" r="4.6"/><circle cx="1350.6" cy="761.0" r="4.6"/><circle cx="1343.8" cy="771.9" r="4.6"/><circle cx="1353.3" cy="785.5" r="4.6"/><circle cx="1337.0" cy="785.5" r="4.6"/><circle cx="1320.6" cy="776.0" r="4.6"/><circle cx="1317.9" cy="782.8" r="4.6"/><circle cx="1315.2" cy="789.6" r="4.6"/><circle cx="1317.9" cy="799.1" r="4.6"/><circle cx="1327.5" cy="801.9" r="4.6"/><circle cx="1330.2" cy="818.2" r="4.6"/><circle cx="1331.5" cy="823.6" r="4.6"/><circle cx="1347.9" cy="820.9" r="4.6"/><circle cx="1343.8" cy="837.2" r="4.6"/><circle cx="1345.1" cy="852.2" r="4.6"/><circle cx="1349.2" cy="872.6" r="4.6"/><circle cx="1337.0" cy="845.4" r="4.6"/><circle cx="1323.4" cy="868.5" r="4.6"/><circle cx="1326.1" cy="874.0" r="4.6"/><circle cx="1341.1" cy="910.7" r="4.6"/><circle cx="1346.5" cy="954.3" r="4.6"/><circle cx="1323.4" cy="938.0" r="4.6"/><circle cx="1337.0" cy="981.5" r="4.6"/><circle cx="1307.0" cy="895.8" r="4.6"/><circle cx="1308.4" cy="859.0" r="4.6"/><circle cx="1301.6" cy="849.5" r="4.6"/><circle cx="1305.7" cy="774.6" r="4.6"/><circle cx="1303.0" cy="782.8" r="4.6"/><circle cx="1288.0" cy="886.2" r="4.6"/><circle cx="1292.1" cy="863.1" r="4.6"/><circle cx="1289.3" cy="943.4" r="4.6"/><circle cx="1285.3" cy="981.5" r="4.6"/><circle cx="1290.7" cy="899.8" r="4.6"/><circle cx="1293.4" cy="897.1" r="4.6"/><circle cx="1286.6" cy="812.7" r="4.6"/><circle cx="1285.3" cy="756.9" r="4.6"/><circle cx="1282.5" cy="793.7" r="4.6"/><circle cx="1279.8" cy="801.9" r="4.6"/><circle cx="1277.1" cy="831.8" r="4.6"/><circle cx="1273.0" cy="840.0" r="4.6"/><circle cx="1268.9" cy="823.6" r="4.6"/><circle cx="1271.7" cy="797.8" r="4.6"/><circle cx="1263.5" cy="780.1" r="4.6"/><circle cx="1255.3" cy="789.6" r="4.6"/><circle cx="1256.7" cy="797.8" r="4.6"/><circle cx="1254.0" cy="812.7" r="4.6"/><circle cx="1255.3" cy="744.7" r="4.6"/><circle cx="1259.4" cy="731.1" r="4.6"/><circle cx="1260.8" cy="722.9" r="4.6"/><circle cx="1251.2" cy="856.3" r="4.6"/><circle cx="1252.6" cy="865.8" r="4.6"/><circle cx="1258.0" cy="894.4" r="4.6"/><circle cx="1247.2" cy="924.3" r="4.6"/><circle cx="1252.6" cy="924.3" r="4.6"/><circle cx="1240.4" cy="921.6" r="4.6"/><circle cx="1236.3" cy="933.9" r="4.6"/><circle cx="1248.5" cy="962.4" r="4.6"/><circle cx="1251.2" cy="961.1" r="4.6"/><circle cx="1233.5" cy="972.0" r="4.6"/><circle cx="1243.1" cy="981.5" r="4.6"/><circle cx="1268.9" cy="977.4" r="4.6"/><circle cx="1237.6" cy="845.4" r="4.6"/><circle cx="1239.0" cy="829.1" r="4.6"/><circle cx="1240.4" cy="810.0" r="4.6"/><circle cx="1241.7" cy="774.6" r="4.6"/><circle cx="1241.7" cy="758.3" r="4.6"/><circle cx="1230.8" cy="804.6" r="4.6"/><circle cx="1229.5" cy="766.5" r="4.6"/><circle cx="1233.5" cy="708.0" r="4.6"/><circle cx="1241.7" cy="728.4" r="4.6"/><circle cx="1244.4" cy="728.4" r="4.6"/><circle cx="1225.4" cy="706.6" r="4.6"/><circle cx="1217.2" cy="725.6" r="4.6"/><circle cx="1219.9" cy="728.4" r="4.6"/><circle cx="1215.9" cy="705.2" r="4.6"/><circle cx="1210.4" cy="699.8" r="4.6"/><circle cx="1205.0" cy="699.8" r="4.6"/><circle cx="1213.1" cy="796.4" r="4.6"/><circle cx="1219.9" cy="780.1" r="4.6"/><circle cx="1210.4" cy="840.0" r="4.6"/><circle cx="1206.3" cy="791.0" r="4.6"/><circle cx="1202.2" cy="810.0" r="4.6"/><circle cx="1199.5" cy="860.4" r="4.6"/><circle cx="1195.4" cy="880.8" r="4.6"/><circle cx="1196.8" cy="925.7" r="4.6"/><circle cx="1192.7" cy="820.9" r="4.6"/><circle cx="1191.4" cy="788.2" r="4.6"/><circle cx="1219.9" cy="889.0" r="4.6"/><circle cx="1364.2" cy="788.2" r="4.6"/><circle cx="1369.6" cy="786.9" r="4.6"/><circle cx="1364.2" cy="812.7" r="4.6"/><circle cx="1369.6" cy="812.7" r="4.6"/><circle cx="1364.2" cy="872.6" r="4.6"/><circle cx="1364.2" cy="883.5" r="4.6"/><circle cx="1369.6" cy="891.7" r="4.6"/><circle cx="1371.0" cy="872.6" r="4.6"/><circle cx="1375.1" cy="859.0" r="4.6"/><circle cx="1361.5" cy="850.9" r="4.6"/><circle cx="1372.4" cy="769.2" r="4.6"/><circle cx="1377.8" cy="769.2" r="4.6"/><circle cx="1379.2" cy="649.4" r="4.6"/><circle cx="1379.2" cy="682.1" r="4.6"/><circle cx="1368.3" cy="607.2" r="4.6"/><circle cx="1369.6" cy="605.9" r="4.6"/><circle cx="1370.0" cy="605.9" r="4.6"/><circle cx="1386.3" cy="622.2" r="4.6"/><circle cx="1389.1" cy="637.2" r="4.6"/><circle cx="1380.9" cy="650.8" r="4.6"/><circle cx="1374.1" cy="660.3" r="4.6"/><circle cx="1385.0" cy="660.3" r="4.6"/><circle cx="1394.5" cy="675.3" r="4.6"/><circle cx="1401.3" cy="667.1" r="4.6"/><circle cx="1405.4" cy="659.0" r="4.6"/><circle cx="1413.5" cy="659.0" r="4.6"/><circle cx="1420.4" cy="665.8" r="4.6"/><circle cx="1410.8" cy="615.4" r="4.6"/><circle cx="1423.1" cy="616.8" r="4.6"/><circle cx="1419.0" cy="623.6" r="4.6"/><circle cx="1426.3" cy="605.3" r="4.6"/><circle cx="1382.2" cy="682.1" r="4.6"/><circle cx="1383.6" cy="693.0" r="4.6"/><circle cx="1376.8" cy="697.1" r="4.6"/><circle cx="1380.9" cy="720.7" r="4.6"/><circle cx="1397.2" cy="711.5" r="4.6"/><circle cx="1409.5" cy="714.8" r="4.6"/><circle cx="1390.4" cy="725.6" r="4.6"/><circle cx="1390.4" cy="733.8" r="4.6"/><circle cx="1400.5" cy="738.7" r="4.6"/><circle cx="1379.5" cy="767.8" r="4.6"/><circle cx="1375.4" cy="769.2" r="4.6"/><circle cx="1395.9" cy="789.6" r="4.6"/><circle cx="1402.7" cy="787.7" r="4.6"/><circle cx="1386.3" cy="795.1" r="4.6"/><circle cx="1424.4" cy="728.4" r="4.6"/><circle cx="1435.3" cy="768.7" r="4.6"/><circle cx="1444.9" cy="769.2" r="4.6"/><circle cx="1434.0" cy="793.1" r="4.6"/><circle cx="1427.2" cy="807.3" r="4.6"/><circle cx="1423.1" cy="824.2" r="4.6"/><circle cx="1448.9" cy="804.6" r="4.6"/><circle cx="1397.2" cy="812.7" r="4.6"/><circle cx="1394.5" cy="827.7" r="4.6"/><circle cx="1404.0" cy="819.6" r="4.6"/><circle cx="1398.6" cy="838.6" r="4.6"/><circle cx="1405.4" cy="834.5" r="4.6"/><circle cx="1417.6" cy="834.5" r="4.6"/><circle cx="1414.9" cy="844.0" r="4.6"/><circle cx="1421.7" cy="844.9" r="4.6"/><circle cx="1428.5" cy="841.3" r="4.6"/><circle cx="1436.7" cy="834.0" r="4.6"/><circle cx="1447.6" cy="838.6" r="4.6"/><circle cx="1387.7" cy="846.8" r="4.6"/><circle cx="1391.8" cy="848.1" r="4.6"/><circle cx="1393.1" cy="862.3" r="4.6"/><circle cx="1374.1" cy="859.0" r="4.6"/><circle cx="1372.7" cy="872.6" r="4.6"/><circle cx="1371.4" cy="890.3" r="4.6"/><circle cx="1414.9" cy="874.5" r="4.6"/><circle cx="1417.6" cy="890.3" r="4.6"/><circle cx="1412.2" cy="909.4" r="4.6"/><circle cx="1408.1" cy="920.3" r="4.6"/><circle cx="1413.5" cy="929.8" r="4.6"/><circle cx="1431.2" cy="868.5" r="4.6"/><circle cx="1440.8" cy="897.9" r="4.6"/><circle cx="1404.0" cy="950.2" r="4.6"/><circle cx="1398.6" cy="957.0" r="4.6"/><circle cx="1419.0" cy="957.0" r="4.6"/><circle cx="1454.4" cy="918.9" r="4.6"/><circle cx="1442.1" cy="863.1" r="4.6"/><circle cx="1453.0" cy="879.4" r="4.6"/><circle cx="1466.6" cy="619.5" r="4.6"/><circle cx="1455.7" cy="720.2" r="4.6"/><circle cx="1463.9" cy="713.4" r="4.6"/><circle cx="1465.3" cy="725.6" r="4.6"/><circle cx="1474.8" cy="741.4" r="4.6"/><circle cx="1478.9" cy="763.8" r="4.6"/><circle cx="1468.0" cy="777.9" r="4.6"/><circle cx="1469.3" cy="787.7" r="4.6"/><circle cx="1457.1" cy="787.7" r="4.6"/><circle cx="1462.5" cy="808.1" r="4.6"/><circle cx="1459.8" cy="821.7" r="4.6"/><circle cx="1473.4" cy="821.7" r="4.6"/><circle cx="1480.2" cy="857.7" r="4.6"/><circle cx="1472.1" cy="868.5" r="4.6"/><circle cx="1480.2" cy="875.3" r="4.6"/><circle cx="1477.5" cy="883.5" r="4.6"/><circle cx="1483.0" cy="883.5" r="4.6"/><circle cx="1481.6" cy="891.7" r="4.6"/><circle cx="1484.3" cy="788.2" r="4.6"/><circle cx="1487.0" cy="785.5" r="4.6"/><circle cx="1488.4" cy="801.9" r="4.6"/><circle cx="1491.1" cy="807.3" r="4.6"/><circle cx="1495.2" cy="812.7" r="4.6"/><circle cx="1495.2" cy="859.0" r="4.6"/><circle cx="1500.6" cy="882.2" r="4.6"/><circle cx="1497.9" cy="909.4" r="4.6"/><circle cx="1503.4" cy="916.2" r="4.6"/><circle cx="1502.0" cy="929.8" r="4.6"/><circle cx="1492.5" cy="942.8" r="4.6"/><circle cx="1487.0" cy="958.4" r="4.6"/><circle cx="1500.6" cy="678.0" r="4.6"/><circle cx="1506.1" cy="683.5" r="4.6"/><circle cx="1507.5" cy="716.1" r="4.6"/><circle cx="1510.2" cy="821.7" r="4.6"/><circle cx="1518.3" cy="659.0" r="4.6"/><circle cx="1522.4" cy="697.1" r="4.6"/><circle cx="1533.3" cy="710.7" r="4.6"/><circle cx="1527.9" cy="724.3" r="4.6"/><circle cx="1530.6" cy="739.3" r="4.6"/><circle cx="1522.4" cy="771.9" r="4.6"/><circle cx="1527.9" cy="774.6" r="4.6"/><circle cx="1521.1" cy="791.0" r="4.6"/><circle cx="1526.5" cy="804.6" r="4.6"/><circle cx="1518.3" cy="808.7" r="4.6"/><circle cx="1533.3" cy="804.6" r="4.6"/><circle cx="1538.8" cy="785.5" r="4.6"/><circle cx="1541.5" cy="728.4" r="4.6"/><circle cx="1541.5" cy="751.5" r="4.6"/><circle cx="1549.6" cy="758.3" r="4.6"/><circle cx="1537.4" cy="831.8" r="4.6"/><circle cx="1544.2" cy="852.2" r="4.6"/><circle cx="1540.1" cy="842.7" r="4.6"/><circle cx="1544.2" cy="820.9" r="4.6"/><circle cx="1548.3" cy="829.1" r="4.6"/><circle cx="1526.5" cy="883.5" r="4.6"/><circle cx="1523.8" cy="883.5" r="4.6"/><circle cx="1549.6" cy="879.4" r="4.6"/><circle cx="1545.6" cy="884.9" r="4.6"/><circle cx="1511.5" cy="902.6" r="4.6"/><circle cx="1514.3" cy="918.9" r="4.6"/><circle cx="1515.6" cy="927.1" r="4.6"/><circle cx="1514.3" cy="940.7" r="4.6"/><circle cx="1515.6" cy="943.4" r="4.6"/><circle cx="1546.9" cy="912.1" r="4.6"/><circle cx="1536.0" cy="619.5" r="4.6"/></g>
<polyline points="1027.5,876.9 1033.6,874.0 1036.3,879.6 1040.4,856.4 1047.2,821.0 1055.4,796.5 1062.2,789.7 1066.3,802.0 1071.7,821.0 1077.2,818.3 1082.6,832.0 1086.7,856.4 1092.2,848.3 1099.0,857.8 1104.4,856.4 1109.9,863.2 1115.3,870.0 1122.1,829.2 1128.9,810.0 1134.4,785.6 1139.8,777.5 1145.3,812.9 1149.4,758.4 1153.4,761.0 1158.9,733.9 1161.6,709.4 1168.4,701.2 1173.9,663.0 1178.0,679.4 1183.4,684.9 1188.8,686.2 1190.0,684.8 1192.7,728.4 1196.8,709.3 1200.9,699.8 1206.3,703.9 1209.0,739.3 1214.5,747.4 1217.2,739.3 1222.7,758.3 1228.1,769.2 1232.2,791.0 1236.3,785.5 1241.7,791.0 1247.2,799.1 1251.2,771.9 1255.3,758.3 1263.5,761.0 1268.9,758.3 1271.7,733.8 1277.1,769.2 1282.5,780.1 1288.0,785.5 1293.4,807.3 1298.9,840.0 1301.6,886.2 1307.0,875.3 1312.5,889.0 1316.6,902.6 1320.6,891.7 1326.1,880.8 1331.5,889.0 1342.4,889.0 1346.5,880.8 1350.6,910.7 1353.3,921.6 1357.4,867.2 1361.5,791.0 1369.6,791.0 1375.4,771.9 1379.5,769.2 1382.2,891.7 1386.3,894.4 1394.5,897.1 1398.6,927.0 1399.9,856.3 1405.4,853.6 1408.1,834.5 1412.2,785.5 1414.9,725.6 1424.4,728.4 1427.2,799.1 1438.0,799.1 1442.1,834.5 1444.9,872.6 1448.9,878.0 1450.3,932.5 1457.1,927.0 1465.3,921.6 1473.4,920.3 1481.6,924.3 1489.8,910.7 1495.2,902.6 1499.3,891.7 1506.1,894.4 1511.5,899.8 1517.0,905.3 1522.4,908.0 1527.9,905.3 1533.3,913.4 1538.8,916.2 1544.2,916.2 1548.3,921.6 1551.0,917.5" fill="none" stroke="#e81010" stroke-width="2.8" stroke-linejoin="round"/>
<rect x="1027" y="604" width="523.5999999999999" height="379.29999999999995" fill="none" stroke="#111" stroke-width="1.5"/>
<text x="1011" y="989.3" font-size="16.5" fill="#000" text-anchor="end" >0.0</text>
<text x="1011" y="913.4399999999999" font-size="16.5" fill="#000" text-anchor="end" >0.2</text>
<text x="1011" y="837.5799999999999" font-size="16.5" fill="#000" text-anchor="end" >0.4</text>
<text x="1011" y="761.72" font-size="16.5" fill="#000" text-anchor="end" >0.6</text>
<text x="1011" y="685.86" font-size="16.5" fill="#000" text-anchor="end" >0.8</text>
<text x="1011" y="610.0" font-size="16.5" fill="#000" text-anchor="end" >1.0</text>
<text x="1565" y="989.3" font-size="16.5" fill="#e81010" text-anchor="start" >0.0</text>
<text x="1565" y="941.8874999999999" font-size="16.5" fill="#e81010" text-anchor="start" >0.1</text>
<text x="1565" y="894.4749999999999" font-size="16.5" fill="#e81010" text-anchor="start" >0.2</text>
<text x="1565" y="847.0625" font-size="16.5" fill="#e81010" text-anchor="start" >0.3</text>
<text x="1565" y="799.65" font-size="16.5" fill="#e81010" text-anchor="start" >0.4</text>
<text x="1565" y="752.2375" font-size="16.5" fill="#e81010" text-anchor="start" >0.5</text>
<text x="1565" y="704.825" font-size="16.5" fill="#e81010" text-anchor="start" >0.6</text>
<text x="1565" y="657.4125" font-size="16.5" fill="#e81010" text-anchor="start" >0.7</text>
<text x="1565" y="610.0" font-size="16.5" fill="#e81010" text-anchor="start" >0.8</text>
<path d="M1021,983.3h6M1021,907.4h6M1021,831.6h6M1021,755.7h6M1021,679.9h6M1021,604.0h6M1550.6,983.3h6M1550.6,935.9h6M1550.6,888.5h6M1550.6,841.1h6M1550.6,793.6h6M1550.6,746.2h6M1550.6,698.8h6M1550.6,651.4h6M1550.6,604.0h6M1025.1,983.3v6M1054.0,983.3v6M1083.4,983.3v6M1113.2,983.3v6M1142.6,983.3v6M1172.0,983.3v6M1201.3,983.3v6M1230.7,983.3v6M1260.1,983.3v6M1289.4,983.3v6M1318.8,983.3v6M1347.7,983.3v6M1377.0,983.3v6M1406.4,983.3v6M1435.2,983.3v6M1464.6,983.3v6M1494.0,983.3v6M1522.8,983.3v6M1550.6,983.3v6" stroke="#111" stroke-width="1.5"/>
<text x="0" y="0" font-size="17" fill="#000" text-anchor="middle" textLength="153" lengthAdjust="spacingAndGlyphs" transform="translate(970,791.5) rotate(-90)">Nocturnality index</text>
<text x="0" y="0" font-size="17.5" fill="#e81010" text-anchor="middle" textLength="246" lengthAdjust="spacingAndGlyphs" transform="translate(1618.5,792.3) rotate(-90)">Displacement in 2 hours (km)</text>
<text x="856.6" y="597.9" font-size="79" fill="#000" text-anchor="start" textLength="52" lengthAdjust="spacingAndGlyphs" >E</text>
<text x="1121.3" y="580" font-size="40.5" fill="#000" text-anchor="start" textLength="415.5" lengthAdjust="spacingAndGlyphs" >Mesic Seasonal (MS)</text>
<g fill="#0a7a0a"><rect x="1049.1" y="1087.1" width="1.5" height="61.6"/><rect x="1049.9" y="1132.8" width="1.5" height="15.9"/><rect x="1053.0" y="1114.9" width="1.5" height="33.8"/><rect x="1054.1" y="1086.1" width="1.5" height="62.6"/><rect x="1055.7" y="1128.8" width="1.5" height="19.9"/><rect x="1064.2" y="1138.8" width="1.5" height="9.9"/><rect x="1065.8" y="1140.7" width="1.5" height="8.0"/><rect x="1074.3" y="1134.8" width="1.5" height="13.9"/><rect x="1078.9" y="1134.8" width="1.5" height="13.9"/><rect x="1083.6" y="1136.8" width="1.5" height="11.9"/><rect x="1093.7" y="1140.7" width="1.5" height="8.0"/><rect x="1096.8" y="1128.8" width="1.5" height="19.9"/><rect x="1101.4" y="1128.8" width="1.5" height="19.9"/><rect x="1111.9" y="1142.7" width="1.5" height="6.0"/><rect x="1113.9" y="1127.8" width="1.5" height="20.9"/><rect x="1117.7" y="1132.8" width="1.5" height="15.9"/><rect x="1120.1" y="1134.8" width="1.5" height="13.9"/><rect x="1123.2" y="1136.8" width="1.5" height="11.9"/><rect x="1127.4" y="1114.9" width="1.5" height="33.8"/><rect x="1130.1" y="1142.7" width="1.5" height="6.0"/><rect x="1137.1" y="1128.8" width="1.5" height="19.9"/><rect x="1137.9" y="1117.9" width="1.5" height="30.8"/><rect x="1146.4" y="1084.1" width="1.5" height="64.6"/><rect x="1148.0" y="1079.1" width="1.5" height="69.6"/><rect x="1150.7" y="1132.8" width="1.5" height="15.9"/><rect x="1156.5" y="1121.9" width="1.5" height="26.8"/><rect x="1158.5" y="1140.7" width="1.5" height="8.0"/><rect x="1171.3" y="1146.7" width="1.5" height="2.0"/><rect x="1184.5" y="1130.8" width="1.5" height="17.9"/><rect x="1186.4" y="1115.9" width="1.5" height="32.8"/><rect x="1187.6" y="1114.9" width="1.5" height="33.8"/><rect x="1193.8" y="1136.8" width="1.5" height="11.9"/><rect x="1200.4" y="1124.8" width="1.5" height="23.9"/><rect x="1213.9" y="1134.8" width="1.5" height="13.9"/><rect x="1225.2" y="1127.8" width="1.5" height="20.9"/><rect x="1230.2" y="1142.7" width="1.5" height="6.0"/><rect x="1232.2" y="1142.7" width="1.5" height="6.0"/><rect x="1237.2" y="1020.4" width="1.5" height="128.3"/><rect x="1248.8" y="1137.8" width="1.5" height="10.9"/><rect x="1272.9" y="1126.8" width="1.5" height="21.9"/><rect x="1293.8" y="1110.9" width="1.5" height="37.8"/><rect x="1300.4" y="1135.8" width="1.5" height="12.9"/><rect x="1307.0" y="1101.0" width="1.5" height="47.7"/><rect x="1324.1" y="1131.8" width="1.5" height="16.9"/><rect x="1329.1" y="1120.9" width="1.5" height="27.8"/><rect x="1335.7" y="1037.3" width="1.5" height="111.4"/><rect x="1338.1" y="1126.8" width="1.5" height="21.9"/><rect x="1356.3" y="1142.7" width="1.5" height="6.0"/><rect x="1366.0" y="1135.8" width="1.5" height="12.9"/><rect x="1385.4" y="1139.8" width="1.5" height="8.9"/><rect x="1395.9" y="1114.9" width="1.5" height="33.8"/><rect x="1407.9" y="1124.8" width="1.5" height="23.9"/><rect x="1409.4" y="1140.7" width="1.5" height="8.0"/><rect x="1421.1" y="1136.8" width="1.5" height="11.9"/><rect x="1423.4" y="1111.9" width="1.5" height="36.8"/><rect x="1425.7" y="1132.8" width="1.5" height="15.9"/><rect x="1434.6" y="1122.8" width="1.5" height="25.9"/><rect x="1438.9" y="1112.9" width="1.5" height="35.8"/><rect x="1442.8" y="1138.8" width="1.5" height="9.9"/><rect x="1449.8" y="1136.8" width="1.5" height="11.9"/><rect x="1456.0" y="1142.7" width="1.5" height="6.0"/><rect x="1461.4" y="1144.7" width="1.5" height="4.0"/><rect x="1466.8" y="1129.8" width="1.5" height="18.9"/><rect x="1469.2" y="1130.8" width="1.5" height="17.9"/><rect x="1471.5" y="1140.7" width="1.5" height="8.0"/><rect x="1478.5" y="1092.0" width="1.5" height="56.7"/><rect x="1480.0" y="1130.8" width="1.5" height="17.9"/><rect x="1501.8" y="1142.7" width="1.5" height="6.0"/><rect x="1511.4" y="1146.7" width="1.5" height="2.0"/><rect x="1520.0" y="1120.9" width="1.5" height="27.8"/><rect x="1521.1" y="1103.0" width="1.5" height="45.7"/><rect x="1525.4" y="1125.8" width="1.5" height="22.9"/><rect x="1527.7" y="1142.7" width="1.5" height="6.0"/><rect x="1534.7" y="1135.8" width="1.5" height="12.9"/><rect x="1540.5" y="1134.8" width="1.5" height="13.9"/><rect x="1544.4" y="1143.7" width="1.5" height="5.0"/><rect x="1547.5" y="1140.7" width="1.5" height="8.0"/><rect x="1032.4" y="1146.7" width="1.5" height="2.0"/><rect x="1036.3" y="1146.7" width="1.5" height="2.0"/></g>
<path d="M1028,1009.5V1148.7H1552" stroke="#111" stroke-width="1.5" fill="none"/>
<text x="1012.4" y="1154.2" font-size="16.5" fill="#14841c" text-anchor="end" textLength="9.3" lengthAdjust="spacingAndGlyphs" >0</text>
<text x="1012.4" y="1134.3142857142857" font-size="16.5" fill="#14841c" text-anchor="end" textLength="18.6" lengthAdjust="spacingAndGlyphs" >10</text>
<text x="1012.4" y="1114.4285714285716" font-size="16.5" fill="#14841c" text-anchor="end" textLength="18.6" lengthAdjust="spacingAndGlyphs" >20</text>
<text x="1012.4" y="1094.5428571428572" font-size="16.5" fill="#14841c" text-anchor="end" textLength="18.6" lengthAdjust="spacingAndGlyphs" >30</text>
<text x="1012.4" y="1074.6571428571428" font-size="16.5" fill="#14841c" text-anchor="end" textLength="18.6" lengthAdjust="spacingAndGlyphs" >40</text>
<text x="1012.4" y="1054.7714285714285" font-size="16.5" fill="#14841c" text-anchor="end" textLength="18.6" lengthAdjust="spacingAndGlyphs" >50</text>
<text x="1012.4" y="1034.8857142857144" font-size="16.5" fill="#14841c" text-anchor="end" textLength="18.6" lengthAdjust="spacingAndGlyphs" >60</text>
<text x="1012.4" y="1015.0" font-size="16.5" fill="#14841c" text-anchor="end" textLength="18.6" lengthAdjust="spacingAndGlyphs" >70</text>
<path d="M1022,1148.7h6M1022,1128.8h6M1022,1108.9h6M1022,1089.0h6M1022,1069.2h6M1022,1049.3h6M1022,1029.4h6M1022,1009.5h6M1028.1,1148.7v6M1056.4,1148.7v6M1085.5,1148.7v6M1113.4,1148.7v6M1141.7,1148.7v6M1171.6,1148.7v6M1202.6,1148.7v6M1229.8,1148.7v6M1261.2,1148.7v6M1291.4,1148.7v6M1319.4,1148.7v6M1347.3,1148.7v6M1376.4,1148.7v6M1406.6,1148.7v6M1434.6,1148.7v6M1462.5,1148.7v6M1490.8,1148.7v6M1520.7,1148.7v6M1552.1,1148.7v6" stroke="#111" stroke-width="1.5"/>
<text x="1031.2" y="1177" font-size="19.5" fill="#000" text-anchor="middle" >M</text>
<text x="1055.6" y="1177" font-size="19.5" fill="#000" text-anchor="middle" >J</text>
<text x="1085.5" y="1177" font-size="19.5" fill="#000" text-anchor="middle" >J</text>
<text x="1113.4" y="1177" font-size="19.5" fill="#000" text-anchor="middle" >A</text>
<text x="1141.7" y="1177" font-size="19.5" fill="#000" text-anchor="middle" >S</text>
<text x="1171.6" y="1177" font-size="19.5" fill="#000" text-anchor="middle" >O</text>
<text x="1202.6" y="1177" font-size="19.5" fill="#000" text-anchor="middle" >N</text>
<text x="1229.8" y="1177" font-size="19.5" fill="#000" text-anchor="middle" >D</text>
<text x="1261.2" y="1177" font-size="19.5" fill="#000" text-anchor="middle" >J</text>
<text x="1291.4" y="1177" font-size="19.5" fill="#000" text-anchor="middle" >F</text>
<text x="1319.4" y="1177" font-size="19.5" fill="#000" text-anchor="middle" >M</text>
<text x="1347.3" y="1177" font-size="19.5" fill="#000" text-anchor="middle" >A</text>
<text x="1376.4" y="1177" font-size="19.5" fill="#000" text-anchor="middle" >M</text>
<text x="1406.6" y="1177" font-size="19.5" fill="#000" text-anchor="middle" >J</text>
<text x="1434.6" y="1177" font-size="19.5" fill="#000" text-anchor="middle" >J</text>
<text x="1462.5" y="1177" font-size="19.5" fill="#000" text-anchor="middle" >A</text>
<text x="1490.8" y="1177" font-size="19.5" fill="#000" text-anchor="middle" >S</text>
<text x="1520.7" y="1177" font-size="19.5" fill="#000" text-anchor="middle" >O</text>
<text x="1551.7" y="1177" font-size="19.5" fill="#000" text-anchor="middle" >N</text>
<text x="1134" y="1199.6" font-size="18" fill="#000" text-anchor="middle" >2010</text>
<text x="1371.3" y="1199.6" font-size="18" fill="#000" text-anchor="middle" >2011</text>
<text x="0" y="0" font-size="18" fill="#14841c" text-anchor="middle" textLength="177" lengthAdjust="spacingAndGlyphs" transform="translate(974.5,1078.7) rotate(-90)">Rainfall per day (mm)</text>
<rect x="1029.2" y="1235.0" width="16" height="109.3" fill="#0a7a0a" stroke="#0a3a0a" stroke-width="1.2"/>
<rect x="1058.4" y="1299.5" width="16" height="44.8" fill="#0a7a0a" stroke="#0a3a0a" stroke-width="1.2"/>
<rect x="1087.5" y="1302.7" width="16" height="41.6" fill="#0a7a0a" stroke="#0a3a0a" stroke-width="1.2"/>
<rect x="1116.7" y="1238.1" width="16" height="106.2" fill="#0a7a0a" stroke="#0a3a0a" stroke-width="1.2"/>
<rect x="1145.9" y="1232.9" width="16" height="111.4" fill="#0a7a0a" stroke="#0a3a0a" stroke-width="1.2"/>
<rect x="1175.1" y="1269.4" width="16" height="74.9" fill="#0a7a0a" stroke="#0a3a0a" stroke-width="1.2"/>
<rect x="1204.2" y="1317.2" width="16" height="27.1" fill="#0a7a0a" stroke="#0a3a0a" stroke-width="1.2"/>
<rect x="1233.4" y="1245.4" width="16" height="98.9" fill="#0a7a0a" stroke="#0a3a0a" stroke-width="1.2"/>
<rect x="1262.6" y="1331.8" width="16" height="12.5" fill="#0a7a0a" stroke="#0a3a0a" stroke-width="1.2"/>
<rect x="1291.7" y="1281.8" width="16" height="62.4" fill="#0a7a0a" stroke="#0a3a0a" stroke-width="1.2"/>
<rect x="1320.9" y="1228.8" width="16" height="115.5" fill="#0a7a0a" stroke="#0a3a0a" stroke-width="1.2"/>
<rect x="1350.1" y="1327.6" width="16" height="16.7" fill="#0a7a0a" stroke="#0a3a0a" stroke-width="1.2"/>
<rect x="1379.2" y="1293.3" width="16" height="51.0" fill="#0a7a0a" stroke="#0a3a0a" stroke-width="1.2"/>
<rect x="1408.4" y="1286.0" width="16" height="58.3" fill="#0a7a0a" stroke="#0a3a0a" stroke-width="1.2"/>
<rect x="1437.6" y="1275.6" width="16" height="68.7" fill="#0a7a0a" stroke="#0a3a0a" stroke-width="1.2"/>
<rect x="1466.8" y="1261.0" width="16" height="83.3" fill="#0a7a0a" stroke="#0a3a0a" stroke-width="1.2"/>
<rect x="1495.9" y="1317.2" width="16" height="27.1" fill="#0a7a0a" stroke="#0a3a0a" stroke-width="1.2"/>
<rect x="1525.1" y="1278.7" width="16" height="65.6" fill="#0a7a0a" stroke="#0a3a0a" stroke-width="1.2"/>
<path d="M1026,1219.4V1344.3H1551.7" stroke="#111" stroke-width="1.5" fill="none"/>
<text x="1010.7" y="1349.8" font-size="16.5" fill="#14841c" text-anchor="end" textLength="9.2" lengthAdjust="spacingAndGlyphs" >0</text>
<text x="1010.7" y="1328.9833333333333" font-size="16.5" fill="#14841c" text-anchor="end" textLength="18.4" lengthAdjust="spacingAndGlyphs" >20</text>
<text x="1010.7" y="1308.1666666666667" font-size="16.5" fill="#14841c" text-anchor="end" textLength="18.4" lengthAdjust="spacingAndGlyphs" >40</text>
<text x="1010.7" y="1287.35" font-size="16.5" fill="#14841c" text-anchor="end" textLength="18.4" lengthAdjust="spacingAndGlyphs" >60</text>
<text x="1010.7" y="1266.5333333333333" font-size="16.5" fill="#14841c" text-anchor="end" textLength="18.4" lengthAdjust="spacingAndGlyphs" >80</text>
<text x="1010.7" y="1245.7166666666667" font-size="16.5" fill="#14841c" text-anchor="end" textLength="27.599999999999998" lengthAdjust="spacingAndGlyphs" >100</text>
<text x="1010.7" y="1224.9" font-size="16.5" fill="#14841c" text-anchor="end" textLength="27.599999999999998" lengthAdjust="spacingAndGlyphs" >120</text>
<path d="M1020,1344.3h6M1020,1323.5h6M1020,1302.7h6M1020,1281.8h6M1020,1261.0h6M1020,1240.2h6M1020,1219.4h6M1037.2,1344.3v6M1066.4,1344.3v6M1095.5,1344.3v6M1124.7,1344.3v6M1153.9,1344.3v6M1183.1,1344.3v6M1212.2,1344.3v6M1241.4,1344.3v6M1270.6,1344.3v6M1299.7,1344.3v6M1328.9,1344.3v6M1358.1,1344.3v6M1387.2,1344.3v6M1416.4,1344.3v6M1445.6,1344.3v6M1474.8,1344.3v6M1503.9,1344.3v6M1533.1,1344.3v6" stroke="#111" stroke-width="1.5"/>
<text x="1037.2" y="1368" font-size="18.5" fill="#000" text-anchor="middle" >M</text>
<text x="1066.4" y="1368" font-size="18.5" fill="#000" text-anchor="middle" >J</text>
<text x="1095.5" y="1368" font-size="18.5" fill="#000" text-anchor="middle" >J</text>
<text x="1124.7" y="1368" font-size="18.5" fill="#000" text-anchor="middle" >A</text>
<text x="1153.9" y="1368" font-size="18.5" fill="#000" text-anchor="middle" >S</text>
<text x="1183.1" y="1368" font-size="18.5" fill="#000" text-anchor="middle" >O</text>
<text x="1212.2" y="1368" font-size="18.5" fill="#000" text-anchor="middle" >N</text>
<text x="1241.4" y="1368" font-size="18.5" fill="#000" text-anchor="middle" >D</text>
<text x="1270.6" y="1368" font-size="18.5" fill="#000" text-anchor="middle" >J</text>
<text x="1299.7" y="1368" font-size="18.5" fill="#000" text-anchor="middle" >F</text>
<text x="1328.9" y="1368" font-size="18.5" fill="#000" text-anchor="middle" >M</text>
<text x="1358.1" y="1368" font-size="18.5" fill="#000" text-anchor="middle" >A</text>
<text x="1387.2" y="1368" font-size="18.5" fill="#000" text-anchor="middle" >M</text>
<text x="1416.4" y="1368" font-size="18.5" fill="#000" text-anchor="middle" >J</text>
<text x="1445.6" y="1368" font-size="18.5" fill="#000" text-anchor="middle" >J</text>
<text x="1474.8" y="1368" font-size="18.5" fill="#000" text-anchor="middle" >A</text>
<text x="1503.9" y="1368" font-size="18.5" fill="#000" text-anchor="middle" >S</text>
<text x="1533.1" y="1368" font-size="18.5" fill="#000" text-anchor="middle" >O</text>
<text x="1134" y="1388.5" font-size="18" fill="#000" text-anchor="middle" >2010</text>
<text x="1369.8" y="1387" font-size="18" fill="#000" text-anchor="middle" >2011</text>
<text x="0" y="0" font-size="18" fill="#14841c" text-anchor="middle" textLength="201" lengthAdjust="spacingAndGlyphs" transform="translate(975,1281.5) rotate(-90)">Rainfall per month (mm)</text>
</svg></body></html>
